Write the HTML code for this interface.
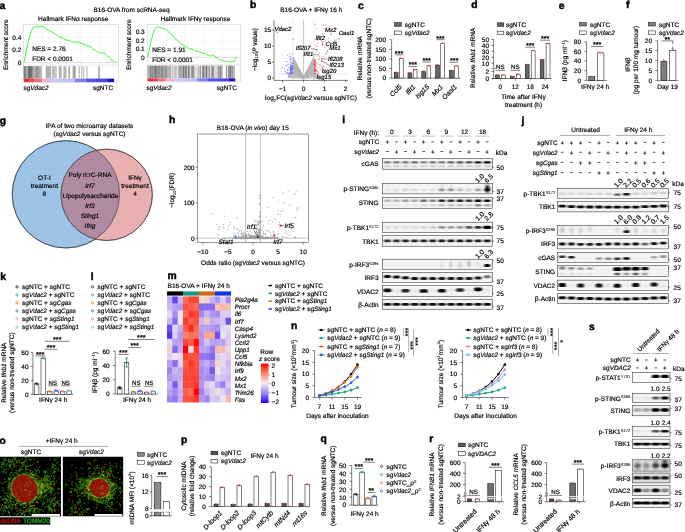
<!DOCTYPE html>
<html><head><meta charset="utf-8"><title>Figure</title>
<style>
html,body{margin:0;padding:0;background:#fff}
svg{display:block;text-rendering:geometricPrecision;font-family:"Liberation Sans",sans-serif;font-size:6.5px;stroke-width:0.18px}
text{stroke:#000;stroke-width:0.18px}
</style></head><body>
<svg width="685" height="532" viewBox="0 0 685 532">
<defs><filter id="bl" x="-30%" y="-60%" width="160%" height="220%"><feGaussianBlur stdDeviation="0.8 0.6"/></filter><filter id="bl2" x="-30%" y="-60%" width="160%" height="220%"><feGaussianBlur stdDeviation="0.9 0.9"/></filter><filter id="mb" x="-10%" y="-10%" width="120%" height="120%"><feGaussianBlur stdDeviation="0.5"/></filter><filter id="mb2" x="-10%" y="-10%" width="120%" height="120%"><feGaussianBlur stdDeviation="2.2"/></filter></defs>
<rect width="685" height="532" fill="#fff"/>
<text x="-0.50" y="8.51" font-weight="bold" style="stroke-width:0.45px" font-size="10.3">a</text>
<text x="131.50" y="12.34" text-anchor="middle">B16-OVA from scRNA-seq</text>
<rect x="23.40" y="24.40" width="95.20" height="58.20" fill="#fff" stroke="#c8c8c8" stroke-width="0.5"/>
<line x1="23.40" y1="37.60" x2="118.60" y2="37.60" stroke="#ececec" stroke-width="0.4"/>
<line x1="23.40" y1="50.10" x2="118.60" y2="50.10" stroke="#ececec" stroke-width="0.4"/>
<line x1="23.40" y1="62.60" x2="118.60" y2="62.60" stroke="#ececec" stroke-width="0.4"/>
<line x1="42.44" y1="24.40" x2="42.44" y2="65.20" stroke="#ececec" stroke-width="0.4"/>
<line x1="61.48" y1="24.40" x2="61.48" y2="65.20" stroke="#ececec" stroke-width="0.4"/>
<line x1="80.52" y1="24.40" x2="80.52" y2="65.20" stroke="#ececec" stroke-width="0.4"/>
<line x1="99.56" y1="24.40" x2="99.56" y2="65.20" stroke="#ececec" stroke-width="0.4"/>
<line x1="23.40" y1="62.60" x2="118.60" y2="62.60" stroke="#bdbdbd" stroke-width="0.5"/>
<line x1="23.40" y1="65.20" x2="118.60" y2="65.20" stroke="#c8c8c8" stroke-width="0.5"/>
<path d="M23.90 66.2V78.6M24.33 66.2V78.6M35.93 66.2V78.6M37.65 66.2V78.6M38.93 66.2V78.6M41.08 66.2V78.6" stroke="#1a1a1a" stroke-width="0.42" fill="none" opacity="0.65"/>
<path d="M24.76 66.2V78.6M25.19 66.2V78.6M25.62 66.2V78.6M27.77 66.2V78.6M28.20 66.2V78.6M28.63 66.2V78.6M32.92 66.2V78.6M36.36 66.2V78.6M46.16 66.2V78.6M46.92 66.2V78.6M47.84 66.2V78.6M48.77 66.2V78.6M49.69 66.2V78.6M50.61 66.2V78.6M52.60 66.2V78.6M53.68 66.2V78.6M54.91 66.2V78.6M56.13 66.2V78.6M59.36 66.2V78.6M60.28 66.2V78.6M61.20 66.2V78.6M63.96 66.2V78.6M64.88 66.2V78.6M65.80 66.2V78.6M68.87 66.2V78.6M69.64 66.2V78.6M73.02 66.2V78.6M73.79 66.2V78.6M74.55 66.2V78.6M75.32 66.2V78.6M79.31 66.2V78.6M81.77 66.2V78.6M83.76 66.2V78.6M86.99 66.2V78.6M98.65 66.2V78.6M99.57 66.2V78.6" stroke="#1a1a1a" stroke-width="0.42" fill="none" opacity="0.8"/>
<path d="M26.05 66.2V78.6M26.91 66.2V78.6M32.06 66.2V78.6M33.35 66.2V78.6M33.78 66.2V78.6M34.64 66.2V78.6M35.07 66.2V78.6M35.50 66.2V78.6M38.08 66.2V78.6M38.50 66.2V78.6M41.94 66.2V78.6" stroke="#1a1a1a" stroke-width="0.42" fill="none" opacity="0.35"/>
<path d="M26.48 66.2V78.6M32.49 66.2V78.6M34.21 66.2V78.6M36.79 66.2V78.6M37.22 66.2V78.6M39.36 66.2V78.6M39.79 66.2V78.6M40.65 66.2V78.6" stroke="#1a1a1a" stroke-width="0.42" fill="none" opacity="0.5"/>
<path d="M29.05 66.2V78.6M29.48 66.2V78.6M29.91 66.2V78.6M30.34 66.2V78.6M30.77 66.2V78.6M31.20 66.2V78.6M31.63 66.2V78.6" stroke="#1a1a1a" stroke-width="0.42" fill="none" opacity="0.9"/>
<rect x="23.90" y="78.60" width="5.51" height="3.50" fill="#e62e3c"/>
<rect x="29.31" y="78.60" width="5.51" height="3.50" fill="#ea4850"/>
<rect x="34.71" y="78.60" width="7.76" height="3.50" fill="#f07078"/>
<rect x="42.37" y="78.60" width="7.76" height="3.50" fill="#f6b0dc"/>
<rect x="50.03" y="78.60" width="11.81" height="3.50" fill="#cdc8fa"/>
<rect x="61.74" y="78.60" width="13.16" height="3.50" fill="#c4c0fa"/>
<rect x="74.81" y="78.60" width="11.36" height="3.50" fill="#8080f2"/>
<rect x="86.07" y="78.60" width="10.01" height="3.50" fill="#5050ea"/>
<rect x="95.98" y="78.60" width="11.36" height="3.50" fill="#4a44e6"/>
<rect x="107.24" y="78.60" width="6.86" height="3.50" fill="#2410c8"/>
<path d="M23.9 62.6 L24.4 60.6 L24.8 58.5 L25.3 56.5 L25.8 54.7 L26.2 51.6 L26.7 49.0 L27.2 46.7 L27.6 43.9 L28.1 42.2 L28.5 40.3 L29.0 38.5 L29.5 37.3 L29.9 35.9 L30.4 33.9 L30.9 32.8 L31.3 31.2 L31.8 30.8 L32.3 29.5 L32.7 28.4 L33.2 27.8 L33.7 27.0 L34.1 26.8 L34.6 27.2 L35.1 27.0 L36.0 26.6 L36.9 26.2 L37.8 26.5 L38.8 26.6 L39.8 26.3 L40.9 26.5 L41.9 26.3 L43.0 26.1 L44.0 26.8 L45.1 27.8 L46.1 28.6 L47.1 29.4 L48.3 29.9 L49.5 30.7 L50.6 31.6 L51.8 31.7 L53.0 32.7 L54.1 33.4 L55.3 34.6 L56.4 34.7 L57.6 35.5 L58.8 36.6 L59.9 37.1 L61.1 37.4 L62.3 38.0 L63.4 38.4 L64.6 39.3 L65.7 39.5 L66.9 40.1 L68.1 40.7 L69.2 40.9 L70.4 41.1 L71.1 41.3 L71.8 41.8 L72.5 42.0 L73.2 42.6 L73.9 42.3 L74.6 41.8 L75.3 41.9 L76.0 41.9 L76.9 41.9 L77.8 42.1 L78.8 42.5 L79.7 43.0 L80.9 43.3 L82.0 43.7 L83.2 43.9 L84.3 44.5 L85.5 44.9 L86.7 45.3 L87.8 46.0 L89.0 46.4 L89.9 46.6 L90.9 47.1 L91.8 48.1 L92.7 48.9 L93.6 49.7 L94.6 50.1 L95.5 50.4 L96.4 51.1 L97.4 51.8 L98.3 52.0 L99.2 53.0 L100.2 53.2 L100.9 52.7 L101.6 52.9 L102.2 52.8 L102.9 52.8 L103.4 52.8 L103.9 52.7 L104.3 53.7 L104.8 53.3 L105.5 54.0 L106.2 54.7 L106.9 55.5 L107.6 56.1 L108.5 57.1 L109.5 57.9 L110.4 58.7 L111.3 59.8 L112.0 59.7 L112.7 60.5 L113.4 61.3 L114.1 61.7 L114.5 61.9 L114.8 62.1 L115.2 62.4 L115.5 62.6" fill="none" stroke="#22ee22" stroke-width="0.9" stroke-linejoin="round"/>
<text x="21.40" y="39.94" text-anchor="end">0.4</text>
<text x="21.40" y="52.44" text-anchor="end">0.2</text>
<text x="21.40" y="64.94" text-anchor="end">0</text>
<text x="73.20" y="21.14" text-anchor="middle">Hallmark IFNα response</text>
<text x="32.20" y="50.84">NES = 2.76</text>
<text x="32.20" y="60.64">FDR &lt; 0.0001</text>
<text x="5.60" y="47.04" text-anchor="middle" transform="rotate(-90 5.60 44.70)">Enrichment score</text>
<text x="23.40" y="90.34">sg<tspan font-style="italic">Vdac2</tspan></text>
<text x="113.20" y="90.34" text-anchor="end">sgNTC</text>
<rect x="147.20" y="24.40" width="93.50" height="57.50" fill="#fff" stroke="#c8c8c8" stroke-width="0.5"/>
<line x1="147.20" y1="32.00" x2="240.70" y2="32.00" stroke="#ececec" stroke-width="0.4"/>
<line x1="147.20" y1="40.30" x2="240.70" y2="40.30" stroke="#ececec" stroke-width="0.4"/>
<line x1="147.20" y1="48.70" x2="240.70" y2="48.70" stroke="#ececec" stroke-width="0.4"/>
<line x1="147.20" y1="57.30" x2="240.70" y2="57.30" stroke="#ececec" stroke-width="0.4"/>
<line x1="165.90" y1="24.40" x2="165.90" y2="64.80" stroke="#ececec" stroke-width="0.4"/>
<line x1="184.60" y1="24.40" x2="184.60" y2="64.80" stroke="#ececec" stroke-width="0.4"/>
<line x1="203.30" y1="24.40" x2="203.30" y2="64.80" stroke="#ececec" stroke-width="0.4"/>
<line x1="222.00" y1="24.40" x2="222.00" y2="64.80" stroke="#ececec" stroke-width="0.4"/>
<line x1="147.20" y1="57.30" x2="240.70" y2="57.30" stroke="#bdbdbd" stroke-width="0.5"/>
<line x1="147.20" y1="64.80" x2="240.70" y2="64.80" stroke="#c8c8c8" stroke-width="0.5"/>
<path d="M147.70 65.7V78.4M148.54 65.7V78.4M148.96 65.7V78.4M154.40 65.7V78.4M155.24 65.7V78.4M156.49 65.7V78.4M157.33 65.7V78.4M157.75 65.7V78.4M160.26 65.7V78.4M161.10 65.7V78.4M162.35 65.7V78.4M163.19 65.7V78.4M163.61 65.7V78.4M164.45 65.7V78.4M165.70 65.7V78.4" stroke="#1a1a1a" stroke-width="0.42" fill="none" opacity="0.5"/>
<path d="M149.37 65.7V78.4M149.79 65.7V78.4M151.47 65.7V78.4M151.89 65.7V78.4M153.56 65.7V78.4M158.17 65.7V78.4M164.03 65.7V78.4M164.87 65.7V78.4M166.54 65.7V78.4M168.21 65.7V78.4" stroke="#1a1a1a" stroke-width="0.42" fill="none" opacity="0.35"/>
<path d="M150.21 65.7V78.4M150.63 65.7V78.4M152.72 65.7V78.4M154.82 65.7V78.4M158.59 65.7V78.4M159.00 65.7V78.4M159.42 65.7V78.4M166.96 65.7V78.4M169.05 65.7V78.4M169.89 65.7V78.4M170.73 65.7V78.4M181.19 65.7V78.4M182.87 65.7V78.4M183.70 65.7V78.4M186.64 65.7V78.4M188.31 65.7V78.4M188.73 65.7V78.4M189.15 65.7V78.4M192.50 65.7V78.4M195.01 65.7V78.4M199.20 65.7V78.4M200.45 65.7V78.4M202.54 65.7V78.4M202.96 65.7V78.4M203.38 65.7V78.4M205.89 65.7V78.4M206.31 65.7V78.4M207.15 65.7V78.4M209.24 65.7V78.4M209.66 65.7V78.4M211.34 65.7V78.4M212.59 65.7V78.4M213.43 65.7V78.4M213.85 65.7V78.4M220.13 65.7V78.4M220.55 65.7V78.4M221.38 65.7V78.4M222.22 65.7V78.4M226.41 65.7V78.4M226.83 65.7V78.4M228.50 65.7V78.4M228.92 65.7V78.4M229.76 65.7V78.4M230.18 65.7V78.4M230.59 65.7V78.4M231.01 65.7V78.4M231.85 65.7V78.4M232.69 65.7V78.4M233.11 65.7V78.4M234.36 65.7V78.4" stroke="#1a1a1a" stroke-width="0.42" fill="none" opacity="0.8"/>
<path d="M151.05 65.7V78.4M156.91 65.7V78.4M160.68 65.7V78.4M161.52 65.7V78.4M161.93 65.7V78.4M162.77 65.7V78.4M165.28 65.7V78.4M166.12 65.7V78.4M167.80 65.7V78.4" stroke="#1a1a1a" stroke-width="0.42" fill="none" opacity="0.65"/>
<path d="M152.31 65.7V78.4M153.98 65.7V78.4M155.65 65.7V78.4M156.07 65.7V78.4M178.26 65.7V78.4M179.52 65.7V78.4M180.36 65.7V78.4M183.29 65.7V78.4M184.12 65.7V78.4M185.38 65.7V78.4M186.22 65.7V78.4M189.98 65.7V78.4M191.66 65.7V78.4M193.33 65.7V78.4M204.64 65.7V78.4M206.73 65.7V78.4M212.17 65.7V78.4M215.94 65.7V78.4M218.45 65.7V78.4M219.29 65.7V78.4" stroke="#1a1a1a" stroke-width="0.42" fill="none" opacity="0.9"/>
<path d="M172.40 65.7V78.4M173.24 65.7V78.4M174.91 65.7V78.4M175.33 65.7V78.4M176.59 65.7V78.4M181.61 65.7V78.4M184.96 65.7V78.4M187.05 65.7V78.4M192.08 65.7V78.4M193.75 65.7V78.4M197.10 65.7V78.4M198.36 65.7V78.4M200.87 65.7V78.4M203.80 65.7V78.4M208.41 65.7V78.4M217.62 65.7V78.4" stroke="#1a1a1a" stroke-width="0.42" fill="none" opacity="0.6"/>
<rect x="147.70" y="78.40" width="5.35" height="3.00" fill="#e62e3c"/>
<rect x="152.95" y="78.40" width="5.35" height="3.00" fill="#ea4850"/>
<rect x="158.20" y="78.40" width="7.54" height="3.00" fill="#f07078"/>
<rect x="165.64" y="78.40" width="7.54" height="3.00" fill="#f6b0dc"/>
<rect x="173.07" y="78.40" width="11.47" height="3.00" fill="#cdc8fa"/>
<rect x="184.45" y="78.40" width="12.79" height="3.00" fill="#c4c0fa"/>
<rect x="197.14" y="78.40" width="11.04" height="3.00" fill="#8080f2"/>
<rect x="208.07" y="78.40" width="9.73" height="3.00" fill="#5050ea"/>
<rect x="217.70" y="78.40" width="11.04" height="3.00" fill="#4a44e6"/>
<rect x="228.64" y="78.40" width="6.66" height="3.00" fill="#2410c8"/>
<path d="M147.4 57.3 L147.7 56.0 L148.1 54.8 L148.4 53.5 L148.7 52.2 L149.1 50.6 L149.4 49.0 L149.7 47.3 L150.1 45.5 L150.5 43.5 L151.0 41.6 L151.4 39.8 L151.8 38.3 L152.3 36.7 L152.7 35.2 L153.2 33.4 L153.6 31.7 L154.1 30.8 L154.5 29.9 L155.0 28.9 L155.4 28.4 L155.9 27.5 L156.3 27.2 L156.7 27.3 L157.2 26.9 L157.9 27.1 L158.5 26.7 L159.2 27.4 L159.9 27.7 L160.5 27.5 L161.2 27.9 L161.9 28.4 L162.5 28.5 L163.2 28.4 L163.9 28.9 L164.5 29.0 L165.2 28.9 L165.9 29.6 L166.5 30.3 L167.2 30.7 L167.9 31.6 L168.8 32.1 L169.7 32.9 L170.5 33.9 L171.4 34.9 L172.3 35.1 L173.2 36.4 L174.1 37.6 L175.0 38.2 L175.9 38.9 L176.8 40.4 L177.7 41.3 L178.6 42.0 L179.7 42.4 L180.8 43.7 L181.9 44.1 L183.0 44.9 L184.1 45.7 L185.2 46.6 L186.3 46.6 L187.5 47.4 L188.6 48.0 L189.7 48.7 L190.8 48.7 L191.9 49.4 L193.0 49.6 L194.1 50.3 L195.2 50.4 L196.4 51.3 L197.5 51.6 L198.6 51.4 L199.7 51.9 L200.8 52.8 L201.9 52.7 L203.0 53.5 L204.1 53.2 L205.2 53.7 L206.4 54.4 L207.5 55.0 L208.6 55.6 L209.7 55.3 L210.6 55.9 L211.5 55.1 L212.4 54.9 L213.3 55.1 L214.2 56.2 L215.0 56.4 L215.9 57.0 L216.8 58.0 L217.7 58.6 L218.6 59.1 L219.5 59.5 L220.4 60.1 L221.3 60.0 L222.2 60.5 L223.1 61.0 L223.9 61.4 L224.8 61.1 L225.7 61.5 L226.6 61.4 L227.5 61.7 L228.4 61.3 L229.3 61.4 L230.2 62.2 L231.1 62.2 L231.8 62.0 L232.6 61.3 L233.4 61.4 L234.2 61.7 L234.4 61.3 L234.6 60.5 L234.8 60.0 L235.1 59.8 L235.2 59.2 L235.3 58.6 L235.4 57.9 L235.5 57.3 L235.7 57.3 L236.0 57.3 L236.2 57.3 L236.4 57.3" fill="none" stroke="#22ee22" stroke-width="0.9" stroke-linejoin="round"/>
<text x="144.70" y="34.34" text-anchor="end">0.3</text>
<text x="144.70" y="42.64" text-anchor="end">0.2</text>
<text x="144.70" y="51.04" text-anchor="end">0.1</text>
<text x="144.70" y="59.64" text-anchor="end">0</text>
<text x="195.50" y="21.14" text-anchor="middle">Hallmark IFNγ response</text>
<text x="152.20" y="52.04">NES = 1.91</text>
<text x="152.20" y="62.14">FDR &lt; 0.0001</text>
<text x="128.80" y="47.04" text-anchor="middle" transform="rotate(-90 128.80 44.70)">Enrichment score</text>
<text x="146.40" y="90.34">sg<tspan font-style="italic">Vdac2</tspan></text>
<text x="237.00" y="90.34" text-anchor="end">sgNTC</text>
<text x="250.00" y="8.21" font-weight="bold" style="stroke-width:0.45px" font-size="10.3">b</text>
<text x="311.30" y="12.34" text-anchor="middle">B16-OVA + IFNγ 16 h</text>
<line x1="293.10" y1="20.00" x2="293.10" y2="80.40" stroke="#d4d4d4" stroke-width="0.5"/>
<line x1="314.10" y1="20.00" x2="314.10" y2="80.40" stroke="#d4d4d4" stroke-width="0.5"/>
<line x1="303.60" y1="20.00" x2="303.60" y2="80.40" stroke="#8c8c8c" stroke-width="0.5"/>
<line x1="274.00" y1="73.94" x2="348.00" y2="73.94" stroke="#dcdcdc" stroke-width="0.5"/>
<path d="M308.7 69.0h0M303.0 78.0h0M312.9 64.2h0M294.1 74.3h0M298.3 70.9h0M293.4 71.4h0M312.3 63.3h0M309.8 75.1h0M295.8 78.0h0M304.3 75.9h0M306.4 75.6h0M297.5 74.2h0M302.1 75.2h0M306.4 75.2h0M296.2 76.1h0M305.8 78.0h0M300.2 75.0h0M301.4 75.1h0M303.2 76.9h0M313.6 76.9h0M310.8 77.4h0M299.9 77.9h0M296.9 64.5h0M309.0 67.3h0M307.7 74.1h0M304.1 76.6h0M308.8 68.7h0M313.5 74.7h0M305.9 73.0h0M312.5 66.4h0M299.8 75.8h0M296.2 66.4h0M305.9 76.7h0M313.8 65.0h0M298.1 70.2h0M299.4 77.0h0M304.8 77.9h0M310.7 74.9h0M313.0 64.3h0M307.1 76.2h0M306.4 75.6h0M314.1 59.0h0M298.9 70.2h0M299.2 73.3h0M301.0 72.2h0M305.0 75.6h0M300.2 76.9h0M309.5 66.8h0M309.6 67.6h0M307.0 71.9h0M307.9 74.5h0M309.3 69.0h0M313.0 64.1h0M293.3 64.7h0M307.2 73.6h0M299.1 73.7h0M308.6 68.8h0M310.8 64.5h0M313.6 58.2h0M304.2 77.6h0M297.6 66.0h0M307.6 71.3h0M296.7 66.1h0M307.1 74.1h0M309.4 69.4h0M293.7 72.9h0M306.8 75.8h0M306.3 77.5h0M297.9 76.7h0M299.8 75.8h0M293.8 66.8h0M305.9 74.4h0M312.1 78.0h0M298.9 73.0h0M310.6 71.1h0M306.0 77.2h0M300.2 73.1h0M305.4 74.3h0M300.9 76.7h0M304.9 74.8h0M299.6 72.1h0M311.9 78.0h0M305.0 75.6h0M306.3 72.4h0M302.2 76.9h0M313.5 68.2h0M308.4 74.3h0M300.7 74.2h0M299.8 69.9h0M299.1 72.5h0M306.2 74.9h0M309.5 67.2h0M304.3 77.3h0M304.2 77.3h0M313.9 69.7h0M303.1 76.8h0M308.7 75.9h0M300.5 75.3h0M300.2 75.0h0M302.9 77.0h0M305.5 77.7h0M302.7 75.6h0M302.9 76.3h0M305.2 75.1h0M303.2 76.7h0M301.3 73.4h0M299.3 70.0h0M310.7 66.8h0M299.1 70.1h0M303.4 77.8h0M304.6 76.4h0M296.3 67.9h0M306.4 72.7h0M304.9 75.7h0M308.3 68.2h0M303.2 76.7h0M306.7 71.5h0M295.9 71.7h0M302.3 77.3h0M301.8 77.0h0M294.0 74.4h0M294.6 75.9h0M308.7 68.2h0M302.2 76.6h0M303.4 76.9h0M294.3 63.4h0M306.4 74.3h0M298.1 73.8h0M298.4 69.2h0M295.9 72.7h0M308.6 75.2h0M306.9 77.0h0M295.0 74.4h0M298.1 67.5h0M299.9 71.2h0M308.3 77.0h0M313.1 63.4h0M295.5 61.7h0M310.3 74.9h0M300.5 75.8h0M306.0 75.6h0M296.0 64.2h0M310.0 70.9h0M301.6 75.2h0M305.1 75.0h0M295.1 76.7h0M293.9 59.8h0M309.1 78.1h0M311.8 66.2h0M302.9 77.7h0M296.4 70.9h0M311.6 74.1h0M298.9 75.5h0M298.0 71.3h0M312.5 69.4h0M301.2 74.9h0M297.8 75.6h0M299.2 71.0h0M296.5 73.7h0M297.9 76.3h0M313.5 68.5h0M302.9 77.3h0M308.2 75.6h0M307.2 70.5h0M302.1 74.5h0M294.4 62.3h0M294.0 65.5h0M299.7 76.7h0M312.0 67.9h0M303.1 77.9h0M294.2 68.3h0M298.5 72.5h0M294.2 76.4h0M305.7 75.5h0M294.9 70.5h0M304.5 75.7h0M311.1 73.2h0M304.4 76.7h0M301.0 73.9h0M312.3 70.7h0M310.5 73.4h0M299.6 76.7h0M308.1 69.7h0M295.8 75.6h0M294.9 68.5h0M298.3 76.7h0M294.1 72.2h0M300.9 77.0h0M299.7 71.2h0M311.9 65.5h0M299.6 70.5h0M313.2 62.6h0M298.7 69.1h0M295.8 76.0h0M298.6 70.1h0M294.4 62.6h0M293.7 75.9h0M300.6 72.1h0M301.5 74.7h0M302.1 76.3h0M293.4 64.0h0M303.3 77.3h0M308.0 72.9h0M301.7 74.3h0M299.8 70.2h0M302.2 76.2h0M308.4 68.1h0M295.3 63.3h0M294.2 59.0h0M305.2 75.8h0M301.6 75.7h0M298.9 75.1h0M300.6 72.7h0M300.5 75.7h0M308.0 71.5h0M296.1 64.5h0M293.9 72.8h0M308.2 69.0h0M309.8 72.4h0M311.2 66.9h0M296.7 71.1h0M303.8 77.2h0M301.3 75.8h0M299.7 73.9h0M307.9 73.5h0M307.4 71.8h0M304.4 76.1h0M305.6 74.6h0M299.1 76.7h0M300.6 73.6h0M294.9 64.0h0M312.6 71.0h0M294.6 63.1h0M313.2 59.8h0M310.7 66.3h0M297.5 70.2h0M304.4 76.6h0M293.2 67.5h0M306.8 71.5h0M301.2 77.1h0M304.7 75.7h0M311.7 72.8h0M298.7 70.8h0M306.5 72.7h0M294.4 65.7h0M308.8 68.1h0M301.9 75.9h0M312.1 70.9h0M305.8 73.0h0M293.7 74.1h0M305.8 76.7h0M305.6 74.7h0M308.4 76.8h0M310.6 63.9h0M311.0 67.0h0M304.5 75.9h0M295.2 73.0h0M295.0 73.8h0M295.3 64.1h0M310.2 66.2h0M312.5 60.3h0M313.4 74.4h0M294.5 72.3h0M302.7 76.2h0M294.9 68.9h0M301.0 76.9h0M301.0 73.6h0M313.3 58.9h0M309.1 69.0h0M295.6 68.5h0M308.6 68.1h0M299.2 72.5h0M309.7 69.6h0M300.2 71.4h0M294.2 67.9h0M307.1 77.0h0M295.1 68.0h0M310.0 69.6h0M312.7 75.0h0M310.1 77.8h0M303.1 77.5h0M301.1 74.6h0M297.7 65.8h0M303.0 77.8h0M313.1 63.2h0M294.2 68.5h0M304.2 77.1h0M312.0 65.5h0M293.9 76.9h0M296.3 64.9h0M308.0 73.5h0M303.9 77.7h0M294.7 68.5h0M306.5 74.6h0M303.0 77.3h0M295.7 73.8h0M294.7 69.1h0M303.5 77.2h0M293.5 60.0h0M301.8 76.6h0M302.3 74.8h0M297.0 70.7h0M308.9 72.7h0M306.5 71.6h0M295.0 74.7h0M301.0 75.3h0M305.3 74.0h0M305.0 76.8h0M308.5 75.8h0M307.9 77.8h0M307.7 73.4h0M305.9 73.6h0M303.6 78.0h0M300.4 77.7h0M302.6 76.0h0M300.1 72.0h0M307.4 70.2h0M302.8 75.8h0M302.5 75.8h0M301.3 73.0h0M304.7 75.5h0M300.5 74.0h0M297.5 70.9h0M294.9 70.1h0M313.4 70.7h0M309.6 68.0h0M310.5 67.9h0M306.3 76.0h0M311.5 69.2h0M306.0 76.6h0M294.2 62.6h0M293.3 76.1h0M295.1 76.5h0M295.6 65.0h0M306.0 76.3h0M303.9 77.8h0M307.5 76.7h0M302.8 76.3h0M303.3 77.1h0M302.0 77.3h0M303.4 78.1h0M307.1 73.4h0M301.2 76.3h0M313.0 72.2h0M300.5 77.1h0M306.2 73.9h0M296.0 68.8h0M302.5 76.1h0M304.1 77.7h0M303.5 77.4h0M297.8 71.7h0M301.5 73.8h0M295.4 71.9h0M311.8 71.8h0M306.6 71.7h0M309.3 72.8h0M306.4 72.6h0M294.1 59.0h0M306.5 73.0h0M301.7 76.1h0M294.5 63.4h0M311.4 76.1h0M296.9 64.6h0M307.6 76.5h0M297.9 77.3h0M299.2 76.3h0M312.7 60.0h0M295.3 63.9h0M304.4 77.7h0M300.6 73.8h0M298.8 71.5h0M301.0 74.5h0M304.9 76.5h0M312.4 70.2h0M301.3 77.5h0M303.2 77.2h0M312.4 66.1h0M299.1 70.3h0M303.0 76.5h0M295.9 73.3h0M308.4 76.2h0M305.3 77.4h0M306.1 73.0h0M307.8 76.4h0M298.4 73.0h0M308.2 76.0h0M305.5 76.1h0M306.5 74.3h0M306.6 75.1h0M301.9 77.2h0M301.8 73.8h0M306.9 72.2h0M293.1 57.5h0M311.0 66.7h0M310.7 67.0h0M308.5 71.8h0M306.0 73.4h0M303.5 78.1h0M304.7 77.8h0M303.2 77.8h0M313.6 59.9h0M310.5 67.6h0M306.6 75.8h0M293.3 62.6h0M308.7 71.6h0M299.5 71.1h0M305.6 74.2h0M307.5 77.0h0M310.8 74.5h0M293.4 60.9h0M302.7 76.7h0M295.7 68.6h0M293.6 60.8h0M297.9 69.7h0M311.0 67.4h0M311.7 61.4h0M294.5 69.7h0M300.9 77.1h0M293.2 66.7h0M308.4 73.0h0M313.1 60.0h0M297.7 71.7h0M301.7 77.8h0M309.2 69.0h0M298.0 69.2h0M310.0 66.7h0M307.0 72.7h0M296.8 67.0h0M297.1 72.2h0M307.4 71.2h0M304.3 76.2h0M295.1 66.0h0M296.1 72.0h0M296.2 70.0h0M293.2 64.5h0M305.5 73.8h0M296.3 77.7h0M305.7 74.0h0M310.0 70.7h0M300.4 73.2h0M296.7 70.4h0M310.4 73.4h0M310.2 76.2h0M297.7 68.9h0M295.1 64.1h0M299.8 70.7h0M301.3 77.0h0M294.8 65.1h0M309.5 69.2h0M303.9 77.3h0M296.3 72.2h0M294.6 64.2h0M299.2 76.5h0M312.7 70.7h0M300.4 71.2h0M300.3 75.8h0M302.8 77.7h0M300.6 74.4h0M309.2 76.7h0M299.1 74.5h0M299.7 73.0h0M303.5 77.5h0M306.9 73.0h0M302.1 77.3h0M311.6 71.3h0M305.8 74.7h0M302.5 75.7h0M295.4 64.3h0M305.2 75.3h0M306.9 77.5h0M296.5 71.6h0M303.8 77.0h0M304.3 76.6h0M305.7 76.0h0M295.4 62.6h0M309.6 66.0h0M307.9 73.5h0M305.8 73.9h0M302.7 77.1h0M301.7 73.9h0M298.5 70.4h0M306.0 75.0h0M293.8 60.8h0M298.2 71.3h0M303.7 77.2h0M303.6 77.7h0M305.9 76.7h0M308.3 74.2h0M294.1 71.7h0M305.0 75.1h0M302.7 77.9h0M297.1 64.6h0M298.3 76.6h0M314.0 61.0h0M307.4 75.1h0M298.8 76.8h0M308.2 72.3h0M299.5 70.2h0M297.3 67.6h0M312.2 66.5h0M305.1 76.6h0M298.6 72.1h0M294.8 71.7h0M313.2 66.5h0M303.4 77.6h0M299.8 72.1h0M298.0 68.1h0M296.2 77.7h0M297.9 77.9h0M297.9 74.4h0M305.4 76.4h0M297.4 65.9h0M305.5 74.5h0M303.3 76.9h0M307.6 76.8h0M302.9 76.7h0M308.7 73.2h0M304.1 76.6h0M304.9 75.8h0M299.7 74.8h0M305.7 74.5h0M302.5 76.1h0M295.2 61.7h0M303.6 77.8h0M298.8 75.5h0M312.2 75.4h0M307.7 71.8h0M297.9 73.4h0M300.6 74.2h0M296.2 66.7h0M303.1 77.0h0M304.8 75.1h0M294.0 66.3h0M300.0 72.2h0M306.0 74.2h0M312.5 63.8h0M307.9 75.0h0M306.1 77.4h0M304.3 76.7h0M309.2 71.4h0M308.4 72.5h0M313.9 69.0h0M313.2 75.0h0M300.6 72.4h0M299.3 75.9h0M306.0 73.8h0M306.2 77.3h0M312.3 60.8h0M296.1 71.3h0M297.5 68.9h0M302.4 75.6h0M298.7 70.4h0M294.1 59.1h0M303.6 78.0h0M312.6 71.0h0M310.1 73.4h0M305.0 74.7h0M300.0 75.2h0M293.1 73.7h0M299.7 71.1h0M303.8 77.6h0M299.3 71.5h0M295.6 67.8h0M296.1 65.1h0M302.3 75.4h0M311.4 71.2h0M312.2 68.7h0M298.5 67.4h0M308.6 69.0h0M299.5 73.1h0M306.0 72.9h0M313.8 64.6h0M294.8 68.5h0M302.6 77.0h0M300.0 71.6h0M302.0 77.4h0M314.0 63.1h0M307.2 72.2h0M300.8 76.6h0M295.6 69.7h0M307.3 74.5h0M299.7 73.1h0M311.0 69.1h0M294.9 61.6h0M299.2 70.7h0M311.8 61.9h0M294.2 67.8h0M304.2 76.8h0M298.0 76.6h0M296.9 70.4h0M307.6 70.9h0M313.0 60.7h0M311.7 71.3h0M300.7 75.3h0M308.7 69.5h0M299.0 70.8h0M295.2 65.1h0M300.4 74.9h0M297.8 70.6h0M298.7 72.7h0M297.8 66.5h0M311.6 75.3h0M308.6 69.4h0M303.1 76.7h0M297.2 73.8h0M293.9 58.8h0M299.6 74.1h0M299.0 69.8h0M296.7 64.9h0M308.1 75.0h0M300.6 75.4h0M305.9 75.0h0M307.4 73.4h0M304.9 76.2h0M308.9 70.5h0M301.1 73.7h0M301.9 77.0h0M307.5 74.4h0M293.6 76.9h0M300.6 74.5h0M312.2 64.5h0M313.9 72.2h0M306.6 75.4h0M298.5 75.6h0M299.4 74.5h0M308.6 73.5h0M300.0 70.4h0M303.0 76.8h0M298.6 76.6h0M305.3 75.2h0M297.6 65.6h0M302.0 75.8h0M309.1 70.4h0M313.2 65.9h0M304.6 76.2h0M295.5 74.4h0M300.4 76.6h0M297.9 68.4h0M301.9 74.7h0M307.1 72.2h0M293.1 63.6h0M305.1 75.6h0M304.5 76.7h0M299.4 75.1h0M305.9 73.2h0M303.6 77.5h0M301.7 76.4h0M301.2 77.6h0M300.6 73.1h0M303.4 77.1h0M300.5 72.5h0M302.0 74.5h0M304.4 76.0h0M310.3 74.0h0M294.0 69.5h0M306.6 71.4h0M301.3 77.0h0M294.6 61.6h0M297.1 64.9h0M309.0 73.0h0M300.8 71.9h0M312.1 62.0h0M298.7 69.8h0M301.6 74.8h0M305.9 72.9h0M296.2 73.5h0M294.1 78.0h0M298.5 71.7h0M304.9 75.7h0M305.3 75.5h0M298.3 70.7h0M300.8 77.0h0M311.3 64.1h0M311.9 66.2h0M302.4 77.5h0M299.7 71.5h0M298.8 73.3h0M300.8 71.8h0M304.3 77.5h0M308.4 73.0h0M307.5 74.9h0M297.4 73.9h0M302.1 74.6h0M312.3 71.5h0M295.3 70.9h0M298.4 67.3h0M297.0 70.7h0M298.3 73.2h0M307.4 73.0h0M298.4 75.6h0M302.3 77.6h0M298.5 69.1h0M311.1 63.1h0M309.7 73.9h0M295.0 68.1h0M298.5 69.3h0M311.7 65.2h0M293.8 70.5h0M300.9 74.0h0M302.9 76.1h0M305.1 75.2h0M305.8 73.0h0M298.8 68.3h0M305.7 76.1h0M303.4 76.9h0M304.8 74.9h0M305.2 76.4h0M304.0 77.0h0M295.2 71.9h0M296.1 65.6h0M296.6 67.9h0M310.6 67.5h0M302.6 77.0h0M301.1 75.2h0M296.9 70.5h0M302.4 77.1h0M309.7 73.8h0M301.0 74.8h0M312.5 65.4h0M300.3 73.7h0M301.3 77.4h0M311.3 63.3h0M301.2 74.5h0M296.8 69.1h0M297.2 70.8h0M302.3 75.7h0M298.1 69.8h0M299.4 72.9h0M306.3 72.6h0M304.4 76.6h0M298.2 74.1h0M307.5 75.0h0M302.6 77.1h0M313.2 76.4h0M308.6 73.0h0M309.4 66.0h0M307.9 73.4h0M308.6 70.8h0M302.4 76.4h0M296.3 75.6h0M301.7 73.8h0M294.4 63.6h0M304.9 76.2h0M312.6 67.1h0M296.1 63.1h0M312.7 73.6h0M307.4 73.6h0M298.0 68.4h0M297.1 67.3h0M303.4 77.5h0M299.9 73.5h0M304.3 76.4h0M301.5 75.8h0M305.1 75.5h0M302.9 76.7h0M303.0 76.7h0M303.7 77.6h0M310.0 69.2h0M311.9 68.0h0M313.8 69.0h0M304.6 77.0h0M313.4 62.7h0M307.5 72.2h0M307.2 74.3h0M311.1 70.4h0M302.8 77.1h0M311.5 61.8h0M298.1 67.5h0M306.1 76.1h0M303.5 77.9h0M301.4 77.1h0M305.8 76.0h0M309.7 73.2h0M302.1 76.4h0M297.9 68.3h0M308.9 73.0h0M300.8 72.0h0M299.0 74.0h0M311.4 73.8h0M293.5 68.8h0M302.6 76.1h0M300.7 74.7h0M313.1 62.6h0M297.4 67.1h0M308.8 69.1h0M310.4 73.8h0M308.8 68.6h0M301.2 73.7h0M302.4 75.0h0M312.9 60.5h0M306.6 75.8h0M302.3 77.2h0M296.3 69.2h0M313.2 73.9h0M311.1 67.6h0M300.1 70.4h0M298.2 70.9h0M299.9 70.5h0M293.8 63.6h0M299.1 71.3h0M302.7 76.2h0M303.4 76.9h0M305.0 75.4h0M303.4 77.7h0M313.1 71.6h0M297.0 66.0h0M293.6 72.5h0M308.0 73.7h0M296.5 67.3h0M304.7 76.1h0M298.7 72.7h0M294.6 60.2h0M304.9 75.5h0M298.3 70.1h0M301.3 72.9h0M308.1 71.1h0M307.7 74.7h0M304.8 75.9h0M312.1 61.1h0M309.9 72.8h0M295.5 67.4h0M303.0 77.3h0M302.2 76.9h0M300.1 76.5h0M313.5 75.8h0M301.7 75.7h0M294.3 65.9h0M299.4 71.0h0M304.6 77.3h0M313.0 69.9h0M298.3 67.9h0M307.1 70.8h0M297.2 70.4h0M303.2 76.9h0M301.7 74.2h0M297.2 68.1h0M297.6 71.8h0M293.8 68.7h0M299.0 72.1h0M302.7 76.1h0M301.6 74.9h0M307.4 73.7h0M300.4 73.0h0M303.3 77.3h0M295.8 69.0h0M306.6 72.3h0M296.1 73.5h0M296.0 64.8h0M299.8 76.2h0M304.4 76.5h0M293.9 64.8h0M304.7 76.2h0M306.6 72.3h0M303.0 77.0h0M306.5 74.4h0M310.6 66.5h0M300.1 72.0h0M297.7 66.9h0M304.3 77.5h0M304.7 76.4h0M310.8 68.9h0M302.8 77.3h0M304.6 77.9h0M294.8 68.3h0M298.2 68.5h0M312.5 72.7h0M306.1 73.4h0M297.0 71.3h0M313.4 63.4h0M303.1 76.5h0M303.7 77.2h0M301.5 76.7h0M299.2 74.6h0M307.5 71.9h0M299.5 70.0h0M305.5 73.6h0M296.3 75.1h0M308.5 72.7h0M301.0 72.9h0M299.5 74.8h0M293.7 70.8h0M302.6 76.4h0M305.4 74.1h0M304.4 77.1h0M305.0 74.7h0M295.1 69.7h0M305.0 76.7h0M294.4 68.5h0M300.0 76.0h0M301.9 76.0h0M306.7 75.3h0M306.6 72.8h0M300.3 71.5h0M301.7 77.1h0M305.4 74.0h0M313.4 67.8h0M300.3 74.6h0M294.8 61.1h0M304.8 75.0h0M299.4 75.1h0M293.8 66.7h0M304.9 77.6h0M295.9 64.6h0M307.3 76.2h0M294.6 62.7h0M311.8 71.4h0M303.5 77.8h0M302.1 77.2h0M304.3 76.5h0M306.0 76.4h0M298.1 68.4h0M299.2 76.8h0M304.5 77.3h0M311.9 71.0h0M301.5 73.7h0M312.1 67.0h0M303.6 78.0h0M310.7 64.2h0M299.9 72.3h0M302.2 77.2h0M308.8 71.4h0M313.8 63.5h0M310.9 67.4h0M311.5 71.1h0M305.1 77.0h0M303.1 77.6h0M296.5 68.3h0M306.0 74.5h0M295.8 71.0h0M312.1 71.7h0M305.0 77.7h0M309.8 66.1h0M312.0 76.6h0M300.4 74.2h0M310.4 73.4h0M308.9 67.8h0M304.6 76.4h0M310.8 72.3h0M296.7 70.6h0M313.3 73.3h0M293.7 68.8h0M296.4 63.6h0M308.1 75.0h0M293.2 73.7h0M300.5 77.4h0M299.7 75.8h0M308.0 73.8h0M297.1 69.2h0M312.5 60.7h0M303.0 77.2h0M305.2 75.0h0M301.5 74.2h0M300.3 75.6h0M311.2 71.5h0M294.1 59.6h0M308.7 76.1h0M310.1 72.7h0M301.1 73.4h0M304.5 77.8h0M312.3 71.0h0M311.3 64.2h0M307.7 70.8h0M306.1 72.6h0M309.9 69.9h0M313.7 57.5h0M294.7 61.5h0M295.9 67.0h0M300.1 73.1h0M306.6 72.2h0M303.2 77.5h0M301.9 74.7h0M307.1 73.5h0M305.3 75.2h0M300.4 77.7h0M311.4 67.5h0M309.8 71.0h0M300.5 72.4h0M303.5 78.1h0M306.6 72.5h0M305.2 75.1h0M308.8 69.9h0M309.6 70.0h0M298.5 69.1h0M295.1 65.6h0M311.5 73.3h0M298.6 71.9h0M297.2 69.6h0M305.3 76.9h0M293.4 57.7h0M306.0 77.6h0M301.1 72.8h0M306.5 73.2h0M298.1 75.3h0M299.3 71.7h0M293.8 62.2h0M302.2 76.3h0M300.0 70.9h0M295.2 67.7h0M305.1 77.0h0M299.5 71.0h0M312.4 62.1h0M302.6 77.9h0M302.7 75.6h0M313.6 66.3h0M308.9 71.8h0M293.8 58.7h0M305.3 75.2h0M300.5 75.3h0M301.5 75.7h0M307.8 69.4h0M295.6 72.1h0M307.6 70.7h0M300.1 72.7h0M312.3 68.8h0M294.5 60.8h0M307.3 70.9h0M302.8 77.6h0M307.1 70.5h0M310.7 67.2h0M296.1 68.7h0M297.3 65.9h0M296.6 67.8h0M312.8 59.3h0M307.7 75.9h0M305.1 77.5h0M299.1 68.8h0M299.6 71.2h0M304.6 76.4h0M297.2 67.9h0M302.6 75.6h0M308.4 69.4h0M304.2 77.0h0M294.9 72.9h0M309.6 67.6h0M305.8 75.3h0M298.7 73.4h0M309.3 67.0h0M295.6 63.2h0M306.5 73.6h0M312.1 73.8h0M303.5 77.7h0M310.0 69.2h0M305.3 76.9h0M305.2 75.5h0M303.7 77.9h0M304.0 76.7h0M307.5 72.2h0M295.0 71.6h0M304.3 76.2h0M306.1 75.7h0M297.0 75.4h0M293.9 58.4h0M309.0 72.1h0M298.4 67.4h0M313.3 61.6h0M302.0 77.4h0M300.4 73.5h0M313.1 58.7h0M299.1 75.8h0M307.8 75.5h0M303.6 77.8h0M311.6 61.5h0M310.7 68.2h0M298.1 76.0h0M302.1 77.3h0M299.9 76.3h0M298.5 67.4h0M306.1 74.5h0M301.5 73.8h0M308.4 68.8h0M305.9 75.8h0M298.6 74.1h0M303.9 76.9h0M297.6 75.4h0M307.4 75.5h0M310.7 69.5h0M296.5 64.0h0M307.1 74.2h0M301.1 76.5h0M309.1 67.6h0M307.0 71.0h0M313.6 70.8h0M303.6 77.5h0M293.5 76.5h0M298.1 72.3h0M302.4 75.2h0M301.0 73.8h0M312.9 73.2h0M301.3 72.8h0M307.3 75.1h0M309.7 66.3h0M303.1 76.7h0M296.4 63.1h0M306.5 77.7h0M304.1 77.1h0M301.1 77.8h0M300.5 76.8h0M307.2 71.8h0M295.5 66.3h0M303.3 76.6h0M304.1 78.0h0M297.2 74.3h0M295.4 62.1h0M303.4 77.3h0M311.3 65.4h0M293.6 78.1h0M308.3 77.3h0M304.0 77.4h0M312.8 59.7h0M293.5 62.2h0M296.0 74.4h0M301.3 74.4h0M294.8 70.0h0M311.6 62.9h0M301.2 76.1h0M302.5 76.3h0M304.5 77.2h0M309.1 74.2h0M303.8 77.4h0M304.1 76.8h0M303.7 77.6h0M299.2 75.6h0M305.8 75.9h0M304.7 76.3h0M310.5 66.9h0M296.7 75.3h0M306.5 73.0h0M311.3 63.3h0M295.6 73.6h0M294.5 64.9h0M293.5 73.2h0M302.3 75.1h0M304.1 77.2h0M304.5 77.4h0M312.7 70.7h0M307.2 70.5h0M305.5 74.8h0M295.2 70.5h0M307.8 69.3h0M302.1 74.4h0M299.2 72.3h0M306.6 72.8h0M305.4 74.1h0M307.6 70.2h0M302.7 75.6h0M305.3 77.5h0M307.9 71.4h0M311.1 71.0h0M296.8 75.2h0M296.7 65.6h0M311.1 62.5h0M296.8 65.0h0M303.9 76.9h0M298.7 70.5h0M311.3 65.2h0M309.4 75.3h0M299.6 70.6h0M294.0 63.0h0M304.9 77.0h0M301.9 74.9h0M300.5 75.8h0M302.6 77.7h0M308.4 70.9h0M294.8 65.1h0M295.5 65.2h0M313.2 71.4h0M301.3 77.7h0M304.3 77.5h0M303.0 76.5h0M294.6 62.3h0M295.2 66.6h0M297.2 71.7h0M298.8 76.5h0M301.8 74.5h0M308.6 67.5h0M306.1 77.7h0M310.7 71.4h0M295.1 61.3h0M302.7 77.3h0M296.3 63.4h0M304.1 77.4h0M306.1 73.0h0M303.7 77.2h0M306.2 75.2h0M299.4 69.2h0M303.1 76.4h0M293.6 64.0h0M293.9 60.6h0M301.0 72.5h0M314.1 64.3h0M301.8 75.4h0M312.9 67.8h0M313.4 58.0h0M311.1 65.3h0M298.0 76.7h0M310.6 65.8h0M307.5 76.4h0M305.4 74.3h0M308.6 67.6h0M302.0 74.4h0M313.8 62.2h0M294.1 60.0h0M304.6 77.5h0M298.8 72.5h0M294.8 67.8h0M308.0 69.6h0M303.5 77.3h0M295.5 77.4h0M300.4 76.2h0M307.7 72.5h0M294.7 61.8h0M298.5 75.0h0M309.2 73.6h0M310.4 72.1h0M305.0 76.4h0M302.7 76.5h0M303.6 77.3h0M301.9 75.8h0M300.3 72.9h0M302.2 77.2h0M313.7 78.0h0M300.8 74.3h0M298.5 76.7h0M313.8 66.4h0M297.3 68.3h0M303.1 76.7h0M308.1 74.7h0M299.8 72.2h0M298.1 67.2h0M300.6 73.6h0M295.0 71.4h0M300.5 76.5h0M295.4 75.6h0M299.2 76.8h0M303.9 76.7h0M305.3 76.0h0M297.7 67.3h0M299.5 75.5h0M311.3 69.4h0M312.3 74.9h0M299.8 75.1h0M311.9 62.7h0M297.4 68.8h0M305.2 76.5h0M295.3 65.1h0M305.2 75.0h0M299.9 71.8h0M311.8 76.9h0M300.4 71.7h0M300.0 76.1h0M300.2 77.7h0M311.8 69.5h0M311.6 62.1h0M303.5 77.7h0M309.9 67.0h0M300.9 76.6h0M314.0 68.6h0M302.1 75.1h0M310.1 65.5h0M300.5 72.8h0M309.3 67.9h0M308.9 69.5h0M309.4 66.6h0M294.9 72.7h0M299.5 76.7h0M303.1 76.5h0M297.6 72.4h0M306.2 74.1h0M301.3 75.9h0M311.6 69.2h0M303.6 77.7h0M295.0 71.0h0M295.7 71.2h0M309.7 71.9h0M301.8 75.5h0M301.7 76.9h0M306.8 73.3h0M296.5 74.2h0M303.8 77.9h0M313.9 75.2h0M305.1 76.1h0M303.5 77.2h0M312.2 68.8h0M294.5 64.4h0M308.3 74.2h0M302.5 77.1h0M293.2 66.7h0M300.7 73.5h0M303.2 77.3h0M305.9 73.9h0M295.7 65.5h0M309.0 70.7h0M300.3 71.2h0M295.5 61.3h0M294.7 70.9h0M303.6 77.3h0M309.8 68.4h0M308.3 76.5h0M302.0 74.8h0M303.4 77.3h0M311.5 66.9h0M308.2 69.9h0M300.9 73.5h0M295.3 71.6h0M303.9 77.8h0M300.2 73.0h0M307.9 70.4h0M308.5 72.1h0M308.7 69.0h0M308.6 69.9h0M302.6 77.1h0M296.6 67.4h0M306.1 73.2h0M305.8 73.7h0M296.8 72.5h0M299.7 71.6h0M297.5 65.6h0M312.2 68.6h0M294.6 60.7h0M294.7 65.5h0M293.9 69.2h0M296.6 71.0h0M303.7 77.2h0M309.0 68.3h0M295.2 63.1h0M301.8 74.3h0M303.2 76.7h0M294.5 71.2h0M300.7 73.6h0M311.9 67.4h0M302.8 76.9h0M306.9 73.6h0M299.7 73.7h0M313.4 62.2h0M309.3 73.1h0M296.4 64.8h0M309.0 66.6h0M300.8 72.5h0M293.2 65.8h0M303.8 76.9h0M294.0 66.9h0M306.8 74.6h0M311.1 65.0h0M304.5 77.8h0M293.4 63.2h0M312.7 66.8h0M309.0 72.4h0M308.4 72.9h0M294.1 70.0h0M303.5 77.6h0M300.7 77.9h0M306.0 72.5h0M303.8 77.6h0M310.5 66.0h0M311.4 72.9h0M300.9 72.1h0M296.6 67.1h0M296.0 77.2h0M312.8 75.7h0M302.4 76.6h0M308.0 73.3h0M293.8 76.0h0M308.3 71.4h0M303.0 76.2h0M298.7 70.1h0M296.8 69.0h0M303.5 77.5h0M305.8 75.9h0M314.0 60.8h0M310.5 66.1h0M299.1 75.2h0M298.3 67.6h0M302.4 75.8h0M308.6 67.6h0M293.6 58.5h0M312.7 75.2h0M305.3 75.3h0M303.2 77.0h0M296.4 74.4h0M305.9 73.7h0M297.1 66.3h0M305.5 76.8h0M304.5 76.3h0M300.2 72.5h0M295.9 70.0h0M294.3 74.3h0M310.2 65.3h0M308.6 68.8h0M304.7 75.3h0M294.0 60.8h0M310.0 68.9h0M294.8 77.6h0M305.7 77.2h0M301.7 75.0h0M297.6 74.2h0M304.8 77.5h0M296.0 66.4h0M302.1 77.2h0M312.6 65.4h0M306.5 72.4h0M312.9 73.0h0M302.3 74.8h0M308.6 69.7h0M302.8 76.7h0M297.3 74.7h0M305.8 72.9h0M309.1 71.5h0M302.0 77.8h0M298.4 67.7h0M299.0 69.4h0M306.4 73.0h0M297.6 66.8h0M309.0 68.8h0M313.7 61.7h0M302.5 76.9h0M311.6 61.5h0M296.2 72.0h0M293.3 68.7h0M312.5 64.1h0M305.9 76.4h0M306.9 75.5h0M307.8 76.9h0M295.3 67.7h0M311.8 69.2h0M311.8 62.1h0M308.6 74.4h0M297.8 69.8h0M305.0 76.6h0M300.5 72.5h0M308.7 70.1h0M305.4 75.1h0M299.9 75.7h0M300.5 71.9h0M307.4 73.5h0M300.0 72.9h0M314.0 62.0h0M305.0 76.1h0M306.6 75.4h0M294.0 71.1h0M298.7 70.6h0M299.5 72.5h0M305.4 76.9h0M309.3 66.2h0M294.9 61.7h0M310.5 70.7h0M296.1 76.6h0M310.7 69.7h0M309.3 78.0h0M308.7 69.4h0M305.9 74.5h0M300.5 73.2h0M309.7 66.1h0M296.6 72.4h0M302.5 76.6h0M301.3 75.5h0M313.8 60.7h0M298.5 74.3h0M308.2 74.6h0M308.3 71.3h0M298.4 74.0h0M303.6 77.7h0M294.3 59.0h0M311.7 62.6h0M297.0 73.5h0M297.7 69.5h0M296.7 69.2h0M308.3 70.5h0M305.5 74.5h0M308.0 70.6h0M304.8 75.7h0M312.0 65.1h0M310.4 71.7h0M305.6 73.5h0M299.2 76.4h0M303.1 77.1h0M300.8 73.9h0M303.2 77.7h0M303.5 77.6h0M309.9 73.6h0M313.4 68.6h0M307.4 73.1h0M305.9 74.9h0M302.7 76.3h0M299.0 74.6h0M299.7 74.7h0M301.6 74.8h0M295.1 65.6h0M305.1 77.7h0M309.8 69.5h0M300.5 74.8h0M309.1 68.7h0M303.8 77.6h0M308.9 73.5h0M304.9 74.8h0M308.3 75.0h0M295.5 77.0h0M307.8 75.7h0M300.0 72.0h0M306.2 76.4h0M311.4 64.9h0M303.4 77.7h0M304.9 76.7h0M298.3 70.2h0M307.5 70.3h0M295.2 74.1h0M299.1 73.3h0M300.7 73.6h0M308.3 72.6h0M300.5 72.0h0M309.1 71.3h0M307.2 72.1h0M308.1 68.7h0M313.0 67.9h0M297.5 71.7h0M306.9 75.1h0M306.9 74.9h0M299.2 69.3h0M295.9 68.4h0M296.8 65.7h0M299.6 73.6h0M307.3 70.7h0M296.3 62.8h0M297.4 68.2h0M296.7 75.2h0M300.7 75.6h0M299.7 71.2h0M303.5 77.7h0M295.5 65.0h0M304.4 75.9h0M306.3 76.9h0M306.8 73.8h0M304.2 77.1h0M307.3 74.5h0M309.6 76.3h0M303.5 77.6h0M296.7 75.0h0M299.9 75.2h0M306.3 73.3h0M293.6 67.0h0M296.8 66.7h0M310.8 69.2h0M311.3 76.2h0M300.7 76.9h0M299.4 69.4h0M307.5 77.3h0M307.1 72.1h0M300.2 70.6h0M299.3 69.0h0M301.9 74.1h0M307.3 70.6h0M295.4 75.9h0M313.5 62.2h0M305.7 75.4h0M300.4 71.3h0M294.3 64.9h0M308.5 72.9h0M294.2 65.8h0M304.6 76.0h0M305.9 74.5h0M304.0 77.6h0M307.3 70.4h0M294.2 67.4h0M305.8 74.6h0M310.0 76.3h0M301.6 75.9h0M300.3 76.7h0M297.5 77.1h0M310.6 66.2h0M295.7 68.9h0M302.8 75.9h0M304.3 76.9h0M294.6 60.6h0M305.3 75.7h0M311.8 71.0h0M313.8 68.3h0M297.7 72.7h0M306.9 76.6h0M313.8 66.1h0M299.6 72.8h0M304.3 76.3h0M310.8 66.8h0M295.2 70.7h0M311.4 63.4h0M307.4 76.2h0M294.7 68.1h0M313.9 74.4h0M299.6 75.7h0M302.9 76.2h0M303.3 77.8h0M308.8 68.0h0M304.6 75.6h0M298.1 70.6h0M306.5 73.5h0M301.5 77.6h0M305.3 74.9h0M304.7 75.5h0M303.2 77.2h0M300.9 72.1h0M302.8 76.4h0M302.4 77.0h0M303.8 77.1h0M301.0 75.3h0M299.8 76.0h0M300.5 73.4h0M295.8 68.8h0M297.7 70.7h0M300.2 72.5h0M296.0 64.8h0M306.9 72.2h0M294.5 73.6h0M306.9 77.5h0M312.3 65.7h0M301.9 75.7h0M308.7 69.3h0M304.4 75.8h0M294.1 62.4h0M311.4 77.1h0M312.5 70.6h0M305.6 75.8h0M300.6 77.0h0M308.8 69.0h0M311.4 73.4h0M293.9 60.7h0M305.9 75.0h0M298.8 76.0h0M300.0 73.0h0M308.7 73.2h0M298.7 77.1h0M307.1 71.5h0M311.2 70.1h0M310.2 72.4h0M300.5 77.3h0M304.9 75.1h0M312.7 74.1h0M304.3 77.1h0M309.0 77.4h0M308.9 77.0h0M307.5 72.2h0M295.7 67.5h0M309.5 67.5h0M301.1 74.6h0M305.8 73.7h0M298.9 69.2h0M295.6 64.1h0M296.3 74.8h0M303.8 77.3h0M306.0 74.9h0M300.7 74.3h0M297.5 68.7h0M307.2 76.6h0M297.3 71.1h0M311.8 75.2h0M308.7 76.7h0M298.6 72.8h0M305.5 74.5h0M303.7 77.7h0M301.2 76.5h0M311.0 73.1h0M294.9 69.0h0M302.3 74.7h0M302.5 76.1h0M302.0 74.5h0M313.2 64.6h0M301.4 74.1h0M309.1 67.8h0M294.8 63.8h0M312.7 60.0h0M308.1 71.2h0M307.1 71.2h0M297.3 77.9h0M298.0 67.3h0M300.0 72.3h0M308.7 72.6h0M304.6 76.7h0M304.2 76.4h0M304.7 76.0h0M296.5 70.3h0M310.7 68.7h0M302.8 77.9h0M309.3 69.5h0M311.7 62.7h0M303.7 77.7h0M301.9 77.6h0M307.5 70.5h0M296.8 73.1h0M299.9 73.4h0M306.0 73.8h0M305.6 74.2h0M306.5 74.6h0M308.5 70.8h0M301.3 77.0h0M300.2 73.0h0M299.0 69.9h0M307.1 71.7h0M309.0 77.6h0M308.4 70.3h0M304.0 77.0h0M319.1 77.6h0M293.1 76.9h0M315.2 74.7h0M317.4 77.7h0M289.1 77.3h0M318.3 74.4h0M314.2 77.8h0M288.5 74.4h0M315.0 75.7h0M288.9 74.0h0M316.0 77.8h0M291.8 74.1h0M292.1 76.7h0M288.9 74.5h0M289.3 77.3h0M290.3 74.2h0M288.0 74.8h0M318.4 75.0h0M319.0 75.0h0M314.4 75.5h0M288.7 77.7h0M291.6 75.0h0M290.0 76.2h0M319.2 77.7h0M291.9 76.0h0M317.5 74.6h0M314.6 78.0h0M288.8 75.7h0M292.5 77.9h0M315.9 74.0h0M289.9 76.2h0M291.4 75.3h0M317.9 75.0h0M317.6 75.8h0M315.6 77.9h0M288.5 76.5h0M292.2 77.1h0M292.0 76.7h0M316.4 77.4h0M316.5 75.9h0M314.1 76.4h0M315.9 77.9h0M290.8 74.4h0M289.1 75.0h0M288.9 75.3h0M317.2 75.0h0M291.9 74.0h0M291.1 76.5h0M316.9 77.5h0M317.8 76.2h0M315.7 77.6h0M291.9 75.4h0M314.5 77.8h0M316.1 77.4h0M316.1 75.7h0M291.2 77.0h0M288.7 75.6h0M318.2 76.8h0M291.2 76.8h0M288.3 77.6h0M290.5 75.9h0M289.8 76.0h0M288.3 77.6h0M318.6 78.1h0M290.4 76.3h0M317.1 75.8h0M318.6 74.8h0M291.8 77.5h0M288.8 76.5h0M314.6 77.6h0M290.6 75.9h0M290.4 77.7h0M289.7 75.5h0M314.7 76.7h0M316.3 76.0h0M289.6 75.1h0M291.5 74.5h0M315.6 76.1h0M290.2 75.9h0M292.9 75.1h0M289.8 76.4h0M318.4 77.9h0M288.6 77.4h0M288.5 75.3h0M315.0 74.7h0M317.5 74.3h0M317.6 73.9h0M292.9 74.1h0M290.4 74.4h0M289.8 74.8h0M318.6 78.0h0M318.6 75.7h0M318.5 74.5h0M315.6 76.4h0M317.9 76.0h0M292.9 77.5h0M293.0 74.9h0M314.2 77.3h0M288.5 77.6h0M318.5 78.1h0M317.0 77.0h0M319.0 77.3h0M292.4 73.9h0M290.8 74.3h0M318.4 74.8h0M314.9 74.6h0M290.5 76.7h0M317.3 74.0h0M290.3 74.5h0M315.7 74.1h0M291.7 77.7h0M292.6 76.4h0M317.7 75.7h0M292.3 73.9h0M291.0 74.4h0M315.1 77.3h0M317.8 75.4h0M290.1 76.8h0M318.6 76.2h0M288.3 77.1h0" stroke="#b4b4b4" stroke-width="0.9" stroke-linecap="round" fill="none"/>
<path d="M289.8 73.7h0M292.6 69.2h0M287.3 70.2h0M290.6 70.2h0M287.5 70.2h0M286.3 65.4h0M287.7 55.3h0M284.6 69.0h0M290.9 72.9h0M292.9 68.1h0M292.2 66.3h0M290.5 59.7h0M291.9 68.5h0M290.1 67.4h0M290.6 67.1h0M290.8 63.0h0M290.2 66.0h0M287.0 72.3h0M287.0 73.7h0M285.8 73.5h0M292.9 65.6h0M292.6 62.3h0M292.8 68.2h0M291.8 71.5h0M291.0 72.2h0M289.7 72.4h0M292.3 68.4h0M287.7 65.1h0M291.1 70.1h0M292.2 58.2h0M290.7 59.4h0M290.1 71.4h0M290.4 69.0h0M290.4 69.8h0M290.4 66.0h0M291.4 72.6h0M288.9 67.7h0M289.4 54.0h0M292.0 69.2h0M291.8 70.2h0M292.0 60.5h0M290.1 73.4h0M290.4 69.0h0M292.8 65.5h0M291.7 66.1h0M290.7 58.9h0M289.3 73.4h0M289.6 57.9h0M292.4 73.4h0M292.6 72.4h0M286.8 58.8h0M292.3 68.8h0M288.9 73.1h0M287.1 61.7h0M291.8 70.2h0M282.3 67.8h0M285.3 61.6h0M291.3 70.7h0M288.8 64.3h0M293.1 63.4h0M289.0 69.6h0M291.0 73.9h0M290.8 73.3h0M290.5 68.9h0M292.5 72.2h0M290.1 56.3h0M292.6 68.1h0M290.7 56.6h0M291.8 65.2h0M291.5 63.1h0M287.3 72.6h0M291.4 68.8h0M285.2 71.5h0M291.6 67.1h0M291.7 73.6h0M290.5 73.5h0M291.5 68.1h0M291.1 64.5h0M291.9 67.4h0M290.2 67.2h0M290.4 71.0h0M290.3 61.2h0M290.8 70.4h0M292.3 54.2h0M292.4 70.9h0M293.1 39.7h0M277.4 32.7h0" stroke="#4a52e8" stroke-width="0.85" stroke-linecap="round" fill="none"/>
<path d="M315.7 65.2h0M314.7 63.0h0M315.2 59.6h0M314.6 73.2h0M314.4 65.5h0M314.5 65.4h0M315.1 67.1h0M315.6 59.8h0M314.5 64.6h0M314.9 70.4h0M314.8 65.0h0M315.3 61.3h0M315.4 64.1h0M316.2 73.8h0M315.0 66.3h0M314.3 72.8h0M314.2 62.4h0M315.4 73.1h0M314.7 70.6h0M315.9 71.3h0M315.6 73.1h0M314.4 67.4h0M315.8 62.1h0M314.2 71.2h0M314.9 65.5h0M314.2 64.4h0M315.0 60.6h0M314.7 67.1h0M315.9 73.9h0M314.4 62.9h0M314.3 63.4h0M315.1 71.4h0M314.3 63.9h0M314.8 71.4h0M314.6 67.8h0M314.6 69.5h0M315.3 71.1h0M316.3 65.7h0M314.7 64.6h0M315.7 70.6h0M315.5 70.4h0M316.1 70.9h0M316.3 63.7h0M315.4 62.8h0M314.3 73.6h0M314.9 60.8h0M315.5 70.7h0M314.9 60.6h0M314.6 65.1h0M315.3 68.6h0M314.7 70.7h0M315.5 67.3h0M314.3 61.2h0M314.8 70.6h0M314.3 67.7h0M321.5 60.2h0M322.8 61.1h0M317.6 40.1h0M316.4 35.3h0M325.3 69.3h0M325.6 41.2h0M324.5 47.1h0M316.6 50.5h0M328.5 57.2h0M315.4 69.3h0M325.3 24.8h0M324.0 65.8h0M321.3 40.7h0M323.3 56.4h0M319.0 59.5h0M315.4 25.0h0M328.0 68.3h0M316.8 28.4h0M319.1 59.0h0M322.8 68.6h0M322.1 33.7h0M319.6 38.5h0M329.2 58.9h0M315.8 52.9h0M328.5 38.6h0M315.4 69.7h0M323.9 25.5h0M323.4 66.0h0M324.1 67.5h0M318.3 39.7h0M315.8 45.6h0M319.2 67.6h0M327.9 28.1h0M322.6 68.3h0M317.0 46.5h0M321.3 61.1h0M317.2 67.2h0M324.2 28.5h0M319.3 53.2h0M320.6 69.6h0M319.4 56.6h0M321.6 58.6h0M322.8 44.8h0M317.5 43.3h0" stroke="#e84040" stroke-width="0.85" stroke-linecap="round" fill="none"/>
<line x1="274.00" y1="20.00" x2="274.00" y2="80.40" stroke="#000" stroke-width="0.5"/>
<line x1="274.00" y1="80.40" x2="348.00" y2="80.40" stroke="#000" stroke-width="0.5"/>
<line x1="272.00" y1="78.10" x2="274.00" y2="78.10" stroke="#000" stroke-width="0.5"/>
<text x="271.20" y="80.44" text-anchor="end">0</text>
<line x1="272.00" y1="62.10" x2="274.00" y2="62.10" stroke="#000" stroke-width="0.5"/>
<text x="271.20" y="64.44" text-anchor="end">5</text>
<line x1="272.00" y1="46.10" x2="274.00" y2="46.10" stroke="#000" stroke-width="0.5"/>
<text x="271.20" y="48.44" text-anchor="end">10</text>
<line x1="272.00" y1="30.10" x2="274.00" y2="30.10" stroke="#000" stroke-width="0.5"/>
<text x="271.20" y="32.44" text-anchor="end">15</text>
<line x1="282.60" y1="80.40" x2="282.60" y2="82.40" stroke="#000" stroke-width="0.5"/>
<text x="282.60" y="90.74" text-anchor="middle">−1</text>
<line x1="303.60" y1="80.40" x2="303.60" y2="82.40" stroke="#000" stroke-width="0.5"/>
<text x="303.60" y="90.74" text-anchor="middle">0</text>
<line x1="324.60" y1="80.40" x2="324.60" y2="82.40" stroke="#000" stroke-width="0.5"/>
<text x="324.60" y="90.74" text-anchor="middle">1</text>
<line x1="345.60" y1="80.40" x2="345.60" y2="82.40" stroke="#000" stroke-width="0.5"/>
<text x="345.60" y="90.74" text-anchor="middle">2</text>
<text x="311.00" y="100.34" text-anchor="middle">log<tspan font-size="4.2" dy="1.5" style="stroke-width:0.06px">2</tspan><tspan dy="-1.5" font-size="0.1"> </tspan>FC(sg<tspan font-style="italic" font-size="6.3">Vdac2</tspan> versus sgNTC)</text>
<text x="254.60" y="51.84" text-anchor="middle" transform="rotate(-90 254.60 49.50)">−log<tspan font-size="4.2" dy="1.5" style="stroke-width:0.06px">10</tspan><tspan dy="-1.5" font-size="0.1"> </tspan>(<tspan font-style="italic" font-size="6.3">P</tspan> value)</text>
<text x="274.40" y="30.56" font-style="italic" font-size="6.0">Vdac2</text>
<text x="325.00" y="31.56" font-style="italic" font-size="6.0">Mx2</text>
<text x="338.70" y="35.36" font-style="italic" font-size="6.0">Oasl1</text>
<text x="315.40" y="39.86" font-style="italic" font-size="6.0">Ifit2</text>
<text x="325.40" y="45.66" font-style="italic" font-size="6.0">Ccl5</text>
<text x="295.80" y="49.86" font-style="italic" font-size="6.0">Ifi207</text>
<text x="329.20" y="49.86" font-style="italic" font-size="6.0">Mx1</text>
<text x="303.60" y="56.46" font-style="italic" font-size="6.0">Ifit1</text>
<text x="328.00" y="61.46" font-style="italic" font-size="6.0">Ifi208</text>
<text x="329.20" y="67.46" font-style="italic" font-size="6.0">Ifi213</text>
<text x="321.70" y="72.56" font-style="italic" font-size="6.0">Isg20</text>
<text x="316.60" y="78.76" font-style="italic" font-size="6.0">Isg15</text>
<line x1="331.00" y1="32.50" x2="331.00" y2="35.50" stroke="#000" stroke-width="0.4"/>
<line x1="340.00" y1="37.50" x2="337.50" y2="40.00" stroke="#000" stroke-width="0.4"/>
<line x1="335.00" y1="39.50" x2="334.50" y2="42.50" stroke="#000" stroke-width="0.4"/>
<line x1="323.00" y1="41.00" x2="322.00" y2="46.00" stroke="#000" stroke-width="0.4"/>
<line x1="311.00" y1="48.50" x2="318.00" y2="50.00" stroke="#000" stroke-width="0.4"/>
<line x1="328.00" y1="50.00" x2="325.50" y2="55.00" stroke="#000" stroke-width="0.4"/>
<line x1="313.00" y1="54.50" x2="319.00" y2="55.00" stroke="#000" stroke-width="0.4"/>
<line x1="327.50" y1="59.30" x2="321.00" y2="58.50" stroke="#000" stroke-width="0.4"/>
<line x1="329.00" y1="65.30" x2="321.00" y2="60.50" stroke="#000" stroke-width="0.4"/>
<line x1="322.50" y1="68.00" x2="318.00" y2="63.50" stroke="#000" stroke-width="0.4"/>
<line x1="319.00" y1="73.50" x2="316.00" y2="69.00" stroke="#000" stroke-width="0.4"/>
<line x1="275.50" y1="31.00" x2="277.00" y2="32.50" stroke="#000" stroke-width="0.4"/>
<text x="358.00" y="8.51" font-weight="bold" style="stroke-width:0.45px" font-size="10.3">c</text>
<rect x="394.60" y="22.70" width="6.80" height="3.60" fill="#666" stroke="#000" stroke-width="0.5"/>
<rect x="394.60" y="31.00" width="6.80" height="3.60" fill="#fff" stroke="#000" stroke-width="0.5"/>
<text x="404.80" y="26.84">sgNTC</text>
<text x="404.80" y="35.14">sg<tspan font-style="italic" font-size="6.3">Vdac2</tspan></text>
<line x1="391.60" y1="39.70" x2="391.60" y2="78.10" stroke="#000" stroke-width="0.5"/>
<line x1="389.30" y1="78.10" x2="391.60" y2="78.10" stroke="#000" stroke-width="0.5"/>
<text x="386.10" y="80.44" text-anchor="end">0</text>
<line x1="389.30" y1="68.50" x2="391.60" y2="68.50" stroke="#000" stroke-width="0.5"/>
<text x="386.10" y="70.84" text-anchor="end">50</text>
<line x1="389.30" y1="58.90" x2="391.60" y2="58.90" stroke="#000" stroke-width="0.5"/>
<text x="386.10" y="61.24" text-anchor="end">100</text>
<line x1="389.30" y1="49.30" x2="391.60" y2="49.30" stroke="#000" stroke-width="0.5"/>
<text x="386.10" y="51.64" text-anchor="end">150</text>
<line x1="389.30" y1="39.70" x2="391.60" y2="39.70" stroke="#000" stroke-width="0.5"/>
<text x="386.10" y="42.04" text-anchor="end">200</text>
<line x1="391.60" y1="78.10" x2="460.60" y2="78.10" stroke="#000" stroke-width="0.5"/>
<rect x="394.20" y="72.34" width="3.90" height="5.76" fill="#666" stroke="#000" stroke-width="0.5"/>
<rect x="399.40" y="58.32" width="3.80" height="19.78" fill="#fff" stroke="#000" stroke-width="0.5"/>
<path d="M396.2 72.0h0M397.4 72.5h0" stroke="#e8452c" stroke-width="1.3" stroke-linecap="round" fill="none"/>
<path d="M400.8 57.9h0M401.8 58.4h0" stroke="#e8452c" stroke-width="1.3" stroke-linecap="round" fill="none"/>
<line x1="394.80" y1="54.80" x2="403.30" y2="54.80" stroke="#000" stroke-width="0.5"/>
<text x="399.05" y="55.69" text-anchor="middle" font-size="7.2" style="stroke-width:0.3px">***</text>
<text x="400.40" y="88.05" text-anchor="end" font-style="italic" font-size="6.8" transform="rotate(-45 400.40 85.60)">Ccl5</text>
<rect x="408.00" y="72.92" width="3.90" height="5.18" fill="#666" stroke="#000" stroke-width="0.5"/>
<rect x="413.20" y="69.65" width="3.80" height="8.45" fill="#fff" stroke="#000" stroke-width="0.5"/>
<path d="M410.0 72.6h0M411.2 73.1h0" stroke="#e8452c" stroke-width="1.3" stroke-linecap="round" fill="none"/>
<path d="M414.6 69.3h0M415.6 69.8h0" stroke="#e8452c" stroke-width="1.3" stroke-linecap="round" fill="none"/>
<line x1="408.60" y1="66.60" x2="417.10" y2="66.60" stroke="#000" stroke-width="0.5"/>
<text x="412.85" y="67.49" text-anchor="middle" font-size="7.2" style="stroke-width:0.3px">***</text>
<text x="414.20" y="88.05" text-anchor="end" font-style="italic" font-size="6.8" transform="rotate(-45 414.20 85.60)">Ifit1</text>
<rect x="421.80" y="71.19" width="3.90" height="6.91" fill="#666" stroke="#000" stroke-width="0.5"/>
<rect x="427.00" y="65.81" width="3.80" height="12.29" fill="#fff" stroke="#000" stroke-width="0.5"/>
<path d="M423.8 70.9h0M425.0 71.4h0" stroke="#e8452c" stroke-width="1.3" stroke-linecap="round" fill="none"/>
<path d="M428.4 65.4h0M429.4 65.9h0" stroke="#e8452c" stroke-width="1.3" stroke-linecap="round" fill="none"/>
<line x1="422.40" y1="62.00" x2="430.90" y2="62.00" stroke="#000" stroke-width="0.5"/>
<text x="426.65" y="62.89" text-anchor="middle" font-size="7.2" style="stroke-width:0.3px">***</text>
<text x="428.00" y="88.05" text-anchor="end" font-style="italic" font-size="6.8" transform="rotate(-45 428.00 85.60)">Isg15</text>
<rect x="435.60" y="65.04" width="3.90" height="13.06" fill="#666" stroke="#000" stroke-width="0.5"/>
<rect x="440.80" y="43.16" width="3.80" height="34.94" fill="#fff" stroke="#000" stroke-width="0.5"/>
<path d="M437.6 64.7h0M438.8 65.2h0" stroke="#e8452c" stroke-width="1.3" stroke-linecap="round" fill="none"/>
<path d="M442.2 42.8h0M443.2 43.3h0" stroke="#e8452c" stroke-width="1.3" stroke-linecap="round" fill="none"/>
<line x1="436.20" y1="39.70" x2="444.70" y2="39.70" stroke="#000" stroke-width="0.5"/>
<text x="440.45" y="40.59" text-anchor="middle" font-size="7.2" style="stroke-width:0.3px">***</text>
<text x="441.80" y="88.05" text-anchor="end" font-style="italic" font-size="6.8" transform="rotate(-45 441.80 85.60)">Mx1</text>
<rect x="449.40" y="70.42" width="3.90" height="7.68" fill="#666" stroke="#000" stroke-width="0.5"/>
<rect x="454.60" y="66.00" width="3.80" height="12.10" fill="#fff" stroke="#000" stroke-width="0.5"/>
<path d="M451.4 70.1h0M452.6 70.6h0" stroke="#e8452c" stroke-width="1.3" stroke-linecap="round" fill="none"/>
<path d="M456.0 65.6h0M457.0 66.1h0" stroke="#e8452c" stroke-width="1.3" stroke-linecap="round" fill="none"/>
<line x1="450.00" y1="62.30" x2="458.50" y2="62.30" stroke="#000" stroke-width="0.5"/>
<text x="454.25" y="63.19" text-anchor="middle" font-size="7.2" style="stroke-width:0.3px">***</text>
<text x="455.60" y="88.05" text-anchor="end" font-style="italic" font-size="6.8" transform="rotate(-45 455.60 85.60)">Oasl1</text>
<text x="359.80" y="60.64" text-anchor="middle" transform="rotate(-90 359.80 58.30)">Relative mRNA</text>
<text x="368.40" y="60.64" text-anchor="middle" transform="rotate(-90 368.40 58.30)">(versus non-treated sgNTC)</text>
<text x="471.30" y="8.21" font-weight="bold" style="stroke-width:0.45px" font-size="10.3">d</text>
<rect x="497.20" y="22.85" width="6.60" height="3.50" fill="#666" stroke="#000" stroke-width="0.5"/>
<rect x="497.20" y="31.15" width="6.60" height="3.50" fill="#fff" stroke="#000" stroke-width="0.5"/>
<text x="506.00" y="26.94">sgNTC</text>
<text x="506.00" y="35.24">sg<tspan font-style="italic" font-size="6.3">Vdac2</tspan></text>
<line x1="493.60" y1="39.50" x2="493.60" y2="67.60" stroke="#000" stroke-width="0.5"/>
<line x1="493.60" y1="69.00" x2="493.60" y2="78.50" stroke="#000" stroke-width="0.5"/>
<line x1="491.60" y1="68.30" x2="496.10" y2="68.30" stroke="#000" stroke-width="0.5"/>
<line x1="491.30" y1="78.50" x2="493.60" y2="78.50" stroke="#000" stroke-width="0.5"/>
<text x="489.00" y="80.84" text-anchor="end">0</text>
<line x1="491.30" y1="71.40" x2="493.60" y2="71.40" stroke="#000" stroke-width="0.5"/>
<text x="489.00" y="73.74" text-anchor="end">2</text>
<line x1="491.30" y1="63.20" x2="493.60" y2="63.20" stroke="#000" stroke-width="0.5"/>
<text x="489.00" y="65.54" text-anchor="end">10</text>
<line x1="491.30" y1="57.28" x2="493.60" y2="57.28" stroke="#000" stroke-width="0.5"/>
<text x="489.00" y="59.62" text-anchor="end">20</text>
<line x1="491.30" y1="51.36" x2="493.60" y2="51.36" stroke="#000" stroke-width="0.5"/>
<text x="489.00" y="53.70" text-anchor="end">30</text>
<line x1="491.30" y1="45.44" x2="493.60" y2="45.44" stroke="#000" stroke-width="0.5"/>
<text x="489.00" y="47.78" text-anchor="end">40</text>
<line x1="491.30" y1="39.52" x2="493.60" y2="39.52" stroke="#000" stroke-width="0.5"/>
<text x="489.00" y="41.86" text-anchor="end">50</text>
<line x1="491.80" y1="78.50" x2="551.60" y2="78.50" stroke="#000" stroke-width="0.5"/>
<rect x="495.50" y="74.95" width="3.80" height="3.55" fill="#666" stroke="#000" stroke-width="0.5"/>
<rect x="501.40" y="74.95" width="3.90" height="3.55" fill="#fff" stroke="#000" stroke-width="0.5"/>
<path d="M496.8 74.8h0M498.0 75.2h0" stroke="#e8452c" stroke-width="1.2" stroke-linecap="round" fill="none"/>
<path d="M502.9 74.5h0M503.9 75.0h0" stroke="#e8452c" stroke-width="1.2" stroke-linecap="round" fill="none"/>
<line x1="495.50" y1="70.40" x2="505.30" y2="70.40" stroke="#000" stroke-width="0.5"/>
<text x="500.40" y="69.13" text-anchor="middle" font-size="6.2">NS</text>
<line x1="500.40" y1="78.50" x2="500.40" y2="80.50" stroke="#000" stroke-width="0.5"/>
<text x="500.40" y="89.34" text-anchor="middle">0</text>
<rect x="510.40" y="76.19" width="3.80" height="2.31" fill="#666" stroke="#000" stroke-width="0.5"/>
<rect x="516.30" y="74.24" width="3.90" height="4.26" fill="#fff" stroke="#000" stroke-width="0.5"/>
<path d="M511.7 76.0h0M512.9 76.4h0" stroke="#e8452c" stroke-width="1.2" stroke-linecap="round" fill="none"/>
<path d="M517.8 73.7h0M518.8 74.3h0" stroke="#e8452c" stroke-width="1.2" stroke-linecap="round" fill="none"/>
<line x1="510.40" y1="70.40" x2="520.20" y2="70.40" stroke="#000" stroke-width="0.5"/>
<text x="515.30" y="69.13" text-anchor="middle" font-size="6.2">NS</text>
<line x1="515.30" y1="78.50" x2="515.30" y2="80.50" stroke="#000" stroke-width="0.5"/>
<text x="515.30" y="89.34" text-anchor="middle">12</text>
<rect x="525.30" y="64.38" width="3.80" height="14.12" fill="#666" stroke="#000" stroke-width="0.5"/>
<rect x="531.20" y="50.77" width="3.90" height="27.73" fill="#fff" stroke="#000" stroke-width="0.5"/>
<path d="M526.6 64.2h0M527.8 64.6h0" stroke="#e8452c" stroke-width="1.2" stroke-linecap="round" fill="none"/>
<path d="M532.7 50.3h0M533.7 50.9h0" stroke="#e8452c" stroke-width="1.2" stroke-linecap="round" fill="none"/>
<line x1="525.30" y1="47.20" x2="535.10" y2="47.20" stroke="#000" stroke-width="0.5"/>
<text x="530.20" y="48.09" text-anchor="middle" font-size="7.2" style="stroke-width:0.3px">***</text>
<line x1="530.20" y1="78.50" x2="530.20" y2="80.50" stroke="#000" stroke-width="0.5"/>
<text x="530.20" y="89.34" text-anchor="middle">18</text>
<rect x="540.20" y="59.65" width="3.80" height="18.85" fill="#666" stroke="#000" stroke-width="0.5"/>
<rect x="546.10" y="43.66" width="3.90" height="34.84" fill="#fff" stroke="#000" stroke-width="0.5"/>
<path d="M541.5 59.4h0M542.7 59.8h0" stroke="#e8452c" stroke-width="1.2" stroke-linecap="round" fill="none"/>
<path d="M547.6 43.2h0M548.6 43.8h0" stroke="#e8452c" stroke-width="1.2" stroke-linecap="round" fill="none"/>
<line x1="540.20" y1="40.20" x2="550.00" y2="40.20" stroke="#000" stroke-width="0.5"/>
<text x="545.10" y="41.09" text-anchor="middle" font-size="7.2" style="stroke-width:0.3px">***</text>
<line x1="545.10" y1="78.50" x2="545.10" y2="80.50" stroke="#000" stroke-width="0.5"/>
<text x="545.10" y="89.34" text-anchor="middle">24</text>
<text x="523.50" y="98.94" text-anchor="middle">Time after IFNγ</text>
<text x="523.50" y="106.74" text-anchor="middle">treatment (h)</text>
<text x="473.00" y="60.14" text-anchor="middle" transform="rotate(-90 473.00 57.80)">Relative <tspan font-style="italic" font-size="6.3">Ifnb1</tspan> mRNA</text>
<text x="558.70" y="8.51" font-weight="bold" style="stroke-width:0.45px" font-size="10.3">e</text>
<rect x="579.60" y="22.60" width="6.80" height="3.40" fill="#7f7f7f" stroke="#000" stroke-width="0.5"/>
<rect x="579.60" y="30.90" width="6.80" height="3.40" fill="#fff" stroke="#000" stroke-width="0.5"/>
<text x="590.00" y="26.64">sgNTC</text>
<text x="590.00" y="34.94">sg<tspan font-style="italic" font-size="6.3">Vdac2</tspan></text>
<line x1="586.60" y1="41.80" x2="586.60" y2="80.40" stroke="#000" stroke-width="0.5"/>
<line x1="584.30" y1="80.40" x2="586.60" y2="80.40" stroke="#000" stroke-width="0.5"/>
<text x="581.10" y="82.74" text-anchor="end">0</text>
<line x1="584.30" y1="70.75" x2="586.60" y2="70.75" stroke="#000" stroke-width="0.5"/>
<text x="581.10" y="73.09" text-anchor="end">20</text>
<line x1="584.30" y1="61.10" x2="586.60" y2="61.10" stroke="#000" stroke-width="0.5"/>
<text x="581.10" y="63.44" text-anchor="end">40</text>
<line x1="584.30" y1="51.45" x2="586.60" y2="51.45" stroke="#000" stroke-width="0.5"/>
<text x="581.10" y="53.79" text-anchor="end">60</text>
<line x1="584.30" y1="41.80" x2="586.60" y2="41.80" stroke="#000" stroke-width="0.5"/>
<text x="581.10" y="44.14" text-anchor="end">80</text>
<line x1="586.60" y1="80.40" x2="607.00" y2="80.40" stroke="#000" stroke-width="0.5"/>
<rect x="588.80" y="76.54" width="6.00" height="3.86" fill="#7f7f7f" stroke="#000" stroke-width="0.5"/>
<rect x="597.50" y="52.90" width="6.40" height="27.50" fill="#fff" stroke="#000" stroke-width="0.5"/>
<path d="M591.0 76.2h0M592.5 76.5h0" stroke="#e8452c" stroke-width="1.2" stroke-linecap="round" fill="none"/>
<path d="M599.8 51.9h0M601.8 52.7h0" stroke="#e8452c" stroke-width="1.3" stroke-linecap="round" fill="none"/>
<path d="M600.5 54.8h0" stroke="#ccc" stroke-width="0.9" stroke-linecap="round" fill="none"/>
<line x1="591.00" y1="46.60" x2="603.40" y2="46.60" stroke="#000" stroke-width="0.5"/>
<text x="597.20" y="47.49" text-anchor="middle" font-size="7.2" style="stroke-width:0.3px">***</text>
<text x="595.20" y="89.24" text-anchor="middle">IFNγ 24 h</text>
<text x="564.80" y="62.94" text-anchor="middle" transform="rotate(-90 564.80 60.60)">IFNβ (pg ml<tspan font-size="4.2" dy="-2.4" style="stroke-width:0.06px">−1</tspan><tspan dy="2.4" font-size="0.1"> </tspan>)</text>
<text x="626.00" y="8.21" font-weight="bold" style="stroke-width:0.45px" font-size="10.3">f</text>
<rect x="648.50" y="22.60" width="6.80" height="3.40" fill="#7f7f7f" stroke="#000" stroke-width="0.5"/>
<rect x="648.50" y="30.90" width="6.80" height="3.40" fill="#fff" stroke="#000" stroke-width="0.5"/>
<text x="659.00" y="26.64">sgNTC</text>
<text x="659.00" y="34.94">sg<tspan font-style="italic" font-size="6.3">Vdac2</tspan></text>
<line x1="657.60" y1="40.80" x2="657.60" y2="80.40" stroke="#000" stroke-width="0.5"/>
<line x1="655.30" y1="80.40" x2="657.60" y2="80.40" stroke="#000" stroke-width="0.5"/>
<text x="652.10" y="82.74" text-anchor="end">0</text>
<line x1="655.30" y1="70.50" x2="657.60" y2="70.50" stroke="#000" stroke-width="0.5"/>
<text x="652.10" y="72.84" text-anchor="end">5</text>
<line x1="655.30" y1="60.60" x2="657.60" y2="60.60" stroke="#000" stroke-width="0.5"/>
<text x="652.10" y="62.94" text-anchor="end">10</text>
<line x1="655.30" y1="50.70" x2="657.60" y2="50.70" stroke="#000" stroke-width="0.5"/>
<text x="652.10" y="53.04" text-anchor="end">15</text>
<line x1="655.30" y1="40.80" x2="657.60" y2="40.80" stroke="#000" stroke-width="0.5"/>
<text x="652.10" y="43.14" text-anchor="end">20</text>
<line x1="657.60" y1="80.40" x2="678.20" y2="80.40" stroke="#000" stroke-width="0.5"/>
<rect x="660.90" y="61.39" width="6.00" height="19.01" fill="#7f7f7f" stroke="#000" stroke-width="0.5"/>
<rect x="669.50" y="50.70" width="6.40" height="29.70" fill="#fff" stroke="#000" stroke-width="0.5"/>
<line x1="663.90" y1="59.02" x2="663.90" y2="61.39" stroke="#000" stroke-width="0.4"/>
<line x1="672.70" y1="46.15" x2="672.70" y2="50.70" stroke="#000" stroke-width="0.4"/>
<path d="M663.0 60.2h0M665.0 60.8h0" stroke="#e8452c" stroke-width="1.2" stroke-linecap="round" fill="none"/>
<path d="M663.9 63.0h0M663.5 65.0h0" stroke="#555" stroke-width="0.8" stroke-linecap="round" fill="none"/>
<path d="M672.2 48.3h0M673.4 49.5h0" stroke="#e8452c" stroke-width="1.2" stroke-linecap="round" fill="none"/>
<path d="M671.2 52.7h0M673.8 53.5h0M672.5 56.0h0" stroke="#bbb" stroke-width="0.8" stroke-linecap="round" fill="none"/>
<path d="M661.6 40.9H672.9V44.3" fill="none" stroke="#000" stroke-width="0.5"/>
<text x="667.20" y="41.79" text-anchor="middle" font-size="7.2" style="stroke-width:0.3px">**</text>
<text x="667.60" y="89.24" text-anchor="middle">Day 19</text>
<text x="627.80" y="66.94" text-anchor="middle" transform="rotate(-90 627.80 64.60)">IFNβ</text>
<text x="636.00" y="62.34" text-anchor="middle" transform="rotate(-90 636.00 60.00)">(pg per  100 mg tumour)</text>
<text x="-0.30" y="124.31" font-weight="bold" style="stroke-width:0.45px" font-size="10.3">g</text>
<text x="89.40" y="127.74" text-anchor="middle">IPA of two microarray datasets</text>
<text x="89.50" y="136.34" text-anchor="middle">(sg<tspan font-style="italic" font-size="6.3">Vdac2</tspan> versus sgNTC)</text>
<circle cx="65.9" cy="194.3" r="53.7" fill="#9dc3e6" stroke="#222" stroke-width="0.5"/>
<circle cx="106.7" cy="194.8" r="45.7" fill="#e8b0b0" stroke="#222" stroke-width="0.5"/>
<clipPath id="vc"><circle cx="65.9" cy="194.3" r="53.7"/></clipPath>
<circle cx="106.7" cy="194.8" r="45.7" fill="#b08aa2" clip-path="url(#vc)"/>
<circle cx="65.9" cy="194.3" r="53.7" fill="none" stroke="#222" stroke-width="0.5"/>
<circle cx="106.7" cy="194.8" r="45.7" fill="none" stroke="#222" stroke-width="0.5"/>
<text x="44.40" y="180.24" text-anchor="middle">OT-I</text>
<text x="44.40" y="188.34" text-anchor="middle">treatment</text>
<text x="44.40" y="195.84" text-anchor="middle">8</text>
<text x="135.00" y="180.24" text-anchor="middle">IFNγ</text>
<text x="135.00" y="188.34" text-anchor="middle">treatment</text>
<text x="135.00" y="195.84" text-anchor="middle">4</text>
<text x="90.00" y="177.24" text-anchor="middle">Poly rI:rC-RNA</text>
<text x="90.00" y="187.74" text-anchor="middle" font-style="italic">Irf7</text>
<text x="90.50" y="197.74" text-anchor="middle">Lipopolysaccharide</text>
<text x="90.00" y="207.84" text-anchor="middle" font-style="italic">Irf3</text>
<text x="90.00" y="218.04" text-anchor="middle" font-style="italic">Sting1</text>
<text x="90.00" y="228.14" text-anchor="middle" font-style="italic">Ifng</text>
<text x="169.00" y="123.21" font-weight="bold" style="stroke-width:0.45px" font-size="10.3">h</text>
<text x="252.80" y="129.84" text-anchor="middle">B16-OVA (<tspan font-style="italic" font-size="6.3">in vivo</tspan>) day 15</text>
<rect x="197.50" y="134.00" width="111.10" height="108.50" fill="#fff"/>
<line x1="245.47" y1="134.00" x2="245.47" y2="242.50" stroke="#8c8c8c" stroke-width="0.5"/>
<line x1="260.53" y1="134.00" x2="260.53" y2="242.50" stroke="#8c8c8c" stroke-width="0.5"/>
<line x1="197.50" y1="238.20" x2="308.60" y2="238.20" stroke="#8c8c8c" stroke-width="0.5"/>
<path d="M245.4 237.8h0M263.4 231.9h0M262.5 238.4h0M255.6 238.1h0M242.5 236.6h0M260.6 237.7h0M250.5 236.3h0M252.3 237.7h0M253.3 237.9h0M234.8 238.0h0M241.3 234.2h0M243.1 233.9h0M258.3 237.1h0M247.1 234.2h0M250.0 238.1h0M252.4 237.5h0M250.2 234.6h0M258.2 232.8h0M255.0 238.1h0M246.2 235.9h0M261.4 238.0h0M256.3 238.0h0M249.6 237.9h0M238.0 232.9h0M253.3 238.4h0M261.7 236.2h0M256.4 238.5h0M234.9 238.3h0M245.9 236.9h0M250.7 237.9h0M248.7 237.8h0M237.3 229.2h0M262.6 236.8h0M249.4 237.7h0M250.0 231.2h0M257.1 238.6h0M247.6 231.6h0M253.9 236.3h0M260.4 237.7h0M248.1 235.2h0M253.5 237.9h0M243.8 232.0h0M245.4 236.6h0M233.8 227.0h0M251.6 238.4h0M255.2 236.9h0M247.9 237.8h0M246.3 237.6h0M262.6 235.5h0M264.2 233.7h0M266.8 237.1h0M256.3 236.0h0M251.5 237.2h0M252.3 236.9h0M255.5 233.1h0M246.7 236.8h0M257.9 236.5h0M250.6 237.5h0M256.4 237.0h0M273.8 232.4h0M262.1 230.0h0M263.9 238.1h0M255.8 238.5h0M255.1 236.7h0M237.0 228.6h0M250.3 237.6h0M249.0 238.1h0M261.8 236.0h0M252.0 238.0h0M241.0 236.3h0M253.7 237.0h0M256.7 237.6h0M250.0 234.8h0M259.8 235.9h0M255.1 238.2h0M248.1 238.3h0M250.7 238.0h0M254.1 237.4h0M258.0 238.5h0M243.1 237.1h0M249.2 237.6h0M233.7 236.7h0M234.3 235.1h0M277.9 233.8h0M260.7 235.7h0M243.1 237.8h0M255.5 238.2h0M246.7 235.5h0M249.0 234.7h0M252.3 237.9h0M250.2 236.3h0M241.6 238.2h0M263.3 236.7h0M241.5 231.7h0M254.8 235.0h0M251.6 236.0h0M254.5 238.2h0M243.9 235.4h0M249.4 236.4h0M257.7 237.8h0M249.0 237.6h0M259.9 237.3h0M243.2 237.6h0M266.7 237.1h0M245.9 233.4h0M272.9 237.7h0M234.5 228.7h0M268.1 237.7h0M258.8 236.8h0M254.6 235.3h0M255.0 237.3h0M256.1 237.8h0M273.3 231.1h0M243.8 233.8h0M243.4 237.6h0M245.2 234.8h0M253.5 237.4h0M247.7 238.4h0M235.1 232.8h0M256.7 238.4h0M253.9 238.1h0M252.9 235.7h0M248.5 237.4h0M259.0 237.7h0M248.5 234.0h0M266.9 237.2h0M268.1 230.9h0M265.9 230.6h0M256.5 238.4h0M250.5 237.1h0M245.6 236.1h0M244.2 232.5h0M248.6 237.5h0M251.5 236.6h0M245.0 235.5h0M248.2 237.9h0M247.2 237.0h0M257.8 235.5h0M257.8 234.5h0M250.6 237.6h0M256.1 234.7h0M256.1 231.4h0M257.9 228.0h0M252.8 237.7h0M255.5 238.6h0M257.0 232.6h0M253.1 236.5h0M258.4 225.0h0M256.5 228.5h0M257.4 237.0h0M256.7 238.6h0M257.3 221.9h0M258.8 238.1h0M257.9 238.4h0M260.8 230.3h0M250.9 235.5h0M259.6 238.2h0M255.8 229.2h0M256.4 236.6h0M258.9 235.7h0M258.8 223.8h0M260.4 232.2h0M260.9 238.6h0M257.7 234.1h0M259.8 222.4h0M255.0 227.4h0M257.3 234.6h0M258.8 229.5h0M257.7 227.6h0M259.5 236.2h0M255.2 221.7h0M255.8 238.6h0M259.0 229.8h0M261.1 238.4h0M258.5 232.8h0M258.7 222.6h0M257.8 229.4h0M259.0 235.1h0M262.3 221.4h0M250.6 228.5h0M256.7 225.8h0M257.5 235.5h0M254.4 220.4h0M258.2 232.5h0M262.6 238.5h0M254.6 236.1h0M260.5 220.2h0M255.0 237.9h0M252.4 232.9h0M256.5 229.8h0M258.9 238.5h0M257.3 224.3h0M256.2 225.0h0M256.8 237.0h0M258.8 238.6h0M258.9 235.4h0M258.0 220.3h0M255.1 238.6h0M258.1 232.1h0M258.6 237.8h0M256.2 232.0h0M255.1 224.6h0M258.8 238.1h0M252.6 235.8h0M259.7 237.0h0M257.0 234.0h0M259.4 230.7h0M261.5 238.4h0M260.2 237.3h0M256.9 231.2h0M259.5 238.6h0M256.9 237.8h0M260.1 236.7h0M258.5 224.4h0M257.6 234.4h0M257.9 238.3h0M256.9 238.0h0M259.0 230.7h0M259.5 230.6h0M256.7 236.5h0M260.0 238.6h0M256.1 227.8h0M257.7 238.6h0M258.2 224.7h0M257.0 232.5h0M255.5 228.8h0M260.7 228.7h0M259.1 221.2h0M260.3 233.5h0M258.6 224.5h0M259.6 222.0h0M260.4 235.3h0M259.8 203.6h0M259.1 195.1h0M259.5 232.0h0M259.5 212.2h0M259.8 216.2h0M259.2 204.8h0M260.3 220.9h0M259.4 237.0h0M259.7 238.5h0M260.5 233.7h0M260.5 237.9h0M260.0 212.1h0M260.0 233.2h0M259.1 232.8h0M259.6 198.3h0M260.5 197.0h0M260.5 238.1h0M259.1 236.5h0M259.0 238.4h0M259.9 237.8h0M259.9 234.5h0M259.4 195.7h0M259.3 204.7h0M259.8 222.0h0M259.2 216.4h0M260.4 237.8h0M259.7 222.6h0M259.7 215.8h0M260.0 236.0h0M260.0 214.2h0M259.7 226.2h0M260.0 231.3h0M259.2 233.7h0M260.2 217.9h0M259.1 231.3h0M259.9 229.0h0M259.2 223.0h0M260.1 228.9h0M260.3 154.7h0M295.9 217.4h0M261.0 236.0h0M287.0 237.6h0M296.9 210.4h0M289.3 235.4h0M260.8 225.0h0M279.8 228.1h0M280.0 214.5h0M274.6 218.0h0M266.6 216.8h0M286.7 231.0h0M278.5 210.2h0M272.8 221.9h0M294.8 193.2h0M270.2 220.2h0M283.4 210.1h0M263.1 233.5h0M277.5 214.1h0M277.5 238.3h0M268.4 220.2h0M293.8 217.7h0M263.5 225.4h0M293.1 231.2h0M278.7 233.2h0M262.5 227.0h0M266.5 238.0h0M294.8 237.2h0M289.1 205.6h0M270.0 232.7h0M268.9 223.8h0M297.2 207.7h0M279.1 224.9h0M275.9 219.4h0M270.7 235.4h0M286.7 233.1h0M297.7 208.7h0M267.5 238.5h0M283.0 236.7h0M279.4 222.3h0M291.0 227.3h0M281.1 211.5h0M265.6 234.4h0M291.0 228.6h0M295.6 237.4h0M263.7 234.3h0M278.0 231.1h0M268.8 231.2h0M294.2 194.8h0M284.1 233.4h0M282.5 236.2h0M283.1 192.9h0M288.1 191.5h0M297.2 191.1h0M273.1 197.5h0M279.1 200.0h0M284.1 202.9h0M290.6 204.7h0M268.1 207.2h0M212.8 213.6h0M224.9 216.1h0M216.9 224.3h0M223.9 228.6h0M236.9 217.9h0M230.4 222.5h0M219.6 226.4h0M225.2 238.3h0M240.5 238.5h0M224.4 238.3h0M242.5 234.8h0M222.9 238.5h0M242.9 238.5h0M237.6 233.6h0M234.1 236.0h0M229.3 237.7h0M235.7 238.4h0M231.0 237.8h0M228.0 226.2h0M233.5 233.5h0M235.7 238.6h0M239.5 230.9h0M238.5 236.0h0M241.2 230.3h0M225.5 238.3h0M227.2 238.6h0M224.4 238.5h0M218.1 235.8h0M218.0 234.4h0M241.3 234.1h0M219.3 228.5h0M223.1 227.1h0M235.6 235.4h0M229.9 224.2h0M223.7 224.2h0M223.5 238.5h0M223.8 238.6h0M240.8 238.4h0M233.7 237.8h0M227.8 229.1h0M233.0 237.9h0M238.4 238.4h0M219.0 229.4h0M241.4 233.4h0M237.1 228.8h0M243.4 236.2h0M243.0 238.0h0M253.6 237.7h0M250.3 238.6h0M243.7 238.6h0M266.7 237.8h0M258.2 238.4h0M266.5 238.2h0M256.5 238.5h0M278.0 238.3h0M255.5 238.5h0M254.5 238.2h0M253.6 237.6h0M249.7 237.9h0M264.0 238.6h0M270.5 238.6h0M246.4 237.4h0M240.5 238.5h0M253.0 237.0h0M276.8 238.5h0M262.8 237.4h0M257.4 238.4h0M241.9 238.6h0M237.3 238.6h0M266.3 238.0h0M238.3 237.0h0M277.5 238.3h0M250.9 237.2h0M263.8 237.6h0M243.2 237.7h0M254.3 238.6h0M237.5 238.5h0M245.4 238.5h0M274.3 238.3h0M244.3 238.6h0M237.8 238.3h0M253.4 238.6h0M257.5 238.4h0M236.2 238.2h0M242.2 238.5h0M267.5 238.3h0M250.7 238.1h0M266.7 237.9h0M275.9 237.7h0M250.0 237.0h0M236.1 238.5h0M240.6 238.3h0M250.5 238.3h0M262.4 238.4h0M256.0 237.8h0M275.0 237.0h0M251.2 238.3h0M277.7 237.3h0M272.9 238.6h0M247.8 238.3h0M248.6 238.2h0M275.7 238.3h0M257.0 238.4h0M260.6 238.1h0M243.2 238.6h0M267.5 237.4h0M249.9 238.5h0M239.8 237.9h0M260.1 237.0h0M264.4 238.0h0M260.8 237.1h0M274.7 238.5h0M240.6 238.6h0M236.0 237.3h0M276.5 238.2h0M267.9 237.8h0M263.4 238.3h0M276.3 238.4h0M239.7 238.6h0M269.1 237.5h0M271.8 237.5h0M245.1 238.4h0M247.4 237.3h0M235.5 238.4h0M263.3 237.9h0M235.6 238.6h0M242.6 238.5h0M257.3 238.6h0M270.7 238.2h0M263.3 238.4h0M271.6 238.6h0M272.4 238.5h0M257.4 238.0h0M264.1 238.1h0M266.1 238.6h0M258.2 238.2h0M261.9 238.6h0M265.6 238.6h0M237.4 238.6h0M277.2 238.6h0M264.6 238.6h0M261.3 238.5h0M261.0 237.6h0M264.3 238.1h0M266.0 238.6h0M237.8 238.5h0M254.7 237.6h0M236.6 238.5h0M257.8 238.4h0M238.9 238.5h0M236.5 238.6h0M271.3 238.4h0M266.0 238.5h0M267.0 237.2h0M236.2 238.0h0M274.2 237.5h0M240.6 237.6h0M267.6 238.6h0M263.5 237.9h0M243.9 237.4h0M272.0 238.6h0M255.6 238.0h0M235.8 238.1h0M275.4 238.4h0M256.5 237.0h0M272.7 237.0h0M239.3 236.8h0M249.6 238.4h0M243.3 237.4h0M260.6 238.2h0M256.6 238.1h0M260.3 238.6h0M266.1 238.5h0M236.3 237.0h0M239.6 237.5h0M268.2 238.3h0M261.4 238.5h0M244.6 237.2h0M267.4 237.5h0M255.0 238.6h0M268.4 237.0h0M249.0 237.9h0M241.7 236.9h0M265.7 238.6h0M265.3 237.8h0M254.0 238.0h0M275.2 237.8h0M255.6 236.9h0M262.7 237.5h0M259.1 237.6h0M268.4 238.2h0M255.3 238.5h0M263.3 237.7h0M253.0 238.6h0M265.5 237.9h0M263.1 238.6h0M273.2 237.7h0M269.6 238.6h0M247.0 238.1h0M235.7 236.9h0M242.9 238.6h0M269.4 238.5h0M260.0 237.8h0M244.1 238.6h0M265.4 237.2h0M269.9 238.6h0M249.7 238.2h0M236.8 237.2h0M270.8 236.9h0M274.5 237.3h0M248.1 237.8h0M272.7 238.6h0M238.6 236.9h0M239.3 237.1h0M251.6 238.5h0M251.5 237.2h0M263.1 238.6h0M270.5 238.4h0M270.7 238.2h0M272.2 238.1h0M250.5 236.8h0M277.3 238.1h0M257.7 238.0h0M264.2 238.5h0M275.1 238.3h0M278.0 238.0h0M274.6 237.1h0M247.2 238.6h0M260.2 238.0h0M249.8 238.4h0M247.1 238.6h0M255.0 238.1h0M254.1 237.3h0M254.0 237.6h0M267.6 238.1h0M255.3 238.5h0M264.7 237.3h0M276.9 237.5h0M276.8 238.0h0M254.7 236.9h0M264.1 238.6h0M271.9 238.0h0M271.9 238.3h0M262.4 238.0h0M261.6 237.2h0M252.3 237.8h0" stroke="#9a9a9a" stroke-width="1.15" stroke-linecap="round" fill="none"/>
<rect x="197.50" y="134.00" width="111.10" height="108.50" fill="none" stroke="#333" stroke-width="0.5"/>
<line x1="195.50" y1="238.60" x2="197.50" y2="238.60" stroke="#000" stroke-width="0.5"/>
<text x="194.50" y="240.94" text-anchor="end">0</text>
<line x1="195.50" y1="202.90" x2="197.50" y2="202.90" stroke="#000" stroke-width="0.5"/>
<text x="194.50" y="205.24" text-anchor="end">100</text>
<line x1="195.50" y1="167.20" x2="197.50" y2="167.20" stroke="#000" stroke-width="0.5"/>
<text x="194.50" y="169.54" text-anchor="end">200</text>
<line x1="202.80" y1="242.50" x2="202.80" y2="244.50" stroke="#000" stroke-width="0.5"/>
<text x="202.80" y="254.14" text-anchor="middle">−10</text>
<line x1="227.90" y1="242.50" x2="227.90" y2="244.50" stroke="#000" stroke-width="0.5"/>
<text x="227.90" y="254.14" text-anchor="middle">−5</text>
<line x1="253.00" y1="242.50" x2="253.00" y2="244.50" stroke="#000" stroke-width="0.5"/>
<text x="253.00" y="254.14" text-anchor="middle">0</text>
<line x1="278.10" y1="242.50" x2="278.10" y2="244.50" stroke="#000" stroke-width="0.5"/>
<text x="278.10" y="254.14" text-anchor="middle">5</text>
<line x1="303.20" y1="242.50" x2="303.20" y2="244.50" stroke="#000" stroke-width="0.5"/>
<text x="303.20" y="254.14" text-anchor="middle">10</text>
<text x="171.80" y="192.64" text-anchor="middle" transform="rotate(-90 171.80 190.30)">−log<tspan font-size="4.2" dy="1.5" style="stroke-width:0.06px">10</tspan><tspan dy="-1.5" font-size="0.1"> </tspan>(FDR)</text>
<text x="253.00" y="265.24" text-anchor="middle">Odds ratio (sg<tspan font-style="italic" font-size="6.3">Vdac2</tspan> versus sgNTC)</text>
<path d="M280.7 225.6h0M274.2 235.5h0" stroke="#e41a1c" stroke-width="2.3" stroke-linecap="round" fill="none"/>
<path d="M257.8 236.9h0" stroke="#000" stroke-width="1.8" stroke-linecap="round" fill="none"/>
<path d="M235.6 237.4h0" stroke="#1e78e6" stroke-width="2.1" stroke-linecap="round" fill="none"/>
<line x1="281.50" y1="225.60" x2="284.50" y2="225.60" stroke="#000" stroke-width="0.4"/>
<text x="284.50" y="227.94" font-style="italic">Irf5</text>
<text x="273.30" y="243.64" font-style="italic">Irf7</text>
<text x="246.80" y="228.54" font-style="italic">Irf1</text>
<line x1="253.00" y1="229.00" x2="257.50" y2="236.30" stroke="#000" stroke-width="0.4"/>
<text x="218.40" y="243.64" font-style="italic">Stat1</text>
<text x="342.20" y="123.21" font-weight="bold" style="stroke-width:0.45px" font-size="10.3">i</text>
<text x="379.10" y="134.74" text-anchor="end">IFNγ (h):</text>
<text x="391.93" y="134.04" text-anchor="middle">0</text>
<line x1="385.13" y1="136.10" x2="398.73" y2="136.10" stroke="#999" stroke-width="0.6"/>
<text x="410.07" y="134.04" text-anchor="middle">3</text>
<line x1="403.27" y1="136.10" x2="416.87" y2="136.10" stroke="#999" stroke-width="0.6"/>
<text x="428.21" y="134.04" text-anchor="middle">6</text>
<line x1="421.41" y1="136.10" x2="435.01" y2="136.10" stroke="#999" stroke-width="0.6"/>
<text x="446.36" y="134.04" text-anchor="middle">9</text>
<line x1="439.56" y1="136.10" x2="453.16" y2="136.10" stroke="#999" stroke-width="0.6"/>
<text x="464.50" y="134.04" text-anchor="middle">12</text>
<line x1="457.69" y1="136.10" x2="471.30" y2="136.10" stroke="#999" stroke-width="0.6"/>
<text x="482.63" y="134.04" text-anchor="middle">18</text>
<line x1="475.83" y1="136.10" x2="489.44" y2="136.10" stroke="#999" stroke-width="0.6"/>
<text x="379.10" y="144.24" text-anchor="end">sgNTC</text>
<text x="387.40" y="144.33" text-anchor="middle" font-size="6.2">+</text>
<line x1="395.07" y1="141.90" x2="397.87" y2="141.90" stroke="#000" stroke-width="0.65"/>
<text x="405.54" y="144.33" text-anchor="middle" font-size="6.2">+</text>
<line x1="413.21" y1="141.90" x2="416.01" y2="141.90" stroke="#000" stroke-width="0.65"/>
<text x="423.68" y="144.33" text-anchor="middle" font-size="6.2">+</text>
<line x1="431.35" y1="141.90" x2="434.15" y2="141.90" stroke="#000" stroke-width="0.65"/>
<text x="441.82" y="144.33" text-anchor="middle" font-size="6.2">+</text>
<line x1="449.49" y1="141.90" x2="452.29" y2="141.90" stroke="#000" stroke-width="0.65"/>
<text x="459.96" y="144.33" text-anchor="middle" font-size="6.2">+</text>
<line x1="467.63" y1="141.90" x2="470.43" y2="141.90" stroke="#000" stroke-width="0.65"/>
<text x="478.10" y="144.33" text-anchor="middle" font-size="6.2">+</text>
<line x1="485.77" y1="141.90" x2="488.57" y2="141.90" stroke="#000" stroke-width="0.65"/>
<text x="379.10" y="153.84" text-anchor="end">sg<tspan font-style="italic" font-size="6.3">Vdac2</tspan></text>
<line x1="386.00" y1="151.50" x2="388.80" y2="151.50" stroke="#000" stroke-width="0.65"/>
<text x="396.47" y="153.93" text-anchor="middle" font-size="6.2">+</text>
<line x1="404.14" y1="151.50" x2="406.94" y2="151.50" stroke="#000" stroke-width="0.65"/>
<text x="414.61" y="153.93" text-anchor="middle" font-size="6.2">+</text>
<line x1="422.28" y1="151.50" x2="425.08" y2="151.50" stroke="#000" stroke-width="0.65"/>
<text x="432.75" y="153.93" text-anchor="middle" font-size="6.2">+</text>
<line x1="440.42" y1="151.50" x2="443.22" y2="151.50" stroke="#000" stroke-width="0.65"/>
<text x="450.89" y="153.93" text-anchor="middle" font-size="6.2">+</text>
<line x1="458.56" y1="151.50" x2="461.36" y2="151.50" stroke="#000" stroke-width="0.65"/>
<text x="469.03" y="153.93" text-anchor="middle" font-size="6.2">+</text>
<line x1="476.70" y1="151.50" x2="479.50" y2="151.50" stroke="#000" stroke-width="0.65"/>
<text x="487.17" y="153.93" text-anchor="middle" font-size="6.2">+</text>
<text x="495.70" y="155.44">kDa</text>
<svg x="382.30" y="158.30" width="110.00" height="10.90" viewBox="382.30 158.30 110.00 10.90">
<rect x="382.30" y="158.30" width="110.00" height="10.90" fill="#f3f3f3"/>
<g filter="url(#bl)">
<rect x="384.0" y="161.2" width="6.8" height="2.4" rx="1.2" fill="#000" opacity="0.50"/>
<rect x="393.1" y="161.2" width="6.8" height="2.4" rx="1.2" fill="#000" opacity="0.50"/>
<rect x="402.1" y="161.2" width="6.8" height="2.4" rx="1.2" fill="#000" opacity="0.50"/>
<rect x="411.2" y="161.2" width="6.8" height="2.4" rx="1.2" fill="#000" opacity="0.55"/>
<rect x="420.3" y="161.2" width="6.8" height="2.4" rx="1.2" fill="#000" opacity="0.45"/>
<rect x="429.4" y="161.2" width="6.8" height="2.4" rx="1.2" fill="#000" opacity="0.50"/>
<rect x="438.4" y="161.2" width="6.8" height="2.4" rx="1.2" fill="#000" opacity="0.50"/>
<rect x="447.5" y="161.2" width="6.8" height="2.4" rx="1.2" fill="#000" opacity="0.60"/>
<rect x="456.6" y="161.2" width="6.8" height="2.4" rx="1.2" fill="#000" opacity="0.65"/>
<rect x="465.6" y="161.2" width="6.8" height="2.4" rx="1.2" fill="#000" opacity="0.70"/>
<rect x="474.7" y="161.2" width="6.8" height="2.4" rx="1.2" fill="#000" opacity="0.90"/>
<rect x="483.8" y="161.2" width="6.8" height="2.4" rx="1.2" fill="#000" opacity="1.00"/>
<rect x="383.9" y="165.0" width="7.0" height="2.6" rx="1.3" fill="#000" opacity="0.12"/>
<rect x="393.0" y="165.0" width="7.0" height="2.6" rx="1.3" fill="#000" opacity="0.12"/>
<rect x="402.0" y="165.0" width="7.0" height="2.6" rx="1.3" fill="#000" opacity="0.12"/>
<rect x="411.1" y="165.0" width="7.0" height="2.6" rx="1.3" fill="#000" opacity="0.12"/>
<rect x="420.2" y="165.0" width="7.0" height="2.6" rx="1.3" fill="#000" opacity="0.12"/>
<rect x="429.2" y="165.0" width="7.0" height="2.6" rx="1.3" fill="#000" opacity="0.12"/>
<rect x="438.3" y="165.0" width="7.0" height="2.6" rx="1.3" fill="#000" opacity="0.12"/>
<rect x="447.4" y="165.0" width="7.0" height="2.6" rx="1.3" fill="#000" opacity="0.12"/>
<rect x="456.5" y="165.0" width="7.0" height="2.6" rx="1.3" fill="#000" opacity="0.12"/>
<rect x="465.5" y="165.0" width="7.0" height="2.6" rx="1.3" fill="#000" opacity="0.12"/>
<rect x="474.6" y="165.0" width="7.0" height="2.6" rx="1.3" fill="#000" opacity="0.12"/>
<rect x="483.7" y="165.0" width="7.0" height="2.6" rx="1.3" fill="#000" opacity="0.12"/>
</g>
</svg>
<rect x="382.30" y="158.30" width="110.00" height="10.90" fill="none" stroke="#1a1a1a" stroke-width="0.5"/>
<text x="378.60" y="166.39" text-anchor="end">cGAS</text>
<line x1="492.30" y1="167.50" x2="493.80" y2="167.50" stroke="#000" stroke-width="0.5"/>
<text x="496.60" y="169.84">50</text>
<text x="479.60" y="180.65" text-anchor="middle" font-size="6.8" transform="rotate(-45 479.60 178.20)">1.0</text>
<text x="488.67" y="180.65" text-anchor="middle" font-size="6.8" transform="rotate(-45 488.67 178.20)">6.5</text>
<svg x="382.30" y="183.30" width="110.00" height="10.60" viewBox="382.30 183.30 110.00 10.60">
<rect x="382.30" y="183.30" width="110.00" height="10.60" fill="#f3f3f3"/>
<g filter="url(#bl2)">
<ellipse cx="487.4" cy="189.0" rx="2.2" ry="3.6" fill="#000" opacity="0.95"/>
<ellipse cx="487.4" cy="187.0" rx="1.8" ry="2.5" fill="#000" opacity="0.5"/>
<ellipse cx="441.8" cy="186.0" rx="1.5" ry="1.5" fill="#000" opacity="0.1"/>
<ellipse cx="450.9" cy="186.0" rx="1.5" ry="1.5" fill="#000" opacity="0.1"/>
</g>
<g filter="url(#bl)">
<rect x="384.4" y="188.4" width="6.0" height="2.8" rx="1.4" fill="#000" opacity="0.05"/>
<rect x="393.5" y="188.4" width="6.0" height="2.8" rx="1.4" fill="#000" opacity="0.08"/>
<rect x="402.5" y="188.4" width="6.0" height="2.8" rx="1.4" fill="#000" opacity="0.12"/>
<rect x="411.6" y="188.4" width="6.0" height="2.8" rx="1.4" fill="#000" opacity="0.10"/>
<rect x="420.7" y="188.4" width="6.0" height="2.8" rx="1.4" fill="#000" opacity="0.08"/>
<rect x="429.8" y="188.4" width="6.0" height="2.8" rx="1.4" fill="#000" opacity="0.08"/>
<rect x="438.8" y="188.4" width="6.0" height="2.8" rx="1.4" fill="#000" opacity="0.40"/>
<rect x="447.9" y="188.4" width="6.0" height="2.8" rx="1.4" fill="#000" opacity="0.40"/>
<rect x="457.0" y="188.4" width="6.0" height="2.8" rx="1.4" fill="#000" opacity="0.25"/>
<rect x="466.0" y="188.4" width="6.0" height="2.8" rx="1.4" fill="#000" opacity="0.15"/>
<rect x="475.1" y="188.4" width="6.0" height="2.8" rx="1.4" fill="#000" opacity="0.35"/>
<rect x="484.2" y="188.4" width="6.0" height="2.8" rx="1.4" fill="#000" opacity="0.70"/>
</g>
</svg>
<rect x="382.30" y="183.30" width="110.00" height="10.60" fill="none" stroke="#1a1a1a" stroke-width="0.5"/>
<text x="378.60" y="191.24" text-anchor="end">p-STING<tspan font-size="4.1" dy="-2.4" style="stroke-width:0.06px">S365</tspan><tspan dy="2.4" font-size="0.1"> </tspan></text>
<line x1="492.30" y1="191.50" x2="493.80" y2="191.50" stroke="#000" stroke-width="0.5"/>
<text x="496.60" y="193.84">37</text>
<svg x="382.30" y="197.30" width="110.00" height="11.00" viewBox="382.30 197.30 110.00 11.00">
<rect x="382.30" y="197.30" width="110.00" height="11.00" fill="#f3f3f3"/>
<g filter="url(#bl)">
<rect x="384.0" y="199.5" width="6.8" height="2.6" rx="1.3" fill="#000" opacity="0.25"/>
<rect x="393.1" y="199.5" width="6.8" height="2.6" rx="1.3" fill="#000" opacity="0.25"/>
<rect x="402.1" y="199.5" width="6.8" height="2.6" rx="1.3" fill="#000" opacity="0.35"/>
<rect x="411.2" y="199.5" width="6.8" height="2.6" rx="1.3" fill="#000" opacity="0.30"/>
<rect x="420.3" y="199.5" width="6.8" height="2.6" rx="1.3" fill="#000" opacity="0.55"/>
<rect x="429.4" y="199.5" width="6.8" height="2.6" rx="1.3" fill="#000" opacity="0.45"/>
<rect x="438.4" y="199.5" width="6.8" height="2.6" rx="1.3" fill="#000" opacity="0.85"/>
<rect x="447.5" y="199.5" width="6.8" height="2.6" rx="1.3" fill="#000" opacity="0.80"/>
<rect x="456.6" y="199.5" width="6.8" height="2.6" rx="1.3" fill="#000" opacity="0.90"/>
<rect x="465.6" y="199.5" width="6.8" height="2.6" rx="1.3" fill="#000" opacity="0.80"/>
<rect x="474.7" y="199.5" width="6.8" height="2.6" rx="1.3" fill="#000" opacity="1.00"/>
<rect x="483.8" y="199.5" width="6.8" height="2.6" rx="1.3" fill="#000" opacity="0.95"/>
<rect x="384.0" y="204.0" width="6.8" height="2.6" rx="1.3" fill="#000" opacity="0.05"/>
<rect x="393.1" y="204.0" width="6.8" height="2.6" rx="1.3" fill="#000" opacity="0.05"/>
<rect x="402.1" y="204.0" width="6.8" height="2.6" rx="1.3" fill="#000" opacity="0.05"/>
<rect x="411.2" y="204.0" width="6.8" height="2.6" rx="1.3" fill="#000" opacity="0.05"/>
<rect x="420.3" y="204.0" width="6.8" height="2.6" rx="1.3" fill="#000" opacity="0.10"/>
<rect x="429.4" y="204.0" width="6.8" height="2.6" rx="1.3" fill="#000" opacity="0.12"/>
<rect x="438.4" y="204.0" width="6.8" height="2.6" rx="1.3" fill="#000" opacity="0.20"/>
<rect x="447.5" y="204.0" width="6.8" height="2.6" rx="1.3" fill="#000" opacity="0.20"/>
<rect x="456.6" y="204.0" width="6.8" height="2.6" rx="1.3" fill="#000" opacity="0.20"/>
<rect x="465.6" y="204.0" width="6.8" height="2.6" rx="1.3" fill="#000" opacity="0.15"/>
<rect x="474.7" y="204.0" width="6.8" height="2.6" rx="1.3" fill="#000" opacity="0.40"/>
<rect x="483.8" y="204.0" width="6.8" height="2.6" rx="1.3" fill="#000" opacity="0.30"/>
</g>
</svg>
<rect x="382.30" y="197.30" width="110.00" height="11.00" fill="none" stroke="#1a1a1a" stroke-width="0.5"/>
<text x="378.60" y="205.44" text-anchor="end">STING</text>
<line x1="492.30" y1="198.50" x2="493.80" y2="198.50" stroke="#000" stroke-width="0.5"/>
<text x="496.60" y="200.84">37</text>
<text x="479.60" y="218.65" text-anchor="middle" font-size="6.8" transform="rotate(-45 479.60 216.20)">1.0</text>
<text x="488.67" y="218.65" text-anchor="middle" font-size="6.8" transform="rotate(-45 488.67 216.20)">2.8</text>
<svg x="382.30" y="222.20" width="110.00" height="10.40" viewBox="382.30 222.20 110.00 10.40">
<rect x="382.30" y="222.20" width="110.00" height="10.40" fill="#f3f3f3"/>
<g filter="url(#bl)">
<rect x="384.0" y="226.1" width="6.8" height="2.6" rx="1.3" fill="#000" opacity="0.08"/>
<rect x="393.1" y="226.1" width="6.8" height="2.6" rx="1.3" fill="#000" opacity="0.08"/>
<rect x="402.1" y="226.1" width="6.8" height="2.6" rx="1.3" fill="#000" opacity="0.08"/>
<rect x="411.2" y="226.1" width="6.8" height="2.6" rx="1.3" fill="#000" opacity="0.08"/>
<rect x="420.3" y="226.1" width="6.8" height="2.6" rx="1.3" fill="#000" opacity="0.12"/>
<rect x="429.4" y="226.1" width="6.8" height="2.6" rx="1.3" fill="#000" opacity="0.15"/>
<rect x="438.4" y="226.1" width="6.8" height="2.6" rx="1.3" fill="#000" opacity="0.40"/>
<rect x="447.5" y="226.1" width="6.8" height="2.6" rx="1.3" fill="#000" opacity="0.35"/>
<rect x="456.6" y="226.1" width="6.8" height="2.6" rx="1.3" fill="#000" opacity="0.35"/>
<rect x="465.6" y="226.1" width="6.8" height="2.6" rx="1.3" fill="#000" opacity="0.65"/>
<rect x="474.7" y="226.1" width="6.8" height="2.6" rx="1.3" fill="#000" opacity="0.80"/>
<rect x="483.1" y="225.8" width="8.2" height="3.1" rx="1.6" fill="#000" opacity="1.00"/>
</g>
</svg>
<rect x="382.30" y="222.20" width="110.00" height="10.40" fill="none" stroke="#1a1a1a" stroke-width="0.5"/>
<text x="378.60" y="230.04" text-anchor="end">p-TBK1<tspan font-size="4.1" dy="-2.4" style="stroke-width:0.06px">S172</tspan><tspan dy="2.4" font-size="0.1"> </tspan></text>
<line x1="492.30" y1="227.30" x2="493.80" y2="227.30" stroke="#000" stroke-width="0.5"/>
<text x="496.60" y="229.64">75</text>
<svg x="382.30" y="235.70" width="110.00" height="10.50" viewBox="382.30 235.70 110.00 10.50">
<rect x="382.30" y="235.70" width="110.00" height="10.50" fill="#f3f3f3"/>
<g filter="url(#bl)">
<rect x="383.9" y="239.6" width="7.0" height="2.6" rx="1.3" fill="#000" opacity="0.80"/>
<rect x="393.0" y="239.6" width="7.0" height="2.6" rx="1.3" fill="#000" opacity="0.80"/>
<rect x="402.0" y="239.6" width="7.0" height="2.6" rx="1.3" fill="#000" opacity="0.85"/>
<rect x="411.1" y="239.6" width="7.0" height="2.6" rx="1.3" fill="#000" opacity="0.85"/>
<rect x="420.2" y="239.6" width="7.0" height="2.6" rx="1.3" fill="#000" opacity="0.85"/>
<rect x="429.2" y="239.6" width="7.0" height="2.6" rx="1.3" fill="#000" opacity="0.85"/>
<rect x="438.3" y="239.6" width="7.0" height="2.6" rx="1.3" fill="#000" opacity="0.90"/>
<rect x="447.4" y="239.6" width="7.0" height="2.6" rx="1.3" fill="#000" opacity="0.90"/>
<rect x="456.5" y="239.6" width="7.0" height="2.6" rx="1.3" fill="#000" opacity="0.90"/>
<rect x="465.5" y="239.6" width="7.0" height="2.6" rx="1.3" fill="#000" opacity="0.90"/>
<rect x="474.6" y="239.6" width="7.0" height="2.6" rx="1.3" fill="#000" opacity="0.90"/>
<rect x="483.7" y="239.6" width="7.0" height="2.6" rx="1.3" fill="#000" opacity="0.90"/>
</g>
</svg>
<rect x="382.30" y="235.70" width="110.00" height="10.50" fill="none" stroke="#1a1a1a" stroke-width="0.5"/>
<text x="378.60" y="243.59" text-anchor="end">TBK1</text>
<line x1="492.30" y1="241.00" x2="493.80" y2="241.00" stroke="#000" stroke-width="0.5"/>
<text x="496.60" y="243.34">75</text>
<text x="479.60" y="256.45" text-anchor="middle" font-size="6.8" transform="rotate(-45 479.60 254.00)">1.0</text>
<text x="488.67" y="256.45" text-anchor="middle" font-size="6.8" transform="rotate(-45 488.67 254.00)">6.3</text>
<svg x="382.30" y="259.20" width="110.00" height="10.20" viewBox="382.30 259.20 110.00 10.20">
<rect x="382.30" y="259.20" width="110.00" height="10.20" fill="#f3f3f3"/>
<g filter="url(#bl2)">
<ellipse cx="441.8" cy="265.0" rx="1.6" ry="2.5" fill="#000" opacity="0.12"/>
<ellipse cx="450.9" cy="264.5" rx="1.6" ry="3" fill="#000" opacity="0.18"/>
<ellipse cx="460.0" cy="265.0" rx="1.6" ry="3" fill="#000" opacity="0.18"/>
<ellipse cx="469.0" cy="264.0" rx="1.6" ry="3" fill="#000" opacity="0.28"/>
<ellipse cx="478.1" cy="264.5" rx="1.6" ry="2.5" fill="#000" opacity="0.1"/>
</g>
<g filter="url(#bl)">
<rect x="484.2" y="263.9" width="6.0" height="3.0" rx="1.5" fill="#000" opacity="1.00"/>
</g>
</svg>
<rect x="382.30" y="259.20" width="110.00" height="10.20" fill="none" stroke="#1a1a1a" stroke-width="0.5"/>
<text x="378.60" y="266.94" text-anchor="end">p-IRF3<tspan font-size="4.1" dy="-2.4" style="stroke-width:0.06px">S396</tspan><tspan dy="2.4" font-size="0.1"> </tspan></text>
<line x1="492.30" y1="260.40" x2="493.80" y2="260.40" stroke="#000" stroke-width="0.5"/>
<text x="496.60" y="262.74">50</text>
<svg x="382.30" y="272.40" width="110.00" height="10.10" viewBox="382.30 272.40 110.00 10.10">
<rect x="382.30" y="272.40" width="110.00" height="10.10" fill="#f3f3f3"/>
<g filter="url(#bl)">
<rect x="383.9" y="274.9" width="7.0" height="3.0" rx="1.5" fill="#000" opacity="0.95"/>
<rect x="393.0" y="275.5" width="7.0" height="3.0" rx="1.5" fill="#000" opacity="0.95"/>
<rect x="402.0" y="276.3" width="7.0" height="3.0" rx="1.5" fill="#000" opacity="0.95"/>
<rect x="411.1" y="277.1" width="7.0" height="3.0" rx="1.5" fill="#000" opacity="0.95"/>
<rect x="420.2" y="277.1" width="7.0" height="3.0" rx="1.5" fill="#000" opacity="0.90"/>
<rect x="429.2" y="277.1" width="7.0" height="3.0" rx="1.5" fill="#000" opacity="0.90"/>
<rect x="438.3" y="277.1" width="7.0" height="3.0" rx="1.5" fill="#000" opacity="0.90"/>
<rect x="447.4" y="277.1" width="7.0" height="3.0" rx="1.5" fill="#000" opacity="0.90"/>
<rect x="456.5" y="277.1" width="7.0" height="3.0" rx="1.5" fill="#000" opacity="0.90"/>
<rect x="465.5" y="277.1" width="7.0" height="3.0" rx="1.5" fill="#000" opacity="0.90"/>
<rect x="474.6" y="276.5" width="7.0" height="3.0" rx="1.5" fill="#000" opacity="0.90"/>
<rect x="483.7" y="275.3" width="7.0" height="3.0" rx="1.5" fill="#000" opacity="0.55"/>
</g>
</svg>
<rect x="382.30" y="272.40" width="110.00" height="10.10" fill="none" stroke="#1a1a1a" stroke-width="0.5"/>
<text x="378.60" y="280.09" text-anchor="end">IRF3</text>
<line x1="492.30" y1="281.20" x2="493.80" y2="281.20" stroke="#000" stroke-width="0.5"/>
<text x="496.60" y="283.54">37</text>
<svg x="382.30" y="285.50" width="110.00" height="11.00" viewBox="382.30 285.50 110.00 11.00">
<rect x="382.30" y="285.50" width="110.00" height="11.00" fill="#f3f3f3"/>
<g filter="url(#bl)">
<rect x="383.4" y="288.6" width="8.0" height="3.6" rx="1.6" fill="#000" opacity="0.95"/>
<rect x="392.5" y="288.6" width="8.0" height="3.6" rx="1.6" fill="#000" opacity="0.03"/>
<rect x="401.5" y="289.0" width="8.0" height="3.6" rx="1.6" fill="#000" opacity="0.85"/>
<rect x="410.6" y="288.6" width="8.0" height="3.6" rx="1.6" fill="#000" opacity="0.03"/>
<rect x="419.7" y="289.2" width="8.0" height="3.6" rx="1.6" fill="#000" opacity="0.95"/>
<rect x="428.8" y="288.6" width="8.0" height="3.6" rx="1.6" fill="#000" opacity="0.03"/>
<rect x="437.8" y="289.0" width="8.0" height="3.6" rx="1.6" fill="#000" opacity="0.95"/>
<rect x="446.9" y="288.6" width="8.0" height="3.6" rx="1.6" fill="#000" opacity="0.03"/>
<rect x="456.0" y="288.2" width="8.0" height="3.6" rx="1.6" fill="#000" opacity="0.85"/>
<rect x="465.0" y="288.6" width="8.0" height="3.6" rx="1.6" fill="#000" opacity="0.03"/>
<rect x="474.1" y="287.6" width="8.0" height="3.6" rx="1.6" fill="#000" opacity="1.00"/>
<rect x="483.2" y="288.6" width="8.0" height="3.6" rx="1.6" fill="#000" opacity="0.05"/>
</g>
</svg>
<rect x="382.30" y="285.50" width="110.00" height="11.00" fill="none" stroke="#1a1a1a" stroke-width="0.5"/>
<text x="378.60" y="293.64" text-anchor="end">VDAC2</text>
<line x1="492.30" y1="293.40" x2="493.80" y2="293.40" stroke="#000" stroke-width="0.5"/>
<text x="496.60" y="295.74">25</text>
<svg x="382.30" y="299.20" width="110.00" height="10.00" viewBox="382.30 299.20 110.00 10.00">
<rect x="382.30" y="299.20" width="110.00" height="10.00" fill="#f3f3f3"/>
<g filter="url(#bl)">
<rect x="383.6" y="302.9" width="7.6" height="2.8" rx="1.4" fill="#000" opacity="0.95"/>
<rect x="392.7" y="302.9" width="7.6" height="2.8" rx="1.4" fill="#000" opacity="0.95"/>
<rect x="401.7" y="302.9" width="7.6" height="2.8" rx="1.4" fill="#000" opacity="0.95"/>
<rect x="410.8" y="302.9" width="7.6" height="2.8" rx="1.4" fill="#000" opacity="0.95"/>
<rect x="419.9" y="302.9" width="7.6" height="2.8" rx="1.4" fill="#000" opacity="0.95"/>
<rect x="428.9" y="302.9" width="7.6" height="2.8" rx="1.4" fill="#000" opacity="0.95"/>
<rect x="438.0" y="302.9" width="7.6" height="2.8" rx="1.4" fill="#000" opacity="0.95"/>
<rect x="447.1" y="302.9" width="7.6" height="2.8" rx="1.4" fill="#000" opacity="0.95"/>
<rect x="456.2" y="302.9" width="7.6" height="2.8" rx="1.4" fill="#000" opacity="0.95"/>
<rect x="465.2" y="302.9" width="7.6" height="2.8" rx="1.4" fill="#000" opacity="0.95"/>
<rect x="474.3" y="302.9" width="7.6" height="2.8" rx="1.4" fill="#000" opacity="0.95"/>
<rect x="483.4" y="302.9" width="7.6" height="2.8" rx="1.4" fill="#000" opacity="0.95"/>
</g>
</svg>
<rect x="382.30" y="299.20" width="110.00" height="10.00" fill="none" stroke="#1a1a1a" stroke-width="0.5"/>
<text x="378.60" y="306.84" text-anchor="end">β-Actin</text>
<line x1="492.30" y1="307.20" x2="493.80" y2="307.20" stroke="#000" stroke-width="0.5"/>
<text x="496.60" y="309.54">37</text>
<text x="521.60" y="123.71" font-weight="bold" style="stroke-width:0.45px" font-size="10.3">j</text>
<text x="585.60" y="131.54" text-anchor="middle">Untreated</text>
<text x="638.30" y="131.54" text-anchor="middle">IFNγ 24 h</text>
<line x1="560.20" y1="135.40" x2="610.10" y2="135.40" stroke="#555" stroke-width="0.5"/>
<line x1="615.70" y1="135.40" x2="665.10" y2="135.40" stroke="#555" stroke-width="0.5"/>
<text x="557.60" y="144.74" text-anchor="end">sgNTC</text>
<text x="562.20" y="144.83" text-anchor="middle" font-size="6.2">+</text>
<text x="571.39" y="144.83" text-anchor="middle" font-size="6.2">+</text>
<text x="580.58" y="144.83" text-anchor="middle" font-size="6.2">+</text>
<line x1="588.37" y1="142.40" x2="591.17" y2="142.40" stroke="#000" stroke-width="0.65"/>
<text x="598.96" y="144.83" text-anchor="middle" font-size="6.2">+</text>
<line x1="606.75" y1="142.40" x2="609.55" y2="142.40" stroke="#000" stroke-width="0.65"/>
<text x="617.34" y="144.83" text-anchor="middle" font-size="6.2">+</text>
<text x="626.53" y="144.83" text-anchor="middle" font-size="6.2">+</text>
<text x="635.72" y="144.83" text-anchor="middle" font-size="6.2">+</text>
<line x1="643.51" y1="142.40" x2="646.31" y2="142.40" stroke="#000" stroke-width="0.65"/>
<text x="654.10" y="144.83" text-anchor="middle" font-size="6.2">+</text>
<line x1="661.89" y1="142.40" x2="664.69" y2="142.40" stroke="#000" stroke-width="0.65"/>
<text x="557.60" y="154.64" text-anchor="end">sg<tspan font-style="italic" font-size="6.3">Vdac2</tspan></text>
<line x1="560.80" y1="152.30" x2="563.60" y2="152.30" stroke="#000" stroke-width="0.65"/>
<text x="571.39" y="154.73" text-anchor="middle" font-size="6.2">+</text>
<line x1="579.18" y1="152.30" x2="581.98" y2="152.30" stroke="#000" stroke-width="0.65"/>
<text x="589.77" y="154.73" text-anchor="middle" font-size="6.2">+</text>
<line x1="597.56" y1="152.30" x2="600.36" y2="152.30" stroke="#000" stroke-width="0.65"/>
<text x="608.15" y="154.73" text-anchor="middle" font-size="6.2">+</text>
<line x1="615.94" y1="152.30" x2="618.74" y2="152.30" stroke="#000" stroke-width="0.65"/>
<text x="626.53" y="154.73" text-anchor="middle" font-size="6.2">+</text>
<line x1="634.32" y1="152.30" x2="637.12" y2="152.30" stroke="#000" stroke-width="0.65"/>
<text x="644.91" y="154.73" text-anchor="middle" font-size="6.2">+</text>
<line x1="652.70" y1="152.30" x2="655.50" y2="152.30" stroke="#000" stroke-width="0.65"/>
<text x="663.29" y="154.73" text-anchor="middle" font-size="6.2">+</text>
<text x="557.60" y="164.74" text-anchor="end">sg<tspan font-style="italic" font-size="6.3">Cgas</tspan></text>
<line x1="560.80" y1="162.40" x2="563.60" y2="162.40" stroke="#000" stroke-width="0.65"/>
<line x1="569.99" y1="162.40" x2="572.79" y2="162.40" stroke="#000" stroke-width="0.65"/>
<text x="580.58" y="164.83" text-anchor="middle" font-size="6.2">+</text>
<text x="589.77" y="164.83" text-anchor="middle" font-size="6.2">+</text>
<line x1="597.56" y1="162.40" x2="600.36" y2="162.40" stroke="#000" stroke-width="0.65"/>
<line x1="606.75" y1="162.40" x2="609.55" y2="162.40" stroke="#000" stroke-width="0.65"/>
<line x1="615.94" y1="162.40" x2="618.74" y2="162.40" stroke="#000" stroke-width="0.65"/>
<line x1="625.13" y1="162.40" x2="627.93" y2="162.40" stroke="#000" stroke-width="0.65"/>
<text x="635.72" y="164.83" text-anchor="middle" font-size="6.2">+</text>
<text x="644.91" y="164.83" text-anchor="middle" font-size="6.2">+</text>
<line x1="652.70" y1="162.40" x2="655.50" y2="162.40" stroke="#000" stroke-width="0.65"/>
<line x1="661.89" y1="162.40" x2="664.69" y2="162.40" stroke="#000" stroke-width="0.65"/>
<text x="557.60" y="174.94" text-anchor="end">sg<tspan font-style="italic" font-size="6.3">Sting1</tspan></text>
<line x1="560.80" y1="172.60" x2="563.60" y2="172.60" stroke="#000" stroke-width="0.65"/>
<line x1="569.99" y1="172.60" x2="572.79" y2="172.60" stroke="#000" stroke-width="0.65"/>
<line x1="579.18" y1="172.60" x2="581.98" y2="172.60" stroke="#000" stroke-width="0.65"/>
<line x1="588.37" y1="172.60" x2="591.17" y2="172.60" stroke="#000" stroke-width="0.65"/>
<text x="598.96" y="175.03" text-anchor="middle" font-size="6.2">+</text>
<text x="608.15" y="175.03" text-anchor="middle" font-size="6.2">+</text>
<line x1="615.94" y1="172.60" x2="618.74" y2="172.60" stroke="#000" stroke-width="0.65"/>
<line x1="625.13" y1="172.60" x2="627.93" y2="172.60" stroke="#000" stroke-width="0.65"/>
<line x1="634.32" y1="172.60" x2="637.12" y2="172.60" stroke="#000" stroke-width="0.65"/>
<line x1="643.51" y1="172.60" x2="646.31" y2="172.60" stroke="#000" stroke-width="0.65"/>
<text x="654.10" y="175.03" text-anchor="middle" font-size="6.2">+</text>
<text x="663.29" y="175.03" text-anchor="middle" font-size="6.2">+</text>
<text x="618.34" y="185.45" text-anchor="middle" font-size="6.8" transform="rotate(-45 618.34 183.00)">1.0</text>
<text x="627.53" y="185.45" text-anchor="middle" font-size="6.8" transform="rotate(-45 627.53 183.00)">2.2</text>
<text x="636.72" y="185.45" text-anchor="middle" font-size="6.8" transform="rotate(-45 636.72 183.00)">0.5</text>
<text x="645.91" y="185.45" text-anchor="middle" font-size="6.8" transform="rotate(-45 645.91 183.00)">0.6</text>
<text x="655.10" y="185.45" text-anchor="middle" font-size="6.8" transform="rotate(-45 655.10 183.00)">0.5</text>
<text x="664.29" y="185.45" text-anchor="middle" font-size="6.8" transform="rotate(-45 664.29 183.00)">0.5</text>
<text x="672.20" y="186.24">kDa</text>
<svg x="557.50" y="188.40" width="110.80" height="9.90" viewBox="557.50 188.40 110.80 9.90">
<rect x="557.50" y="188.40" width="110.80" height="9.90" fill="#f3f3f3"/>
<g filter="url(#bl)">
<rect x="558.8" y="192.4" width="6.8" height="2.4" rx="1.2" fill="#000" opacity="0.14"/>
<rect x="568.0" y="192.4" width="6.8" height="2.4" rx="1.2" fill="#000" opacity="0.14"/>
<rect x="577.2" y="192.4" width="6.8" height="2.4" rx="1.2" fill="#000" opacity="0.14"/>
<rect x="586.4" y="192.7" width="6.8" height="2.4" rx="1.2" fill="#000" opacity="0.14"/>
<rect x="595.6" y="192.7" width="6.8" height="2.4" rx="1.2" fill="#000" opacity="0.14"/>
<rect x="604.8" y="192.7" width="6.8" height="2.4" rx="1.2" fill="#000" opacity="0.14"/>
<rect x="613.9" y="193.4" width="6.8" height="2.4" rx="1.2" fill="#000" opacity="0.60"/>
<rect x="623.1" y="193.0" width="6.8" height="2.4" rx="1.2" fill="#000" opacity="0.90"/>
<rect x="632.3" y="192.4" width="6.8" height="2.4" rx="1.2" fill="#000" opacity="0.16"/>
<rect x="641.5" y="192.4" width="6.8" height="2.4" rx="1.2" fill="#000" opacity="0.14"/>
<rect x="650.7" y="192.1" width="6.8" height="2.4" rx="1.2" fill="#000" opacity="0.16"/>
<rect x="659.9" y="191.8" width="6.8" height="2.4" rx="1.2" fill="#000" opacity="0.16"/>
</g>
</svg>
<rect x="557.50" y="188.40" width="110.80" height="9.90" fill="none" stroke="#1a1a1a" stroke-width="0.5"/>
<text x="555.20" y="195.99" text-anchor="end">p-TBK1<tspan font-size="4.1" dy="-2.4" style="stroke-width:0.06px">S172</tspan><tspan dy="2.4" font-size="0.1"> </tspan></text>
<line x1="668.30" y1="192.80" x2="669.80" y2="192.80" stroke="#000" stroke-width="0.5"/>
<text x="673.60" y="195.14">75</text>
<svg x="557.50" y="201.60" width="110.80" height="10.30" viewBox="557.50 201.60 110.80 10.30">
<rect x="557.50" y="201.60" width="110.80" height="10.30" fill="#f3f3f3"/>
<g filter="url(#bl)">
<rect x="558.4" y="204.8" width="7.6" height="2.8" rx="1.4" fill="#000" opacity="0.95"/>
<rect x="567.6" y="205.2" width="7.6" height="2.8" rx="1.4" fill="#000" opacity="0.95"/>
<rect x="576.8" y="205.5" width="7.6" height="2.8" rx="1.4" fill="#000" opacity="0.95"/>
<rect x="586.0" y="205.6" width="7.6" height="2.8" rx="1.4" fill="#000" opacity="0.95"/>
<rect x="595.2" y="205.6" width="7.6" height="2.8" rx="1.4" fill="#000" opacity="0.95"/>
<rect x="604.4" y="205.8" width="7.6" height="2.8" rx="1.4" fill="#000" opacity="0.95"/>
<rect x="613.5" y="205.8" width="7.6" height="2.8" rx="1.4" fill="#000" opacity="0.95"/>
<rect x="622.7" y="205.8" width="7.6" height="2.8" rx="1.4" fill="#000" opacity="0.95"/>
<rect x="631.9" y="205.7" width="7.6" height="2.8" rx="1.4" fill="#000" opacity="0.95"/>
<rect x="641.1" y="205.2" width="7.6" height="2.8" rx="1.4" fill="#000" opacity="0.95"/>
<rect x="650.3" y="204.9" width="7.6" height="2.8" rx="1.4" fill="#000" opacity="0.95"/>
<rect x="659.5" y="204.6" width="7.6" height="2.8" rx="1.4" fill="#000" opacity="0.95"/>
</g>
</svg>
<rect x="557.50" y="201.60" width="110.80" height="10.30" fill="none" stroke="#1a1a1a" stroke-width="0.5"/>
<text x="555.20" y="209.39" text-anchor="end">TBK1</text>
<line x1="668.30" y1="206.80" x2="669.80" y2="206.80" stroke="#000" stroke-width="0.5"/>
<text x="673.60" y="209.14">75</text>
<text x="618.34" y="221.95" text-anchor="middle" font-size="6.8" transform="rotate(-45 618.34 219.50)">1.0</text>
<text x="627.53" y="221.95" text-anchor="middle" font-size="6.8" transform="rotate(-45 627.53 219.50)">6.0</text>
<text x="636.72" y="221.95" text-anchor="middle" font-size="6.8" transform="rotate(-45 636.72 219.50)">0.9</text>
<text x="645.91" y="221.95" text-anchor="middle" font-size="6.8" transform="rotate(-45 645.91 219.50)">1.2</text>
<text x="655.10" y="221.95" text-anchor="middle" font-size="6.8" transform="rotate(-45 655.10 219.50)">0.7</text>
<text x="664.29" y="221.95" text-anchor="middle" font-size="6.8" transform="rotate(-45 664.29 219.50)">1.5</text>
<svg x="557.50" y="225.30" width="110.80" height="10.20" viewBox="557.50 225.30 110.80 10.20">
<rect x="557.50" y="225.30" width="110.80" height="10.20" fill="#f3f3f3"/>
<g filter="url(#bl2)">
<ellipse cx="562.2" cy="230.0" rx="2" ry="3.5" fill="#000" opacity="0.2"/>
<ellipse cx="571.4" cy="230.5" rx="2" ry="3" fill="#000" opacity="0.13"/>
<ellipse cx="580.6" cy="230.0" rx="2" ry="3" fill="#000" opacity="0.15"/>
<ellipse cx="589.8" cy="229.5" rx="2" ry="3" fill="#000" opacity="0.12"/>
<ellipse cx="617.3" cy="229.5" rx="2" ry="3" fill="#000" opacity="0.1"/>
<ellipse cx="626.5" cy="229.0" rx="2" ry="2" fill="#000" opacity="0.15"/>
<ellipse cx="635.7" cy="230.0" rx="2" ry="3" fill="#000" opacity="0.15"/>
<ellipse cx="644.9" cy="231.0" rx="2" ry="2.5" fill="#000" opacity="0.08"/>
<ellipse cx="654.1" cy="231.0" rx="2" ry="3" fill="#000" opacity="0.14"/>
<ellipse cx="663.3" cy="230.5" rx="1.8" ry="2.5" fill="#000" opacity="0.15"/>
</g>
<g filter="url(#bl)">
<rect x="623.5" y="230.3" width="6.0" height="2.8" rx="1.4" fill="#000" opacity="0.90"/>
</g>
</svg>
<rect x="557.50" y="225.30" width="110.80" height="10.20" fill="none" stroke="#1a1a1a" stroke-width="0.5"/>
<text x="555.20" y="233.04" text-anchor="end">p-IRF3<tspan font-size="4.1" dy="-2.4" style="stroke-width:0.06px">S396</tspan><tspan dy="2.4" font-size="0.1"> </tspan></text>
<line x1="668.30" y1="227.00" x2="669.80" y2="227.00" stroke="#000" stroke-width="0.5"/>
<text x="673.60" y="229.34">50</text>
<svg x="557.50" y="238.50" width="110.80" height="10.40" viewBox="557.50 238.50 110.80 10.40">
<rect x="557.50" y="238.50" width="110.80" height="10.40" fill="#f3f3f3"/>
<g filter="url(#bl)">
<rect x="558.9" y="242.6" width="6.6" height="2.8" rx="1.4" fill="#000" opacity="0.95"/>
<rect x="568.1" y="242.6" width="6.6" height="2.8" rx="1.4" fill="#000" opacity="0.90"/>
<rect x="577.3" y="242.9" width="6.6" height="2.8" rx="1.4" fill="#000" opacity="0.90"/>
<rect x="586.5" y="242.9" width="6.6" height="2.8" rx="1.4" fill="#000" opacity="0.90"/>
<rect x="595.7" y="242.9" width="6.6" height="2.8" rx="1.4" fill="#000" opacity="0.90"/>
<rect x="604.9" y="242.6" width="6.6" height="2.8" rx="1.4" fill="#000" opacity="0.95"/>
<rect x="614.0" y="242.6" width="6.6" height="2.8" rx="1.4" fill="#000" opacity="0.90"/>
<rect x="623.2" y="242.8" width="6.6" height="2.8" rx="1.4" fill="#000" opacity="0.90"/>
<rect x="632.4" y="242.6" width="6.6" height="2.8" rx="1.4" fill="#000" opacity="0.95"/>
<rect x="641.6" y="242.8" width="6.6" height="2.8" rx="1.4" fill="#000" opacity="0.60"/>
<rect x="650.8" y="242.2" width="6.6" height="2.8" rx="1.4" fill="#000" opacity="0.95"/>
<rect x="660.0" y="241.7" width="6.6" height="2.8" rx="1.4" fill="#000" opacity="0.95"/>
</g>
</svg>
<rect x="557.50" y="238.50" width="110.80" height="10.40" fill="none" stroke="#1a1a1a" stroke-width="0.5"/>
<text x="555.20" y="246.34" text-anchor="end">IRF3</text>
<line x1="668.30" y1="246.60" x2="669.80" y2="246.60" stroke="#000" stroke-width="0.5"/>
<text x="673.60" y="248.94">37</text>
<svg x="557.50" y="252.50" width="110.80" height="9.80" viewBox="557.50 252.50 110.80 9.80">
<rect x="557.50" y="252.50" width="110.80" height="9.80" fill="#f3f3f3"/>
<g filter="url(#bl)">
<rect x="559.0" y="255.5" width="6.4" height="2.6" rx="1.3" fill="#000" opacity="0.80"/>
<rect x="568.2" y="255.9" width="6.4" height="2.6" rx="1.3" fill="#000" opacity="0.85"/>
<rect x="577.4" y="256.7" width="6.4" height="2.6" rx="1.3" fill="#000" opacity="0.03"/>
<rect x="595.8" y="257.3" width="6.4" height="2.6" rx="1.3" fill="#000" opacity="0.35"/>
<rect x="605.0" y="257.5" width="6.4" height="2.6" rx="1.3" fill="#000" opacity="0.45"/>
<rect x="614.1" y="257.5" width="6.4" height="2.6" rx="1.3" fill="#000" opacity="0.80"/>
<rect x="623.3" y="257.2" width="6.4" height="2.6" rx="1.3" fill="#000" opacity="1.00"/>
<rect x="650.9" y="255.9" width="6.4" height="2.6" rx="1.3" fill="#000" opacity="0.30"/>
<rect x="660.1" y="255.3" width="6.4" height="2.6" rx="1.3" fill="#000" opacity="0.40"/>
</g>
</svg>
<rect x="557.50" y="252.50" width="110.80" height="9.80" fill="none" stroke="#1a1a1a" stroke-width="0.5"/>
<text x="555.20" y="260.04" text-anchor="end">cGAS</text>
<line x1="668.30" y1="259.80" x2="669.80" y2="259.80" stroke="#000" stroke-width="0.5"/>
<text x="673.60" y="262.14">50</text>
<svg x="557.50" y="265.30" width="110.80" height="11.20" viewBox="557.50 265.30 110.80 11.20">
<rect x="557.50" y="265.30" width="110.80" height="11.20" fill="#f3f3f3"/>
<g filter="url(#bl)">
<rect x="559.1" y="266.6" width="6.2" height="2.8" rx="1.4" fill="#000" opacity="0.45"/>
<rect x="568.3" y="266.9" width="6.2" height="2.8" rx="1.4" fill="#000" opacity="0.40"/>
<rect x="577.5" y="267.2" width="6.2" height="2.8" rx="1.4" fill="#000" opacity="0.35"/>
<rect x="586.7" y="267.2" width="6.2" height="2.8" rx="1.4" fill="#000" opacity="0.30"/>
<rect x="613.2" y="267.3" width="8.4" height="3.8" rx="1.6" fill="#000" opacity="1.00"/>
<rect x="622.5" y="267.0" width="8.1" height="3.6" rx="1.6" fill="#000" opacity="1.00"/>
<rect x="631.7" y="267.0" width="8.1" height="3.6" rx="1.6" fill="#000" opacity="1.00"/>
<rect x="641.2" y="266.9" width="7.4" height="3.4" rx="1.6" fill="#000" opacity="0.95"/>
<rect x="559.2" y="272.7" width="6.0" height="2.6" rx="1.3" fill="#000" opacity="0.08"/>
<rect x="568.4" y="272.7" width="6.0" height="2.6" rx="1.3" fill="#000" opacity="0.08"/>
<rect x="577.6" y="272.7" width="6.0" height="2.6" rx="1.3" fill="#000" opacity="0.05"/>
<rect x="586.8" y="272.7" width="6.0" height="2.6" rx="1.3" fill="#000" opacity="0.05"/>
<rect x="614.3" y="272.7" width="6.0" height="2.6" rx="1.3" fill="#000" opacity="0.60"/>
<rect x="623.5" y="272.7" width="6.0" height="2.6" rx="1.3" fill="#000" opacity="0.35"/>
<rect x="632.7" y="272.7" width="6.0" height="2.6" rx="1.3" fill="#000" opacity="0.60"/>
<rect x="641.9" y="272.7" width="6.0" height="2.6" rx="1.3" fill="#000" opacity="0.35"/>
</g>
</svg>
<rect x="557.50" y="265.30" width="110.80" height="11.20" fill="none" stroke="#1a1a1a" stroke-width="0.5"/>
<text x="555.20" y="273.54" text-anchor="end">STING</text>
<line x1="668.30" y1="267.70" x2="669.80" y2="267.70" stroke="#000" stroke-width="0.5"/>
<text x="673.60" y="270.04">37</text>
<svg x="557.50" y="280.10" width="110.80" height="10.60" viewBox="557.50 280.10 110.80 10.60">
<rect x="557.50" y="280.10" width="110.80" height="10.60" fill="#f3f3f3"/>
<g filter="url(#bl)">
<rect x="558.7" y="283.0" width="7.0" height="4.0" rx="1.6" fill="#000" opacity="1.00"/>
<rect x="567.9" y="283.6" width="7.0" height="4.0" rx="1.6" fill="#000" opacity="0.03"/>
<rect x="577.1" y="283.6" width="7.0" height="4.0" rx="1.6" fill="#000" opacity="0.90"/>
<rect x="586.3" y="283.6" width="7.0" height="4.0" rx="1.6" fill="#000" opacity="0.04"/>
<rect x="595.5" y="283.6" width="7.0" height="4.0" rx="1.6" fill="#000" opacity="0.90"/>
<rect x="604.7" y="283.6" width="7.0" height="4.0" rx="1.6" fill="#000" opacity="0.05"/>
<rect x="613.8" y="283.8" width="7.0" height="4.0" rx="1.6" fill="#000" opacity="0.95"/>
<rect x="623.0" y="283.6" width="7.0" height="4.0" rx="1.6" fill="#000" opacity="0.03"/>
<rect x="632.2" y="283.1" width="7.0" height="4.0" rx="1.6" fill="#000" opacity="0.95"/>
<rect x="641.4" y="283.6" width="7.0" height="4.0" rx="1.6" fill="#000" opacity="0.03"/>
<rect x="650.6" y="282.6" width="7.0" height="4.0" rx="1.6" fill="#000" opacity="0.90"/>
<rect x="659.8" y="283.6" width="7.0" height="4.0" rx="1.6" fill="#000" opacity="0.03"/>
</g>
</svg>
<rect x="557.50" y="280.10" width="110.80" height="10.60" fill="none" stroke="#1a1a1a" stroke-width="0.5"/>
<text x="555.20" y="288.04" text-anchor="end">VDAC2</text>
<line x1="668.30" y1="287.40" x2="669.80" y2="287.40" stroke="#000" stroke-width="0.5"/>
<text x="673.60" y="289.74">25</text>
<svg x="557.50" y="293.30" width="110.80" height="10.20" viewBox="557.50 293.30 110.80 10.20">
<rect x="557.50" y="293.30" width="110.80" height="10.20" fill="#f3f3f3"/>
<g filter="url(#bl)">
<rect x="558.5" y="296.3" width="7.4" height="3.0" rx="1.5" fill="#000" opacity="0.97"/>
<rect x="567.7" y="296.6" width="7.4" height="3.0" rx="1.5" fill="#000" opacity="0.97"/>
<rect x="576.9" y="296.9" width="7.4" height="3.0" rx="1.5" fill="#000" opacity="0.97"/>
<rect x="586.1" y="297.1" width="7.4" height="3.0" rx="1.5" fill="#000" opacity="0.97"/>
<rect x="595.3" y="297.2" width="7.4" height="3.0" rx="1.5" fill="#000" opacity="0.97"/>
<rect x="604.5" y="297.4" width="7.4" height="3.0" rx="1.5" fill="#000" opacity="0.97"/>
<rect x="613.6" y="297.4" width="7.4" height="3.0" rx="1.5" fill="#000" opacity="0.97"/>
<rect x="622.8" y="297.4" width="7.4" height="3.0" rx="1.5" fill="#000" opacity="0.97"/>
<rect x="632.0" y="297.2" width="7.4" height="3.0" rx="1.5" fill="#000" opacity="0.97"/>
<rect x="641.2" y="296.9" width="7.4" height="3.0" rx="1.5" fill="#000" opacity="0.97"/>
<rect x="650.4" y="296.6" width="7.4" height="3.0" rx="1.5" fill="#000" opacity="0.97"/>
<rect x="659.6" y="296.3" width="7.4" height="3.0" rx="1.5" fill="#000" opacity="0.97"/>
</g>
</svg>
<rect x="557.50" y="293.30" width="110.80" height="10.20" fill="none" stroke="#1a1a1a" stroke-width="0.5"/>
<text x="555.20" y="301.04" text-anchor="end">β-Actin</text>
<line x1="668.30" y1="300.80" x2="669.80" y2="300.80" stroke="#000" stroke-width="0.5"/>
<text x="673.60" y="303.14">37</text>
<text x="0.30" y="280.01" font-weight="bold" style="stroke-width:0.45px" font-size="10.3">k</text>
<circle cx="17.00" cy="286.80" r="1.15" fill="#fff" stroke="#111111" stroke-width="0.7"/>
<text x="22.10" y="289.14">sgNTC + sgNTC</text>
<circle cx="17.00" cy="294.80" r="1.15" fill="#fff" stroke="#1fa680" stroke-width="0.7"/>
<text x="22.10" y="297.14">sg<tspan font-style="italic" font-size="6.3">Vdac2</tspan> + sgNTC</text>
<circle cx="17.00" cy="302.80" r="1.15" fill="#fff" stroke="#e0761c" stroke-width="0.7"/>
<text x="22.10" y="305.14">sgNTC + sg<tspan font-style="italic" font-size="6.3">Cgas</tspan></text>
<circle cx="17.00" cy="310.80" r="1.15" fill="#fff" stroke="#2a5fe0" stroke-width="0.7"/>
<text x="22.10" y="313.14">sg<tspan font-style="italic" font-size="6.3">Vdac2</tspan> + sg<tspan font-style="italic" font-size="6.3">Cgas</tspan></text>
<circle cx="17.00" cy="318.90" r="1.15" fill="#fff" stroke="#e08cc0" stroke-width="0.7"/>
<text x="22.10" y="321.24">sgNTC + sg<tspan font-style="italic" font-size="6.3">Sting1</tspan></text>
<circle cx="17.00" cy="327.10" r="1.15" fill="#fff" stroke="#6cc0f2" stroke-width="0.7"/>
<text x="22.10" y="329.44">sg<tspan font-style="italic" font-size="6.3">Vdac2</tspan> + sg<tspan font-style="italic" font-size="6.3">Sting1</tspan></text>
<line x1="32.90" y1="352.60" x2="32.90" y2="394.30" stroke="#000" stroke-width="0.5"/>
<line x1="30.60" y1="394.30" x2="32.90" y2="394.30" stroke="#000" stroke-width="0.5"/>
<text x="28.50" y="396.64" text-anchor="end">0</text>
<line x1="30.60" y1="380.40" x2="32.90" y2="380.40" stroke="#000" stroke-width="0.5"/>
<text x="28.50" y="382.74" text-anchor="end">20</text>
<line x1="30.60" y1="366.50" x2="32.90" y2="366.50" stroke="#000" stroke-width="0.5"/>
<text x="28.50" y="368.84" text-anchor="end">40</text>
<line x1="30.60" y1="352.60" x2="32.90" y2="352.60" stroke="#000" stroke-width="0.5"/>
<text x="28.50" y="354.94" text-anchor="end">60</text>
<line x1="32.90" y1="394.30" x2="73.40" y2="394.30" stroke="#000" stroke-width="0.5"/>
<rect x="34.50" y="383.88" width="4.40" height="10.43" fill="#fff" stroke="#000" stroke-width="0.5"/>
<circle cx="36.1" cy="383.5" r="0.85" fill="none" stroke="#111111" stroke-width="0.75"/>
<circle cx="37.3" cy="384.2" r="0.85" fill="none" stroke="#111111" stroke-width="0.75"/>
<rect x="41.00" y="358.16" width="4.40" height="36.14" fill="#fff" stroke="#000" stroke-width="0.5"/>
<circle cx="42.6" cy="357.5" r="0.85" fill="none" stroke="#1fa680" stroke-width="0.75"/>
<circle cx="43.9" cy="358.5" r="0.85" fill="none" stroke="#1fa680" stroke-width="0.75"/>
<rect x="47.60" y="391.52" width="4.40" height="2.78" fill="#fff" stroke="#000" stroke-width="0.5"/>
<circle cx="49.1" cy="391.4" r="0.85" fill="none" stroke="#e0761c" stroke-width="0.75"/>
<circle cx="50.5" cy="391.7" r="0.85" fill="none" stroke="#e0761c" stroke-width="0.75"/>
<rect x="54.00" y="390.82" width="4.40" height="3.48" fill="#fff" stroke="#000" stroke-width="0.5"/>
<circle cx="55.5" cy="390.5" r="0.85" fill="none" stroke="#2a5fe0" stroke-width="0.75"/>
<circle cx="56.9" cy="391.0" r="0.85" fill="none" stroke="#2a5fe0" stroke-width="0.75"/>
<rect x="60.50" y="391.52" width="4.40" height="2.78" fill="#fff" stroke="#000" stroke-width="0.5"/>
<circle cx="62.0" cy="391.3" r="0.85" fill="none" stroke="#e08cc0" stroke-width="0.75"/>
<circle cx="63.4" cy="391.6" r="0.85" fill="none" stroke="#e08cc0" stroke-width="0.75"/>
<rect x="66.90" y="390.82" width="4.40" height="3.48" fill="#fff" stroke="#000" stroke-width="0.5"/>
<circle cx="68.4" cy="390.6" r="0.85" fill="none" stroke="#6cc0f2" stroke-width="0.75"/>
<circle cx="69.8" cy="391.0" r="0.85" fill="none" stroke="#6cc0f2" stroke-width="0.75"/>
<line x1="35.20" y1="355.90" x2="45.20" y2="355.90" stroke="#000" stroke-width="0.5"/>
<text x="40.20" y="356.79" text-anchor="middle" font-size="7.2" style="stroke-width:0.3px">***</text>
<line x1="44.70" y1="349.30" x2="57.30" y2="349.30" stroke="#000" stroke-width="0.5"/>
<text x="51.00" y="350.19" text-anchor="middle" font-size="7.2" style="stroke-width:0.3px">***</text>
<line x1="44.70" y1="341.30" x2="69.80" y2="341.30" stroke="#000" stroke-width="0.5"/>
<text x="57.25" y="342.19" text-anchor="middle" font-size="7.2" style="stroke-width:0.3px">***</text>
<line x1="48.20" y1="385.80" x2="57.40" y2="385.80" stroke="#000" stroke-width="0.5"/>
<text x="52.80" y="384.53" text-anchor="middle" font-size="6.2">NS</text>
<line x1="61.00" y1="385.80" x2="70.40" y2="385.80" stroke="#000" stroke-width="0.5"/>
<text x="65.70" y="384.53" text-anchor="middle" font-size="6.2">NS</text>
<text x="53.20" y="402.34" text-anchor="middle">IFNγ 24 h</text>
<text x="3.20" y="375.04" text-anchor="middle" transform="rotate(-90 3.20 372.70)">Relative <tspan font-style="italic" font-size="6.3">Ifnb1</tspan> mRNA</text>
<text x="11.50" y="375.04" text-anchor="middle" transform="rotate(-90 11.50 372.70)">(versus non-treated sgNTC)</text>
<text x="90.80" y="280.01" font-weight="bold" style="stroke-width:0.45px" font-size="10.3">l</text>
<circle cx="92.50" cy="286.80" r="1.15" fill="#fff" stroke="#111111" stroke-width="0.7"/>
<text x="97.50" y="289.14">sgNTC + sgNTC</text>
<circle cx="92.50" cy="294.80" r="1.15" fill="#fff" stroke="#1fa680" stroke-width="0.7"/>
<text x="97.50" y="297.14">sg<tspan font-style="italic" font-size="6.3">Vdac2</tspan> + sgNTC</text>
<circle cx="92.50" cy="302.80" r="1.15" fill="#fff" stroke="#e0761c" stroke-width="0.7"/>
<text x="97.50" y="305.14">sgNTC + sg<tspan font-style="italic" font-size="6.3">Cgas</tspan></text>
<circle cx="92.50" cy="310.80" r="1.15" fill="#fff" stroke="#2a5fe0" stroke-width="0.7"/>
<text x="97.50" y="313.14">sg<tspan font-style="italic" font-size="6.3">Vdac2</tspan> + sg<tspan font-style="italic" font-size="6.3">Cgas</tspan></text>
<circle cx="92.50" cy="318.90" r="1.15" fill="#fff" stroke="#e08cc0" stroke-width="0.7"/>
<text x="97.50" y="321.24">sgNTC + sg<tspan font-style="italic" font-size="6.3">Sting1</tspan></text>
<circle cx="92.50" cy="327.10" r="1.15" fill="#fff" stroke="#6cc0f2" stroke-width="0.7"/>
<text x="97.50" y="329.44">sg<tspan font-style="italic" font-size="6.3">Vdac2</tspan> + sg<tspan font-style="italic" font-size="6.3">Sting1</tspan></text>
<line x1="115.20" y1="351.20" x2="115.20" y2="394.00" stroke="#000" stroke-width="0.5"/>
<line x1="112.90" y1="394.00" x2="115.20" y2="394.00" stroke="#000" stroke-width="0.5"/>
<text x="109.70" y="396.34" text-anchor="end">0</text>
<line x1="112.90" y1="379.73" x2="115.20" y2="379.73" stroke="#000" stroke-width="0.5"/>
<text x="109.70" y="382.07" text-anchor="end">20</text>
<line x1="112.90" y1="365.47" x2="115.20" y2="365.47" stroke="#000" stroke-width="0.5"/>
<text x="109.70" y="367.81" text-anchor="end">40</text>
<line x1="112.90" y1="351.20" x2="115.20" y2="351.20" stroke="#000" stroke-width="0.5"/>
<text x="109.70" y="353.54" text-anchor="end">60</text>
<line x1="115.20" y1="394.00" x2="158.00" y2="394.00" stroke="#000" stroke-width="0.5"/>
<rect x="117.60" y="387.94" width="4.40" height="6.06" fill="#fff" stroke="#000" stroke-width="0.5"/>
<circle cx="119.0" cy="387.2" r="0.85" fill="none" stroke="#111111" stroke-width="0.75"/>
<circle cx="120.4" cy="387.7" r="0.85" fill="none" stroke="#111111" stroke-width="0.75"/>
<circle cx="119.8" cy="388.6" r="0.85" fill="none" stroke="#111111" stroke-width="0.75"/>
<rect x="124.40" y="362.61" width="4.40" height="31.39" fill="#fff" stroke="#000" stroke-width="0.5"/>
<circle cx="126.6" cy="358.3" r="0.85" fill="none" stroke="#1fa680" stroke-width="0.75"/>
<circle cx="126.6" cy="362.6" r="0.85" fill="none" stroke="#1fa680" stroke-width="0.75"/>
<circle cx="126.6" cy="366.9" r="0.85" fill="none" stroke="#1fa680" stroke-width="0.75"/>
<rect x="131.20" y="391.86" width="4.40" height="2.14" fill="#fff" stroke="#000" stroke-width="0.5"/>
<circle cx="132.7" cy="391.6" r="0.85" fill="none" stroke="#e0761c" stroke-width="0.75"/>
<circle cx="134.1" cy="392.0" r="0.85" fill="none" stroke="#e0761c" stroke-width="0.75"/>
<rect x="137.80" y="391.15" width="4.40" height="2.85" fill="#fff" stroke="#000" stroke-width="0.5"/>
<circle cx="139.3" cy="390.7" r="0.85" fill="none" stroke="#2a5fe0" stroke-width="0.75"/>
<circle cx="140.7" cy="391.3" r="0.85" fill="none" stroke="#2a5fe0" stroke-width="0.75"/>
<rect x="144.50" y="392.22" width="4.40" height="1.78" fill="#fff" stroke="#000" stroke-width="0.5"/>
<circle cx="146.0" cy="392.1" r="0.85" fill="none" stroke="#e08cc0" stroke-width="0.75"/>
<circle cx="147.4" cy="392.4" r="0.85" fill="none" stroke="#e08cc0" stroke-width="0.75"/>
<rect x="151.10" y="391.15" width="4.40" height="2.85" fill="#fff" stroke="#000" stroke-width="0.5"/>
<circle cx="152.6" cy="390.9" r="0.85" fill="none" stroke="#6cc0f2" stroke-width="0.75"/>
<circle cx="154.0" cy="391.3" r="0.85" fill="none" stroke="#6cc0f2" stroke-width="0.75"/>
<line x1="126.60" y1="358.33" x2="126.60" y2="366.89" stroke="#000" stroke-width="0.4"/>
<line x1="118.00" y1="354.40" x2="128.60" y2="354.40" stroke="#000" stroke-width="0.5"/>
<text x="123.30" y="355.29" text-anchor="middle" font-size="7.2" style="stroke-width:0.3px">***</text>
<line x1="128.60" y1="347.60" x2="140.70" y2="347.60" stroke="#000" stroke-width="0.5"/>
<text x="134.65" y="348.49" text-anchor="middle" font-size="7.2" style="stroke-width:0.3px">***</text>
<line x1="128.10" y1="339.50" x2="154.50" y2="339.50" stroke="#000" stroke-width="0.5"/>
<text x="141.30" y="340.39" text-anchor="middle" font-size="7.2" style="stroke-width:0.3px">***</text>
<line x1="131.80" y1="386.30" x2="140.80" y2="386.30" stroke="#000" stroke-width="0.5"/>
<text x="136.30" y="385.03" text-anchor="middle" font-size="6.2">NS</text>
<line x1="144.60" y1="386.30" x2="153.80" y2="386.30" stroke="#000" stroke-width="0.5"/>
<text x="149.20" y="385.03" text-anchor="middle" font-size="6.2">NS</text>
<text x="137.00" y="401.94" text-anchor="middle">IFNγ 24 h</text>
<text x="94.80" y="374.74" text-anchor="middle" transform="rotate(-90 94.80 372.40)">IFNβ (pg ml<tspan font-size="4.2" dy="-2.4" style="stroke-width:0.06px">−1</tspan><tspan dy="2.4" font-size="0.1"> </tspan>)</text>
<text x="167.50" y="279.21" font-weight="bold" style="stroke-width:0.45px" font-size="10.3">m</text>
<text x="167.60" y="288.34">B16-OVA + IFNγ 24 h</text>
<rect x="167.00" y="291.40" width="16.04" height="4.20" fill="#000"/>
<rect x="182.99" y="291.40" width="16.04" height="4.20" fill="#15997a"/>
<rect x="198.98" y="291.40" width="16.04" height="4.20" fill="#cc6a14"/>
<rect x="214.97" y="291.40" width="16.04" height="4.20" fill="#1438d8"/>
<rect x="167.00" y="296.40" width="5.63" height="7.37" fill="#c1adf1"/>
<rect x="172.33" y="296.40" width="5.63" height="7.37" fill="#5f41f8"/>
<rect x="177.66" y="296.40" width="5.63" height="7.37" fill="#cab8f2"/>
<rect x="182.99" y="296.40" width="5.63" height="7.37" fill="#ff6a50"/>
<rect x="188.32" y="296.40" width="5.63" height="7.37" fill="#ff4232"/>
<rect x="193.65" y="296.40" width="5.63" height="7.37" fill="#ff4232"/>
<rect x="198.98" y="296.40" width="5.63" height="7.37" fill="#f5d9d6"/>
<rect x="204.31" y="296.40" width="5.63" height="7.37" fill="#f7cec8"/>
<rect x="209.64" y="296.40" width="5.63" height="7.37" fill="#cab8f2"/>
<rect x="214.97" y="296.40" width="5.63" height="7.37" fill="#b198f1"/>
<rect x="220.30" y="296.40" width="5.63" height="7.37" fill="#dacef2"/>
<rect x="225.63" y="296.40" width="5.33" height="7.37" fill="#a88df0"/>
<rect x="167.00" y="303.47" width="5.63" height="7.37" fill="#cab8f2"/>
<rect x="172.33" y="303.47" width="5.63" height="7.37" fill="#b9a2f1"/>
<rect x="177.66" y="303.47" width="5.63" height="7.37" fill="#b198f1"/>
<rect x="182.99" y="303.47" width="5.63" height="7.37" fill="#ff4f3c"/>
<rect x="188.32" y="303.47" width="5.63" height="7.37" fill="#ff5c46"/>
<rect x="193.65" y="303.47" width="5.63" height="7.37" fill="#ff6a50"/>
<rect x="198.98" y="303.47" width="5.63" height="7.37" fill="#8668f3"/>
<rect x="204.31" y="303.47" width="5.63" height="7.37" fill="#8668f3"/>
<rect x="209.64" y="303.47" width="5.63" height="7.37" fill="#8668f3"/>
<rect x="214.97" y="303.47" width="5.63" height="7.37" fill="#f8c4ba"/>
<rect x="220.30" y="303.47" width="5.63" height="7.37" fill="#f9b9ac"/>
<rect x="225.63" y="303.47" width="5.33" height="7.37" fill="#f9b9ac"/>
<rect x="167.00" y="310.54" width="5.63" height="7.37" fill="#e2d8f2"/>
<rect x="172.33" y="310.54" width="5.63" height="7.37" fill="#a88df0"/>
<rect x="177.66" y="310.54" width="5.63" height="7.37" fill="#ebe3f3"/>
<rect x="182.99" y="310.54" width="5.63" height="7.37" fill="#ff6a50"/>
<rect x="188.32" y="310.54" width="5.63" height="7.37" fill="#ff3528"/>
<rect x="193.65" y="310.54" width="5.63" height="7.37" fill="#ff4232"/>
<rect x="198.98" y="310.54" width="5.63" height="7.37" fill="#a88df0"/>
<rect x="204.31" y="310.54" width="5.63" height="7.37" fill="#cab8f2"/>
<rect x="209.64" y="310.54" width="5.63" height="7.37" fill="#b198f1"/>
<rect x="214.97" y="310.54" width="5.63" height="7.37" fill="#a88df0"/>
<rect x="220.30" y="310.54" width="5.63" height="7.37" fill="#dacef2"/>
<rect x="225.63" y="310.54" width="5.33" height="7.37" fill="#dacef2"/>
<rect x="167.00" y="317.61" width="5.63" height="7.37" fill="#cab8f2"/>
<rect x="172.33" y="317.61" width="5.63" height="7.37" fill="#8668f3"/>
<rect x="177.66" y="317.61" width="5.63" height="7.37" fill="#ebe3f3"/>
<rect x="182.99" y="317.61" width="5.63" height="7.37" fill="#ff3528"/>
<rect x="188.32" y="317.61" width="5.63" height="7.37" fill="#ff5c46"/>
<rect x="193.65" y="317.61" width="5.63" height="7.37" fill="#ff4f3c"/>
<rect x="198.98" y="317.61" width="5.63" height="7.37" fill="#cab8f2"/>
<rect x="204.31" y="317.61" width="5.63" height="7.37" fill="#f8c4ba"/>
<rect x="209.64" y="317.61" width="5.63" height="7.37" fill="#c1adf1"/>
<rect x="214.97" y="317.61" width="5.63" height="7.37" fill="#cab8f2"/>
<rect x="220.30" y="317.61" width="5.63" height="7.37" fill="#d2c3f2"/>
<rect x="225.63" y="317.61" width="5.33" height="7.37" fill="#6c4ef6"/>
<rect x="167.00" y="324.68" width="5.63" height="7.37" fill="#6c4ef6"/>
<rect x="172.33" y="324.68" width="5.63" height="7.37" fill="#e2d8f2"/>
<rect x="177.66" y="324.68" width="5.63" height="7.37" fill="#c1adf1"/>
<rect x="182.99" y="324.68" width="5.63" height="7.37" fill="#ff5c46"/>
<rect x="188.32" y="324.68" width="5.63" height="7.37" fill="#ff281e"/>
<rect x="193.65" y="324.68" width="5.63" height="7.37" fill="#ff6a50"/>
<rect x="198.98" y="324.68" width="5.63" height="7.37" fill="#b9a2f1"/>
<rect x="204.31" y="324.68" width="5.63" height="7.37" fill="#b9a2f1"/>
<rect x="209.64" y="324.68" width="5.63" height="7.37" fill="#b198f1"/>
<rect x="214.97" y="324.68" width="5.63" height="7.37" fill="#a88df0"/>
<rect x="220.30" y="324.68" width="5.63" height="7.37" fill="#e2d8f2"/>
<rect x="225.63" y="324.68" width="5.33" height="7.37" fill="#e2d8f2"/>
<rect x="167.00" y="331.75" width="5.63" height="7.37" fill="#5234f9"/>
<rect x="172.33" y="331.75" width="5.63" height="7.37" fill="#dacef2"/>
<rect x="177.66" y="331.75" width="5.63" height="7.37" fill="#b198f1"/>
<rect x="182.99" y="331.75" width="5.63" height="7.37" fill="#ff8464"/>
<rect x="188.32" y="331.75" width="5.63" height="7.37" fill="#ff6a50"/>
<rect x="193.65" y="331.75" width="5.63" height="7.37" fill="#ff775a"/>
<rect x="198.98" y="331.75" width="5.63" height="7.37" fill="#b198f1"/>
<rect x="204.31" y="331.75" width="5.63" height="7.37" fill="#fba48f"/>
<rect x="209.64" y="331.75" width="5.63" height="7.37" fill="#fba48f"/>
<rect x="214.97" y="331.75" width="5.63" height="7.37" fill="#6c4ef6"/>
<rect x="220.30" y="331.75" width="5.63" height="7.37" fill="#ebe3f3"/>
<rect x="225.63" y="331.75" width="5.33" height="7.37" fill="#dacef2"/>
<rect x="167.00" y="338.82" width="5.63" height="7.37" fill="#e2d8f2"/>
<rect x="172.33" y="338.82" width="5.63" height="7.37" fill="#b9a2f1"/>
<rect x="177.66" y="338.82" width="5.63" height="7.37" fill="#b9a2f1"/>
<rect x="182.99" y="338.82" width="5.63" height="7.37" fill="#ff4232"/>
<rect x="188.32" y="338.82" width="5.63" height="7.37" fill="#ff5c46"/>
<rect x="193.65" y="338.82" width="5.63" height="7.37" fill="#ff0d0a"/>
<rect x="198.98" y="338.82" width="5.63" height="7.37" fill="#b198f1"/>
<rect x="204.31" y="338.82" width="5.63" height="7.37" fill="#d2c3f2"/>
<rect x="209.64" y="338.82" width="5.63" height="7.37" fill="#b9a2f1"/>
<rect x="214.97" y="338.82" width="5.63" height="7.37" fill="#b9a2f1"/>
<rect x="220.30" y="338.82" width="5.63" height="7.37" fill="#b9a2f1"/>
<rect x="225.63" y="338.82" width="5.33" height="7.37" fill="#dacef2"/>
<rect x="167.00" y="345.89" width="5.63" height="7.37" fill="#f7cec8"/>
<rect x="172.33" y="345.89" width="5.63" height="7.37" fill="#8668f3"/>
<rect x="177.66" y="345.89" width="5.63" height="7.37" fill="#c1adf1"/>
<rect x="182.99" y="345.89" width="5.63" height="7.37" fill="#ff0000"/>
<rect x="188.32" y="345.89" width="5.63" height="7.37" fill="#f5d9d6"/>
<rect x="193.65" y="345.89" width="5.63" height="7.37" fill="#ff3528"/>
<rect x="198.98" y="345.89" width="5.63" height="7.37" fill="#b9a2f1"/>
<rect x="204.31" y="345.89" width="5.63" height="7.37" fill="#b9a2f1"/>
<rect x="209.64" y="345.89" width="5.63" height="7.37" fill="#9375f2"/>
<rect x="214.97" y="345.89" width="5.63" height="7.37" fill="#f9b9ac"/>
<rect x="220.30" y="345.89" width="5.63" height="7.37" fill="#f9b9ac"/>
<rect x="225.63" y="345.89" width="5.33" height="7.37" fill="#e2d8f2"/>
<rect x="167.00" y="352.96" width="5.63" height="7.37" fill="#dacef2"/>
<rect x="172.33" y="352.96" width="5.63" height="7.37" fill="#ebe3f3"/>
<rect x="177.66" y="352.96" width="5.63" height="7.37" fill="#e2d8f2"/>
<rect x="182.99" y="352.96" width="5.63" height="7.37" fill="#ff4232"/>
<rect x="188.32" y="352.96" width="5.63" height="7.37" fill="#ff4f3c"/>
<rect x="193.65" y="352.96" width="5.63" height="7.37" fill="#ff4f3c"/>
<rect x="198.98" y="352.96" width="5.63" height="7.37" fill="#9375f2"/>
<rect x="204.31" y="352.96" width="5.63" height="7.37" fill="#9375f2"/>
<rect x="209.64" y="352.96" width="5.63" height="7.37" fill="#8668f3"/>
<rect x="214.97" y="352.96" width="5.63" height="7.37" fill="#dacef2"/>
<rect x="220.30" y="352.96" width="5.63" height="7.37" fill="#e2d8f2"/>
<rect x="225.63" y="352.96" width="5.33" height="7.37" fill="#dacef2"/>
<rect x="167.00" y="360.03" width="5.63" height="7.37" fill="#b9a2f1"/>
<rect x="172.33" y="360.03" width="5.63" height="7.37" fill="#8668f3"/>
<rect x="177.66" y="360.03" width="5.63" height="7.37" fill="#dacef2"/>
<rect x="182.99" y="360.03" width="5.63" height="7.37" fill="#ff5c46"/>
<rect x="188.32" y="360.03" width="5.63" height="7.37" fill="#ff3528"/>
<rect x="193.65" y="360.03" width="5.63" height="7.37" fill="#ff4f3c"/>
<rect x="198.98" y="360.03" width="5.63" height="7.37" fill="#b198f1"/>
<rect x="204.31" y="360.03" width="5.63" height="7.37" fill="#c1adf1"/>
<rect x="209.64" y="360.03" width="5.63" height="7.37" fill="#a88df0"/>
<rect x="214.97" y="360.03" width="5.63" height="7.37" fill="#f7cec8"/>
<rect x="220.30" y="360.03" width="5.63" height="7.37" fill="#e2d8f2"/>
<rect x="225.63" y="360.03" width="5.33" height="7.37" fill="#cab8f2"/>
<rect x="167.00" y="367.10" width="5.63" height="7.37" fill="#a082f0"/>
<rect x="172.33" y="367.10" width="5.63" height="7.37" fill="#cab8f2"/>
<rect x="177.66" y="367.10" width="5.63" height="7.37" fill="#c1adf1"/>
<rect x="182.99" y="367.10" width="5.63" height="7.37" fill="#ff4f3c"/>
<rect x="188.32" y="367.10" width="5.63" height="7.37" fill="#ff4232"/>
<rect x="193.65" y="367.10" width="5.63" height="7.37" fill="#ff4f3c"/>
<rect x="198.98" y="367.10" width="5.63" height="7.37" fill="#a88df0"/>
<rect x="204.31" y="367.10" width="5.63" height="7.37" fill="#b198f1"/>
<rect x="209.64" y="367.10" width="5.63" height="7.37" fill="#795bf4"/>
<rect x="214.97" y="367.10" width="5.63" height="7.37" fill="#ebe3f3"/>
<rect x="220.30" y="367.10" width="5.63" height="7.37" fill="#dacef2"/>
<rect x="225.63" y="367.10" width="5.33" height="7.37" fill="#d2c3f2"/>
<rect x="167.00" y="374.17" width="5.63" height="7.37" fill="#b198f1"/>
<rect x="172.33" y="374.17" width="5.63" height="7.37" fill="#b9a2f1"/>
<rect x="177.66" y="374.17" width="5.63" height="7.37" fill="#c1adf1"/>
<rect x="182.99" y="374.17" width="5.63" height="7.37" fill="#ff4232"/>
<rect x="188.32" y="374.17" width="5.63" height="7.37" fill="#ff4232"/>
<rect x="193.65" y="374.17" width="5.63" height="7.37" fill="#ff4232"/>
<rect x="198.98" y="374.17" width="5.63" height="7.37" fill="#a88df0"/>
<rect x="204.31" y="374.17" width="5.63" height="7.37" fill="#a88df0"/>
<rect x="209.64" y="374.17" width="5.63" height="7.37" fill="#a082f0"/>
<rect x="214.97" y="374.17" width="5.63" height="7.37" fill="#dacef2"/>
<rect x="220.30" y="374.17" width="5.63" height="7.37" fill="#d2c3f2"/>
<rect x="225.63" y="374.17" width="5.33" height="7.37" fill="#cab8f2"/>
<rect x="167.00" y="381.24" width="5.63" height="7.37" fill="#cab8f2"/>
<rect x="172.33" y="381.24" width="5.63" height="7.37" fill="#795bf4"/>
<rect x="177.66" y="381.24" width="5.63" height="7.37" fill="#cab8f2"/>
<rect x="182.99" y="381.24" width="5.63" height="7.37" fill="#ff4232"/>
<rect x="188.32" y="381.24" width="5.63" height="7.37" fill="#ff4232"/>
<rect x="193.65" y="381.24" width="5.63" height="7.37" fill="#ff3528"/>
<rect x="198.98" y="381.24" width="5.63" height="7.37" fill="#b198f1"/>
<rect x="204.31" y="381.24" width="5.63" height="7.37" fill="#dacef2"/>
<rect x="209.64" y="381.24" width="5.63" height="7.37" fill="#e2d8f2"/>
<rect x="214.97" y="381.24" width="5.63" height="7.37" fill="#b9a2f1"/>
<rect x="220.30" y="381.24" width="5.63" height="7.37" fill="#a082f0"/>
<rect x="225.63" y="381.24" width="5.33" height="7.37" fill="#dacef2"/>
<rect x="167.00" y="388.31" width="5.63" height="7.37" fill="#b9a2f1"/>
<rect x="172.33" y="388.31" width="5.63" height="7.37" fill="#a082f0"/>
<rect x="177.66" y="388.31" width="5.63" height="7.37" fill="#c1adf1"/>
<rect x="182.99" y="388.31" width="5.63" height="7.37" fill="#ff5c46"/>
<rect x="188.32" y="388.31" width="5.63" height="7.37" fill="#ff6a50"/>
<rect x="193.65" y="388.31" width="5.63" height="7.37" fill="#ff0000"/>
<rect x="198.98" y="388.31" width="5.63" height="7.37" fill="#a082f0"/>
<rect x="204.31" y="388.31" width="5.63" height="7.37" fill="#cab8f2"/>
<rect x="209.64" y="388.31" width="5.63" height="7.37" fill="#dacef2"/>
<rect x="214.97" y="388.31" width="5.63" height="7.37" fill="#f5d9d6"/>
<rect x="220.30" y="388.31" width="5.63" height="7.37" fill="#dacef2"/>
<rect x="225.63" y="388.31" width="5.33" height="7.37" fill="#c1adf1"/>
<rect x="167.00" y="395.38" width="5.63" height="7.07" fill="#a082f0"/>
<rect x="172.33" y="395.38" width="5.63" height="7.07" fill="#9375f2"/>
<rect x="177.66" y="395.38" width="5.63" height="7.07" fill="#c1adf1"/>
<rect x="182.99" y="395.38" width="5.63" height="7.07" fill="#ff4f3c"/>
<rect x="188.32" y="395.38" width="5.63" height="7.07" fill="#ff4f3c"/>
<rect x="193.65" y="395.38" width="5.63" height="7.07" fill="#ff3528"/>
<rect x="198.98" y="395.38" width="5.63" height="7.07" fill="#b198f1"/>
<rect x="204.31" y="395.38" width="5.63" height="7.07" fill="#a082f0"/>
<rect x="209.64" y="395.38" width="5.63" height="7.07" fill="#dacef2"/>
<rect x="214.97" y="395.38" width="5.63" height="7.07" fill="#d2c3f2"/>
<rect x="220.30" y="395.38" width="5.63" height="7.07" fill="#ebe3f3"/>
<rect x="225.63" y="395.38" width="5.33" height="7.07" fill="#f9b9ac"/>
<text x="234.70" y="302.17" font-style="italic" font-size="6.3">Pla2g4a</text>
<text x="234.70" y="309.30" font-style="italic" font-size="6.3">Procr</text>
<text x="234.70" y="316.43" font-style="italic" font-size="6.3">Il6</text>
<text x="234.70" y="323.56" font-style="italic" font-size="6.3">Irf7</text>
<text x="234.70" y="330.69" font-style="italic" font-size="6.3">Casp4</text>
<text x="234.70" y="337.82" font-style="italic" font-size="6.3">Lysmd2</text>
<text x="234.70" y="344.95" font-style="italic" font-size="6.3">Ccrl2</text>
<text x="234.70" y="352.08" font-style="italic" font-size="6.3">Upp1</text>
<text x="234.70" y="359.21" font-style="italic" font-size="6.3">Ccl5</text>
<text x="234.70" y="366.34" font-style="italic" font-size="6.3">Nfkbia</text>
<text x="234.70" y="373.47" font-style="italic" font-size="6.3">Irf9</text>
<text x="234.70" y="380.60" font-style="italic" font-size="6.3">Mx2</text>
<text x="234.70" y="387.73" font-style="italic" font-size="6.3">Mx1</text>
<text x="234.70" y="394.86" font-style="italic" font-size="6.3">Trim26</text>
<text x="234.70" y="401.99" font-style="italic" font-size="6.3">Fas</text>
<rect x="268.50" y="284.80" width="3.40" height="1.50" fill="#000"/>
<text x="275.00" y="287.84">sgNTC + sgNTC</text>
<rect x="268.50" y="292.60" width="3.40" height="1.50" fill="#15997a"/>
<text x="275.00" y="295.64">sg<tspan font-style="italic" font-size="6.3">Vdac2</tspan> + sgNTC</text>
<rect x="268.50" y="300.40" width="3.40" height="1.50" fill="#cc6a14"/>
<text x="275.00" y="303.44">sgNTC + sg<tspan font-style="italic" font-size="6.3">Sting1</tspan></text>
<rect x="268.50" y="308.20" width="3.40" height="1.50" fill="#1438d8"/>
<text x="275.00" y="311.24">sg<tspan font-style="italic" font-size="6.3">Vdac2</tspan> + sg<tspan font-style="italic" font-size="6.3">Sting1</tspan></text>
<text x="260.20" y="354.14">Row</text>
<text x="259.00" y="360.54"><tspan font-style="italic" font-size="6.3">z</tspan> score</text>
<linearGradient id="zg" x1="0" y1="0" x2="0" y2="1"><stop offset="0" stop-color="#ff0000"/><stop offset="0.25" stop-color="#ff8464"/><stop offset="0.5" stop-color="#f3eef3"/><stop offset="0.75" stop-color="#a082f0"/><stop offset="1" stop-color="#1e00ff"/></linearGradient>
<rect x="260.90" y="363.60" width="7.60" height="39.40" fill="url(#zg)"/>
<line x1="268.50" y1="365.90" x2="270.00" y2="365.90" stroke="#000" stroke-width="0.4"/>
<text x="271.60" y="368.24">2</text>
<line x1="268.50" y1="374.90" x2="270.00" y2="374.90" stroke="#000" stroke-width="0.4"/>
<text x="271.60" y="377.24">1</text>
<line x1="268.50" y1="383.70" x2="270.00" y2="383.70" stroke="#000" stroke-width="0.4"/>
<text x="271.60" y="386.04">0</text>
<line x1="268.50" y1="392.70" x2="270.00" y2="392.70" stroke="#000" stroke-width="0.4"/>
<text x="271.60" y="395.04">−1</text>
<line x1="268.50" y1="401.60" x2="270.00" y2="401.60" stroke="#000" stroke-width="0.4"/>
<text x="271.60" y="403.94">−2</text>
<text x="291.00" y="328.71" font-weight="bold" style="stroke-width:0.45px" font-size="10.3">n</text>
<line x1="314.60" y1="350.70" x2="314.60" y2="397.50" stroke="#000" stroke-width="0.5"/>
<line x1="312.30" y1="397.50" x2="314.60" y2="397.50" stroke="#000" stroke-width="0.5"/>
<text x="309.10" y="399.84" text-anchor="end">0</text>
<line x1="312.30" y1="385.80" x2="314.60" y2="385.80" stroke="#000" stroke-width="0.5"/>
<text x="309.10" y="388.14" text-anchor="end">5</text>
<line x1="312.30" y1="374.10" x2="314.60" y2="374.10" stroke="#000" stroke-width="0.5"/>
<text x="309.10" y="376.44" text-anchor="end">10</text>
<line x1="312.30" y1="362.40" x2="314.60" y2="362.40" stroke="#000" stroke-width="0.5"/>
<text x="309.10" y="364.74" text-anchor="end">15</text>
<line x1="312.30" y1="350.70" x2="314.60" y2="350.70" stroke="#000" stroke-width="0.5"/>
<text x="309.10" y="353.04" text-anchor="end">20</text>
<line x1="314.60" y1="397.50" x2="361.50" y2="397.50" stroke="#000" stroke-width="0.5"/>
<line x1="319.40" y1="397.50" x2="319.40" y2="399.50" stroke="#000" stroke-width="0.5"/>
<text x="319.40" y="408.54" text-anchor="middle">7</text>
<line x1="332.10" y1="397.50" x2="332.10" y2="399.50" stroke="#000" stroke-width="0.5"/>
<text x="332.10" y="408.54" text-anchor="middle">11</text>
<line x1="344.80" y1="397.50" x2="344.80" y2="399.50" stroke="#000" stroke-width="0.5"/>
<text x="344.80" y="408.54" text-anchor="middle">15</text>
<line x1="357.50" y1="397.50" x2="357.50" y2="399.50" stroke="#000" stroke-width="0.5"/>
<text x="357.50" y="408.54" text-anchor="middle">19</text>
<path d="M319.4 395.6 L325.8 393.8 L332.1 390.9 L338.4 387.0 L344.8 381.6 L351.1 374.1 L357.5 364.7" fill="none" stroke="#111" stroke-width="1.0"/>
<line x1="338.45" y1="386.67" x2="338.45" y2="387.27" stroke="#111" stroke-width="0.5"/>
<line x1="344.80" y1="381.09" x2="344.80" y2="382.09" stroke="#111" stroke-width="0.5"/>
<line x1="351.15" y1="373.30" x2="351.15" y2="374.90" stroke="#111" stroke-width="0.5"/>
<line x1="357.50" y1="363.54" x2="357.50" y2="365.94" stroke="#111" stroke-width="0.5"/>
<path d="M319.4 395.6h0M325.8 393.8h0M332.1 390.9h0M338.4 387.0h0M344.8 381.6h0M351.1 374.1h0M357.5 364.7h0" stroke="#111" stroke-width="2.7" stroke-linecap="round" fill="none"/>
<path d="M319.4 395.9 L325.8 395.2 L332.1 394.2 L338.4 393.1 L344.8 391.9 L351.1 390.2 L357.5 387.7" fill="none" stroke="#1fa680" stroke-width="1.0"/>
<line x1="344.80" y1="391.68" x2="344.80" y2="392.08" stroke="#1fa680" stroke-width="0.5"/>
<line x1="351.15" y1="389.95" x2="351.15" y2="390.55" stroke="#1fa680" stroke-width="0.5"/>
<line x1="357.50" y1="387.17" x2="357.50" y2="388.17" stroke="#1fa680" stroke-width="0.5"/>
<path d="M319.4 395.9h0M325.8 395.2h0M332.1 394.2h0M338.4 393.1h0M344.8 391.9h0M351.1 390.2h0M357.5 387.7h0" stroke="#1fa680" stroke-width="2.7" stroke-linecap="round" fill="none"/>
<path d="M319.4 395.4 L325.8 393.5 L332.1 390.7 L338.4 387.2 L344.8 382.3 L351.1 376.4 L357.5 367.1" fill="none" stroke="#e0761c" stroke-width="1.0"/>
<line x1="338.45" y1="386.90" x2="338.45" y2="387.50" stroke="#e0761c" stroke-width="0.5"/>
<line x1="344.80" y1="381.79" x2="344.80" y2="382.79" stroke="#e0761c" stroke-width="0.5"/>
<line x1="351.15" y1="375.64" x2="351.15" y2="377.24" stroke="#e0761c" stroke-width="0.5"/>
<line x1="357.50" y1="365.98" x2="357.50" y2="368.18" stroke="#e0761c" stroke-width="0.5"/>
<path d="M319.4 395.4h0M325.8 393.5h0M332.1 390.7h0M338.4 387.2h0M344.8 382.3h0M351.1 376.4h0M357.5 367.1h0" stroke="#e0761c" stroke-width="2.7" stroke-linecap="round" fill="none"/>
<path d="M319.4 395.6 L325.8 394.2 L332.1 392.1 L338.4 389.5 L344.8 386.7 L351.1 382.8 L357.5 377.1" fill="none" stroke="#2a5fe0" stroke-width="1.0"/>
<line x1="338.45" y1="389.24" x2="338.45" y2="389.84" stroke="#2a5fe0" stroke-width="0.5"/>
<line x1="344.80" y1="386.24" x2="344.80" y2="387.24" stroke="#2a5fe0" stroke-width="0.5"/>
<line x1="351.15" y1="381.96" x2="351.15" y2="383.56" stroke="#2a5fe0" stroke-width="0.5"/>
<line x1="357.50" y1="375.94" x2="357.50" y2="378.34" stroke="#2a5fe0" stroke-width="0.5"/>
<path d="M319.4 395.6h0M325.8 394.2h0M332.1 392.1h0M338.4 389.5h0M344.8 386.7h0M351.1 382.8h0M357.5 377.1h0" stroke="#2a5fe0" stroke-width="2.7" stroke-linecap="round" fill="none"/>
<line x1="318.10" y1="330.00" x2="324.50" y2="330.00" stroke="#111" stroke-width="0.8"/>
<circle cx="321.30" cy="330.00" r="1.35" fill="#111"/>
<text x="327.30" y="332.34">sgNTC + sgNTC (<tspan font-style="italic" font-size="6.3">n</tspan> = 8)</text>
<line x1="318.10" y1="338.00" x2="324.50" y2="338.00" stroke="#1fa680" stroke-width="0.8"/>
<circle cx="321.30" cy="338.00" r="1.35" fill="#1fa680"/>
<text x="327.30" y="340.34">sg<tspan font-style="italic" font-size="6.3">Vdac2</tspan> + sgNTC (<tspan font-style="italic" font-size="6.3">n</tspan> = 9)</text>
<line x1="318.10" y1="346.50" x2="324.50" y2="346.50" stroke="#e0761c" stroke-width="0.8"/>
<circle cx="321.30" cy="346.50" r="1.35" fill="#e0761c"/>
<text x="327.30" y="348.84">sgNTC + sg<tspan font-style="italic" font-size="6.3">Sting1</tspan> (<tspan font-style="italic" font-size="6.3">n</tspan> = 7)</text>
<line x1="318.10" y1="354.90" x2="324.50" y2="354.90" stroke="#2a5fe0" stroke-width="0.8"/>
<circle cx="321.30" cy="354.90" r="1.35" fill="#2a5fe0"/>
<text x="327.30" y="357.24">sg<tspan font-style="italic" font-size="6.3">Vdac2</tspan> + sg<tspan font-style="italic" font-size="6.3">Sting1</tspan> (<tspan font-style="italic" font-size="6.3">n</tspan> = 9)</text>
<text x="293.70" y="376.34" text-anchor="middle" transform="rotate(-90 293.70 374.00)">Tumour size (×10<tspan font-size="4.2" dy="-2.4" style="stroke-width:0.06px">2</tspan><tspan dy="2.4" font-size="0.1"> </tspan> mm<tspan font-size="4.2" dy="-2.4" style="stroke-width:0.06px">3</tspan><tspan dy="2.4" font-size="0.1"> </tspan>)</text>
<text x="337.50" y="417.94" text-anchor="middle">Days after inoculation</text>
<line x1="403.70" y1="327.90" x2="403.70" y2="336.30" stroke="#777" stroke-width="0.6"/>
<text x="405.90" y="334.59" text-anchor="middle" font-size="7.2" transform="rotate(90 405.90 332.00)">***</text>
<line x1="408.70" y1="327.90" x2="408.70" y2="352.00" stroke="#777" stroke-width="0.6"/>
<text x="410.90" y="348.09" text-anchor="middle" font-size="7.2" transform="rotate(90 410.90 345.50)">***</text>
<line x1="413.50" y1="329.70" x2="413.50" y2="356.00" stroke="#777" stroke-width="0.6"/>
<text x="415.70" y="344.09" text-anchor="middle" font-size="7.2" transform="rotate(90 415.70 341.50)">***</text>
<line x1="462.60" y1="350.70" x2="462.60" y2="397.50" stroke="#000" stroke-width="0.5"/>
<line x1="460.30" y1="397.50" x2="462.60" y2="397.50" stroke="#000" stroke-width="0.5"/>
<text x="457.10" y="399.84" text-anchor="end">0</text>
<line x1="460.30" y1="385.80" x2="462.60" y2="385.80" stroke="#000" stroke-width="0.5"/>
<text x="457.10" y="388.14" text-anchor="end">5</text>
<line x1="460.30" y1="374.10" x2="462.60" y2="374.10" stroke="#000" stroke-width="0.5"/>
<text x="457.10" y="376.44" text-anchor="end">10</text>
<line x1="460.30" y1="362.40" x2="462.60" y2="362.40" stroke="#000" stroke-width="0.5"/>
<text x="457.10" y="364.74" text-anchor="end">15</text>
<line x1="460.30" y1="350.70" x2="462.60" y2="350.70" stroke="#000" stroke-width="0.5"/>
<text x="457.10" y="353.04" text-anchor="end">20</text>
<line x1="462.60" y1="397.50" x2="508.80" y2="397.50" stroke="#000" stroke-width="0.5"/>
<line x1="466.50" y1="397.50" x2="466.50" y2="399.50" stroke="#000" stroke-width="0.5"/>
<text x="466.50" y="408.54" text-anchor="middle">7</text>
<line x1="479.30" y1="397.50" x2="479.30" y2="399.50" stroke="#000" stroke-width="0.5"/>
<text x="479.30" y="408.54" text-anchor="middle">11</text>
<line x1="492.10" y1="397.50" x2="492.10" y2="399.50" stroke="#000" stroke-width="0.5"/>
<text x="492.10" y="408.54" text-anchor="middle">15</text>
<line x1="504.80" y1="397.50" x2="504.80" y2="399.50" stroke="#000" stroke-width="0.5"/>
<text x="504.80" y="408.54" text-anchor="middle">19</text>
<path d="M466.5 395.6 L472.9 393.8 L479.3 390.9 L485.6 387.0 L492.0 381.6 L498.4 374.1 L504.8 364.7" fill="none" stroke="#111" stroke-width="1.0"/>
<line x1="485.65" y1="386.67" x2="485.65" y2="387.27" stroke="#111" stroke-width="0.5"/>
<line x1="492.03" y1="381.09" x2="492.03" y2="382.09" stroke="#111" stroke-width="0.5"/>
<line x1="498.42" y1="373.30" x2="498.42" y2="374.90" stroke="#111" stroke-width="0.5"/>
<line x1="504.80" y1="363.54" x2="504.80" y2="365.94" stroke="#111" stroke-width="0.5"/>
<path d="M466.5 395.6h0M472.9 393.8h0M479.3 390.9h0M485.6 387.0h0M492.0 381.6h0M498.4 374.1h0M504.8 364.7h0" stroke="#111" stroke-width="2.7" stroke-linecap="round" fill="none"/>
<path d="M466.5 395.9 L472.9 395.2 L479.3 394.2 L485.6 393.1 L492.0 391.9 L498.4 390.2 L504.8 387.7" fill="none" stroke="#1fa680" stroke-width="1.0"/>
<line x1="492.03" y1="391.68" x2="492.03" y2="392.08" stroke="#1fa680" stroke-width="0.5"/>
<line x1="498.42" y1="389.95" x2="498.42" y2="390.55" stroke="#1fa680" stroke-width="0.5"/>
<line x1="504.80" y1="387.17" x2="504.80" y2="388.17" stroke="#1fa680" stroke-width="0.5"/>
<path d="M466.5 395.9h0M472.9 395.2h0M479.3 394.2h0M485.6 393.1h0M492.0 391.9h0M498.4 390.2h0M504.8 387.7h0" stroke="#1fa680" stroke-width="2.7" stroke-linecap="round" fill="none"/>
<path d="M466.5 395.6 L472.9 393.8 L479.3 391.2 L485.6 388.1 L492.0 383.9 L498.4 378.1 L504.8 369.9" fill="none" stroke="#e08cc0" stroke-width="1.0"/>
<line x1="485.65" y1="387.84" x2="485.65" y2="388.44" stroke="#e08cc0" stroke-width="0.5"/>
<line x1="492.03" y1="383.43" x2="492.03" y2="384.43" stroke="#e08cc0" stroke-width="0.5"/>
<line x1="498.42" y1="377.18" x2="498.42" y2="378.98" stroke="#e08cc0" stroke-width="0.5"/>
<line x1="504.80" y1="368.29" x2="504.80" y2="371.49" stroke="#e08cc0" stroke-width="0.5"/>
<path d="M466.5 395.6h0M472.9 393.8h0M479.3 391.2h0M485.6 388.1h0M492.0 383.9h0M498.4 378.1h0M504.8 369.9h0" stroke="#e08cc0" stroke-width="2.7" stroke-linecap="round" fill="none"/>
<path d="M466.5 395.6 L472.9 394.0 L479.3 391.9 L485.6 389.1 L492.0 385.3 L498.4 380.7 L504.8 374.6" fill="none" stroke="#6cc0f2" stroke-width="1.0"/>
<line x1="485.65" y1="388.78" x2="485.65" y2="389.38" stroke="#6cc0f2" stroke-width="0.5"/>
<line x1="492.03" y1="384.83" x2="492.03" y2="385.83" stroke="#6cc0f2" stroke-width="0.5"/>
<line x1="498.42" y1="379.75" x2="498.42" y2="381.55" stroke="#6cc0f2" stroke-width="0.5"/>
<line x1="504.80" y1="373.07" x2="504.80" y2="376.07" stroke="#6cc0f2" stroke-width="0.5"/>
<path d="M466.5 395.6h0M472.9 394.0h0M479.3 391.9h0M485.6 389.1h0M492.0 385.3h0M498.4 380.7h0M504.8 374.6h0" stroke="#6cc0f2" stroke-width="2.7" stroke-linecap="round" fill="none"/>
<line x1="465.00" y1="330.00" x2="471.40" y2="330.00" stroke="#111" stroke-width="0.8"/>
<circle cx="468.20" cy="330.00" r="1.35" fill="#111"/>
<text x="473.30" y="332.34">sgNTC + sgNTC (<tspan font-style="italic" font-size="6.3">n</tspan> = 8)</text>
<line x1="465.00" y1="338.00" x2="471.40" y2="338.00" stroke="#1fa680" stroke-width="0.8"/>
<circle cx="468.20" cy="338.00" r="1.35" fill="#1fa680"/>
<text x="473.30" y="340.34">sg<tspan font-style="italic" font-size="6.3">Vdac2</tspan> + sgNTC (<tspan font-style="italic" font-size="6.3">n</tspan> = 9)</text>
<line x1="465.00" y1="346.50" x2="471.40" y2="346.50" stroke="#e08cc0" stroke-width="0.8"/>
<circle cx="468.20" cy="346.50" r="1.35" fill="#e08cc0"/>
<text x="473.30" y="348.84">sgNTC + sg<tspan font-style="italic" font-size="6.3">Irf3</tspan> (<tspan font-style="italic" font-size="6.3">n</tspan> = 8)</text>
<line x1="465.00" y1="354.90" x2="471.40" y2="354.90" stroke="#6cc0f2" stroke-width="0.8"/>
<circle cx="468.20" cy="354.90" r="1.35" fill="#6cc0f2"/>
<text x="473.30" y="357.24">sg<tspan font-style="italic" font-size="6.3">Vdac2</tspan> + sg<tspan font-style="italic" font-size="6.3">Irf3</tspan> (<tspan font-style="italic" font-size="6.3">n</tspan> = 9)</text>
<text x="440.50" y="376.34" text-anchor="middle" transform="rotate(-90 440.50 374.00)">Tumour size (×10<tspan font-size="4.2" dy="-2.4" style="stroke-width:0.06px">2</tspan><tspan dy="2.4" font-size="0.1"> </tspan> mm<tspan font-size="4.2" dy="-2.4" style="stroke-width:0.06px">3</tspan><tspan dy="2.4" font-size="0.1"> </tspan>)</text>
<text x="485.60" y="417.94" text-anchor="middle">Days after inoculation</text>
<line x1="548.00" y1="327.90" x2="548.00" y2="336.30" stroke="#777" stroke-width="0.6"/>
<text x="550.20" y="334.59" text-anchor="middle" font-size="7.2" transform="rotate(90 550.20 332.00)">***</text>
<line x1="552.70" y1="327.90" x2="552.70" y2="354.00" stroke="#777" stroke-width="0.6"/>
<text x="554.90" y="348.59" text-anchor="middle" font-size="7.2" transform="rotate(90 554.90 346.00)">***</text>
<line x1="558.50" y1="328.00" x2="558.50" y2="356.00" stroke="#777" stroke-width="0.6"/>
<text x="560.70" y="344.09" text-anchor="middle" font-size="7.2" transform="rotate(90 560.70 341.50)">*</text>
<text x="-0.50" y="443.91" font-weight="bold" style="stroke-width:0.45px" font-size="10.3">o</text>
<text x="61.70" y="442.74" text-anchor="middle">+IFNγ 24 h</text>
<line x1="19.00" y1="446.40" x2="108.00" y2="446.40" stroke="#555" stroke-width="0.5"/>
<text x="21.00" y="453.74">sgNTC</text>
<text x="79.00" y="453.74">sg<tspan font-style="italic" font-size="6.3">Vdac2</tspan></text>
<svg x="0.00" y="456.50" width="61.00" height="60.00" viewBox="0.00 456.50 61.00 60.00">
<rect x="0.00" y="456.50" width="61.00" height="60.00" fill="#000"/>
<g filter="url(#mb2)">
<ellipse cx="25" cy="488" rx="17" ry="15" fill="#2a7a0c" opacity="0.6"/>
<ellipse cx="44" cy="486" rx="9" ry="8" fill="#2a7a0c" opacity="0.4"/>
</g>
<g filter="url(#mb)">
<path d="M43.6 471.9L45.4 470.9M1.4 513.2L3.3 514.5M39.6 484.8L40.7 486.3M10.2 473.2L9.8 474.9M55.7 504.8L53.9 506.0M28.3 459.8L27.8 459.3M41.8 496.8L41.8 497.5M45.1 485.7L43.9 485.0M6.0 510.6L5.2 512.2M12.7 460.4L13.5 461.1M58.5 489.0L60.9 488.8M24.6 515.8L24.9 514.3M30.7 509.6L31.9 508.1M59.5 503.8L61.5 505.0M52.6 463.1L52.1 463.9M44.8 479.3L45.1 480.0M47.2 479.3L45.6 477.8M3.2 488.5L2.7 487.2M4.0 483.2L3.3 483.5M57.6 502.7L58.2 500.4M6.1 457.6L5.4 457.2M51.6 511.5L51.3 510.0M55.1 460.0L54.0 460.8M16.5 466.1L14.5 465.9M44.3 490.7L46.2 490.1M45.5 490.9L44.9 491.0M56.5 502.3L55.6 504.4M9.6 465.1L9.1 467.3M45.7 485.3L44.5 485.8M24.5 515.8L25.2 514.0M48.9 508.6L50.1 509.7M59.5 464.7L60.3 463.8M45.9 485.5L44.8 483.7M42.2 487.1L43.5 488.1M51.4 468.7L53.3 467.1M50.8 483.4L50.0 481.2M46.6 496.9L46.5 494.8M53.5 506.7L53.6 505.2M33.7 501.9L32.0 502.9M53.9 472.3L52.1 473.5M39.0 513.5L39.2 514.4M33.0 502.2L32.9 502.9M5.1 472.7L6.5 472.1M22.5 513.6L21.4 515.1M16.2 462.7L16.8 462.8M17.7 514.3L17.0 514.8M14.8 464.8L13.8 462.9M36.1 471.3L37.8 469.6M5.5 498.6L6.7 499.2M54.6 465.5L55.6 465.3M36.8 491.9L35.6 493.2M55.6 471.4L54.3 473.7M12.1 507.1L11.6 509.1M50.3 489.4L50.7 488.3M30.1 512.2L30.6 510.1M49.4 485.0L48.2 484.8M4.7 461.8L4.7 461.1M37.6 462.4L38.3 462.2M16.8 508.1L15.3 508.7M35.3 515.1L36.8 513.1M7.6 500.9L8.0 502.0M49.7 509.7L49.9 508.0M42.9 487.4L43.5 489.1M60.0 484.0L61.2 482.0M19.5 462.5L19.3 460.9M53.4 481.3L51.9 481.6M58.9 504.4L57.8 503.4M39.0 468.1L39.4 467.6M16.3 462.6L17.5 461.4M53.1 499.5L51.9 499.4M8.5 464.7L9.5 466.1M45.1 472.9L47.1 471.7M34.6 512.2L36.2 513.2M51.4 489.2L51.3 490.2M-0.5 502.8L-0.4 503.6M50.8 503.8L49.5 501.6M28.6 457.5L28.4 455.2M36.1 509.2L34.1 510.7M3.6 462.0L2.0 463.3M41.9 509.7L39.4 510.0M1.0 470.9L2.4 472.0M49.1 506.0L46.9 506.8M29.5 510.6L29.3 508.6M9.6 498.0L8.8 497.8M50.0 504.4L49.9 505.1M15.0 513.8L13.6 514.4M8.5 511.2L9.0 512.7M47.8 485.2L47.7 483.6M54.3 505.5L54.5 504.8M54.2 485.6L53.9 484.6M47.7 479.9L46.8 480.4M41.4 488.7L41.0 489.3M41.6 479.8L39.8 480.5M23.8 463.5L25.6 465.3M46.2 501.9L47.6 502.0M44.3 508.8L43.7 509.6M8.4 478.3L8.9 479.2M16.3 514.9L16.5 516.0M44.5 472.1L46.5 471.8M35.4 508.8L37.0 508.2M4.0 509.4L3.5 511.9M6.2 492.9L6.2 493.6M54.8 482.0L52.5 481.1M58.0 488.2L58.6 489.3M47.2 478.6L45.0 478.8M16.4 498.2L15.9 497.8M14.3 480.1L16.3 478.7M-0.8 459.9L-2.4 459.6M38.1 516.6L38.8 515.6M11.9 474.9L13.5 474.7M48.3 507.4L50.1 507.1M8.2 462.8L7.4 463.6M15.3 458.4L14.5 456.0M42.3 505.1L42.4 502.7M61.0 507.1L59.4 506.1M51.8 488.7L50.2 487.0M25.3 461.0L25.6 460.0M1.5 462.4L2.2 464.6M7.8 511.5L8.7 512.8M27.0 511.2L26.3 510.5M52.3 497.8L53.8 498.0M4.8 499.3L5.5 499.0M21.2 466.5L23.4 465.9M58.4 457.1L56.9 458.5M22.7 514.8L21.5 513.5M39.0 473.1L39.8 471.0M33.9 508.9L31.9 507.3M6.6 500.6L7.2 500.5M9.3 508.6L9.4 507.7M45.6 506.5L45.2 507.4M6.5 481.4L4.9 481.4M53.3 501.2L51.6 500.3M44.6 490.4L43.0 492.2M8.0 460.7L8.8 461.7M10.5 507.0L8.5 506.0M44.7 496.1L45.6 495.5M30.7 513.6L30.6 515.2M26.3 511.3L24.6 511.9M54.7 464.8L52.5 465.3M6.2 498.4L5.6 498.7M40.0 498.6L39.0 499.1M52.9 470.0L54.0 471.5M11.1 502.3L10.6 501.9M10.3 459.5L10.0 461.3M58.4 468.3L59.1 469.8M25.0 512.1L23.9 512.0M15.7 456.4L16.0 457.6M38.8 497.1L37.0 498.6M50.1 507.8L48.5 506.5M51.9 512.8L51.9 511.6M6.3 507.9L8.7 507.3M45.3 491.2L44.8 491.8M52.0 456.8L52.4 456.5M50.9 471.6L50.7 472.8M3.1 464.8L1.9 464.3M4.0 470.5L2.9 472.1M9.7 479.0L11.0 478.5M37.7 486.2L38.7 486.9M5.4 503.6L4.8 502.8M9.2 501.3L10.8 501.1M10.3 504.7L11.6 505.8M43.6 485.9L44.1 486.7M53.7 490.4L53.0 490.9M54.7 499.1L55.4 498.0M33.7 468.8L35.6 469.4M5.2 460.5L4.1 459.3M35.5 473.4L36.7 473.4M9.2 487.2L9.2 486.2M21.5 463.8L23.7 465.1M44.6 490.1L45.3 491.1M53.9 495.6L54.8 493.5M35.8 482.7L36.4 483.8M29.4 510.3L30.4 509.3M56.6 469.5L58.1 470.6M12.0 470.2L13.2 469.2M0.2 505.2L0.6 504.7M0.6 510.4L0.3 508.4M26.0 467.6L25.4 466.4M51.9 500.6L51.0 501.0M15.9 470.3L16.4 471.3M1.9 457.8L2.0 455.4M24.6 514.7L24.0 514.3M22.6 458.3L21.3 460.0M45.7 482.7L46.6 482.9M49.4 500.0L50.5 497.8M51.2 489.3L51.2 491.4M57.8 461.2L57.8 462.8M34.0 511.4L35.0 509.3M22.9 506.6L22.3 506.9M28.8 475.1L29.8 475.8M51.5 494.3L50.3 495.2M53.5 467.9L53.1 466.4M36.5 486.6L37.3 487.1M10.8 466.5L10.3 464.5M17.4 456.3L18.6 456.1M60.7 464.8L61.3 465.5M38.2 476.4L39.4 477.3M60.3 500.0L59.8 500.5M43.9 501.8L43.8 504.2M37.8 515.2L37.8 514.3M4.2 463.6L3.2 462.1M5.9 469.4L3.6 469.6M3.7 507.1L5.6 507.2M48.1 480.6L48.8 480.5M43.3 511.8L43.2 510.1M49.2 487.3L48.3 488.7M54.4 459.8L55.0 458.4M54.7 503.8L52.4 502.9M36.6 467.1L37.2 467.4M50.2 460.3L50.1 459.5M0.6 497.5L1.4 497.0M5.3 472.1L4.1 470.9M28.8 510.5L26.7 511.4M52.2 475.0L50.1 476.1M14.6 466.6L13.2 467.2M47.5 476.8L46.6 476.7M22.0 513.5L23.3 512.4M43.1 486.9L43.9 487.9M5.9 501.9L5.2 502.9M46.9 476.0L48.4 476.6M3.9 458.9L3.7 460.1M9.5 513.4L9.7 515.3M33.9 511.6L34.2 510.9M10.8 465.4L10.5 466.6M54.7 469.5L54.8 468.8M56.9 502.1L58.0 501.3M27.0 457.9L25.7 457.6M28.7 511.6L29.7 512.1M46.5 490.5L48.4 488.9M47.0 486.8L48.5 486.2M0.4 465.7L1.5 466.9M45.3 499.2L46.0 498.9M56.2 467.6L57.0 467.7M28.3 466.7L28.5 465.8M15.4 459.9L14.3 458.3M4.5 495.7L4.1 496.5M25.6 467.8L26.4 465.6M11.1 497.8L10.8 496.0M1.1 455.6L1.8 453.4M29.7 458.6L30.0 460.6M15.0 460.0L15.8 460.1M11.2 495.1L11.0 494.5M31.6 506.3L29.4 506.6M47.3 478.7L48.8 477.0M44.0 477.9L46.3 476.8M55.1 496.8L55.2 498.3" stroke="#46b81a" stroke-width="0.7" stroke-linecap="round" fill="none" opacity="0.85"/>
<path d="M40.8 487.6L41.0 489.8M6.3 466.9L6.3 465.2M26.0 469.3L26.8 468.5M14.0 503.0L13.6 501.2M14.2 472.5L16.7 472.9M-0.0 473.0L-2.6 472.9M55.5 467.5L54.6 469.6M50.8 509.6L49.8 508.3M35.6 474.6L37.0 475.4M54.3 464.4L52.5 464.8M18.9 465.9L19.5 466.2M12.2 501.8L11.1 501.2M4.3 478.4L4.5 479.6M34.3 463.0L34.2 463.9M56.0 460.8L55.7 461.6M16.7 500.0L15.4 499.3M9.2 502.1L10.3 500.3M44.7 492.2L45.6 492.6M2.1 491.2L4.0 489.8M16.1 473.4L17.5 473.8M-0.2 482.4L0.1 481.5M23.0 505.0L21.6 504.9M53.9 495.0L55.3 493.7M48.4 504.9L49.4 505.0M36.7 470.6L38.8 469.9M34.2 509.4L33.1 508.9M39.3 496.2L38.5 498.7M56.4 463.9L56.4 463.2M40.5 481.4L40.2 483.7M43.8 472.4L43.7 471.0M46.6 491.1L45.6 489.3M54.1 508.9L54.6 509.9M55.5 503.5L53.8 505.3M20.8 467.3L21.5 468.9M57.7 477.4L59.1 478.7M14.0 507.5L12.4 506.9M44.6 490.0L44.4 489.3M45.6 479.4L44.8 480.2M22.9 512.9L21.5 512.5M28.8 507.5L27.9 507.8M54.6 503.8L53.3 503.4M5.1 498.4L3.8 498.1M20.7 462.3L21.5 463.6M10.8 462.0L8.3 462.4M7.2 503.4L6.3 502.7M10.9 462.7L10.7 460.6M51.1 482.9L51.2 484.3M45.6 490.2L43.9 489.0M11.1 508.8L11.8 509.2M32.2 510.6L33.0 513.0M43.3 487.1L41.4 485.9M52.9 489.9L51.0 490.8M4.5 491.9L2.5 490.2M11.5 501.9L9.7 500.6M43.5 500.7L42.3 500.6M26.7 466.3L29.3 466.0M54.2 477.7L54.3 478.9M27.0 472.4L29.0 474.0M39.3 492.0L38.3 493.6M20.0 509.0L21.0 509.1M10.7 500.3L10.8 498.3M39.8 490.3L40.2 491.2M12.2 460.1L10.9 460.5M58.3 492.7L60.1 493.1M1.2 468.3L3.5 467.8M30.8 477.2L31.1 478.3M2.2 484.2L0.7 482.5M20.0 503.7L18.9 503.6M44.5 480.2L44.1 480.7M6.3 464.3L7.2 464.4M17.5 471.1L18.7 470.5M18.8 459.8L18.8 458.3M41.0 489.0L40.0 490.0M16.0 516.6L15.1 516.5M41.0 491.9L40.0 492.8M5.2 466.0L4.2 466.4M41.5 480.5L41.5 481.3M47.8 481.8L47.9 481.0M47.7 469.8L49.3 469.6M23.3 456.3L25.3 457.7M32.2 514.4L31.0 516.6M37.6 496.2L36.5 498.0M40.9 482.4L41.5 482.8M25.8 471.4L27.8 473.0M42.0 477.7L42.6 478.4M12.6 486.6L11.3 484.4M45.0 497.8L44.1 496.3M17.7 460.7L20.0 461.4M6.7 506.3L4.7 505.9M44.3 483.9L42.4 483.7M44.1 496.7L42.0 497.9M29.2 514.5L28.6 515.4M50.7 502.8L52.1 503.2M9.2 475.6L10.8 476.9M57.6 501.4L57.7 502.3M54.1 509.2L54.4 511.7M40.4 483.4L41.4 484.6M53.5 498.5L53.2 499.6M35.7 482.4L37.5 483.0M34.2 474.9L35.3 475.7M39.5 488.4L40.7 490.1M29.7 511.6L30.5 510.2M55.3 504.7L56.4 505.6M45.6 473.5L44.4 471.2M57.0 493.2L57.7 493.6M49.9 484.1L49.8 482.1M29.3 509.4L28.3 509.1M49.4 507.5L50.7 508.9M36.7 507.5L37.3 508.4M31.8 506.7L31.1 506.4M45.8 485.9L46.1 486.8M41.5 483.7L40.9 485.5M36.0 473.2L36.6 474.1M24.1 462.9L24.8 462.1M49.8 492.0L51.6 492.7M47.7 513.7L48.7 512.8M45.9 473.1L45.1 474.2M53.0 466.4L51.3 466.6M47.1 498.7L48.3 500.7M51.9 509.6L52.3 510.9M3.5 499.0L1.9 499.7M21.9 462.2L22.3 464.0M40.4 492.7L39.7 494.0M28.0 463.5L26.6 461.4M57.6 471.2L58.6 470.7M46.2 479.1L47.1 480.5M30.3 508.3L29.4 510.4M13.0 516.7L14.2 517.4M24.5 512.0L23.7 511.8M40.2 495.6L39.0 497.5M3.6 462.8L4.1 464.9M53.9 478.3L54.4 477.8M30.8 459.9L32.0 457.9M8.4 458.7L8.7 461.1M5.7 507.1L7.4 505.7M3.5 473.1L4.2 472.6M13.8 462.9L11.9 461.3M46.2 475.4L45.2 475.3M19.8 470.0L21.1 469.5M6.2 459.9L5.9 458.7M49.6 488.9L49.0 486.7M20.7 508.3L18.9 509.5M34.5 507.5L33.9 508.2M5.6 460.0L4.1 458.4M12.1 472.4L10.4 472.5M37.2 511.7L38.2 510.9M50.6 506.9L50.7 507.9M37.9 461.1L37.9 462.8M24.1 463.3L24.8 460.8M33.4 476.6L33.7 477.2M17.1 511.0L18.5 511.0M23.4 462.0L22.8 462.3M19.5 512.4L20.2 512.5M49.9 479.8L49.1 479.0M35.8 478.2L35.7 479.7M43.9 484.2L43.3 485.9M11.2 510.8L12.2 511.6M7.6 495.7L6.9 493.2M11.3 472.5L12.0 472.1M32.8 476.9L34.0 478.1M41.1 497.9L41.2 500.1M39.2 508.7L38.6 510.7M38.6 512.9L40.1 510.9M48.1 485.1L49.1 485.6M50.7 477.7L50.0 479.7M4.9 503.8L5.0 503.0M53.9 506.4L53.9 505.0M25.5 474.2L26.1 473.4M34.5 510.4L34.8 511.6M42.9 479.8L43.9 479.6M17.5 513.8L18.8 513.8M31.8 516.5L32.6 514.1M48.2 473.2L47.7 475.5M1.1 496.8L0.2 496.6M34.5 508.6L34.1 507.4M49.2 511.5L48.6 509.4M3.1 509.8L2.2 507.6M8.9 499.4L8.2 499.0M41.1 483.9L42.3 484.6M38.3 493.6L38.4 495.9M15.7 507.0L15.6 505.2M20.9 504.8L19.9 503.9M57.7 503.7L57.4 502.9M47.9 499.5L49.4 501.5M23.9 506.9L23.0 507.0M32.7 509.0L33.9 511.2M21.2 463.5L21.9 463.0M36.3 480.9L37.3 482.0M6.4 506.4L4.0 505.9M5.6 499.4L4.9 498.4M25.0 504.7L24.4 504.3M8.5 479.0L8.9 478.3M45.4 480.9L44.1 478.7M51.1 492.7L50.7 490.2M49.9 491.8L48.5 493.2M51.5 510.3L53.2 508.4M29.7 459.7L31.1 460.4M6.1 464.6L6.4 465.6M47.7 475.8L49.3 476.3M43.1 481.0L44.2 481.0M22.8 473.7L24.8 474.8M36.4 513.7L35.0 515.5M11.5 494.9L11.0 494.3M30.3 465.6L31.7 465.8M50.3 504.3L51.2 504.5M22.2 510.2L19.8 511.1M11.6 468.5L10.1 467.8M9.7 490.5L10.0 489.8M11.3 462.1L10.8 464.6M31.0 501.4L28.8 500.8M6.4 499.5L8.2 500.0M48.4 508.7L49.5 509.2M3.4 498.7L2.5 499.2M3.5 499.7L2.3 499.9M12.6 457.3L13.6 457.6M1.9 467.3L1.8 466.1M4.8 509.6L5.8 507.6M30.9 472.7L32.8 472.5M55.7 510.1L54.7 511.6M23.2 513.7L21.1 513.5M8.0 480.1L8.5 477.7M9.4 506.8L9.0 505.3M7.7 502.2L8.4 502.8M8.6 499.6L7.8 499.9M8.9 504.2L9.2 506.1M56.2 482.6L56.6 481.1M14.0 478.6L14.3 477.4M21.7 504.6L20.4 505.3M6.1 468.3L7.2 468.5M51.7 488.0L52.6 488.8M4.3 464.1L2.8 465.6M55.3 476.0L54.2 477.4M59.8 498.1L60.8 497.7M20.5 469.4L22.7 469.5M10.1 486.2L9.3 485.0M12.1 489.6L12.9 488.1M51.3 483.4L50.5 484.8M46.2 485.0L46.1 486.8M46.8 505.3L46.4 504.7M29.8 503.1L28.5 503.8M34.6 513.3L33.3 511.8M43.3 506.3L42.3 507.1M49.9 508.0L50.0 509.3M3.5 505.3L1.2 505.8M25.4 466.9L26.8 466.2M55.0 502.8L55.9 502.0M48.6 489.0L48.4 489.6M35.1 470.5L37.4 471.0M21.6 505.7L19.3 504.8M54.0 475.0L53.9 475.7M26.6 458.7L26.1 460.1M12.1 509.6L11.9 508.3M53.5 507.1L51.5 505.9M15.5 505.0L13.5 503.6M19.2 471.7L21.0 470.5M5.0 502.7L5.8 503.2" stroke="#2e8c12" stroke-width="0.75" stroke-linecap="round" fill="none" opacity="0.85"/>
<path d="M12.1 484.3L13.0 482.8M30.7 501.8L29.9 503.6M32.5 475.0L34.8 474.8M37.0 489.9L37.4 490.8M29.9 504.6L29.1 505.1M42.3 484.0L42.1 485.1M27.0 509.1L25.9 509.8M16.1 506.2L15.1 504.3M9.8 484.2L8.9 482.4M38.6 484.6L38.2 485.8M36.7 500.7L36.4 502.3M41.2 486.4L40.0 488.1M23.2 504.0L22.1 503.8M35.9 496.7L35.3 499.2M34.1 497.3L34.2 499.8M38.3 490.1L38.3 492.0M8.8 497.0L6.8 495.8M13.7 496.1L12.9 495.6M41.8 483.4L41.8 485.8M41.8 483.8L42.2 485.8M13.4 483.9L13.0 481.9M42.2 492.8L40.4 494.0M30.2 473.7L32.1 473.8M9.2 480.2L9.4 478.4M38.2 502.5L37.4 502.5M40.8 491.0L42.0 492.3M40.9 491.7L41.4 493.1M18.9 501.9L16.5 501.9M13.5 504.9L11.8 504.6M17.9 504.0L16.5 503.8M11.9 498.8L10.3 497.8M37.1 489.9L37.5 490.8M9.9 494.0L10.1 493.3M41.3 495.0L40.8 496.2M25.8 469.7L28.0 469.3M36.4 483.6L36.9 484.1M35.6 496.6L34.3 497.4M40.4 492.2L39.7 493.7M32.6 471.2L33.2 471.6M34.4 505.3L32.3 506.1M41.1 492.5L41.2 493.5M32.0 474.5L32.8 474.5M31.9 505.6L30.4 505.7M42.9 486.6L42.5 488.5M24.6 503.4L22.2 503.7M38.6 482.0L38.7 483.0M37.2 489.3L35.3 490.7M8.7 486.8L8.3 486.4M30.7 476.7L31.4 477.9M25.4 507.2L24.1 507.3M41.1 489.6L41.4 491.1M35.5 497.7L33.8 498.8M25.7 503.9L24.5 502.8M12.9 486.8L15.0 485.4M42.3 492.2L41.3 492.9M41.8 487.4L42.4 488.6M29.4 470.0L30.6 470.4M18.9 470.7L19.7 469.0" stroke="#a0b41a" stroke-width="0.8" stroke-linecap="round" fill="none" opacity="0.9"/>
<ellipse cx="24.7" cy="488.7" rx="13.0" ry="14.4" transform="rotate(-25 24.7 488.7)" fill="none" stroke="#8cae1c" stroke-width="1.7" opacity="0.6" stroke-dasharray="4 1.2 6 2 2.5 1 7 1.6"/>
<ellipse cx="24.7" cy="488.7" rx="12.4" ry="13.8" transform="rotate(-25 24.7 488.7)" fill="#8c1508"/>
<path d="M29.8 480.5l0.5 2.1M29.1 490.7l1.1 2.0M20.5 496.2l-2.0 1.0M26.8 483.6l2.1 2.3M26.9 490.2l-2.4 0.1M17.8 493.6l-2.1 0.8M25.9 485.2l-2.2 0.8M23.8 489.5l2.2 0.5M30.4 494.3l-2.1 0.0" stroke="#a8a020" stroke-width="0.7" stroke-linecap="round" fill="none" opacity="0.7"/>
<path d="M24.9 479.2h0M17.5 481.3h0M14.6 489.8h0M29.7 497.3h0M19.8 487.7h0M26.1 500.7h0M19.6 482.1h0M14.4 488.6h0M21.2 484.4h0M34.2 484.4h0M26.5 478.4h0M21.7 482.4h0M34.0 487.2h0M29.9 498.3h0M22.2 490.1h0M28.6 484.7h0M21.7 490.5h0M16.6 487.4h0M29.5 477.8h0M31.6 482.0h0M15.9 495.7h0M25.5 495.6h0M18.5 485.7h0M21.2 486.9h0M24.7 490.5h0M19.8 491.3h0M27.0 482.9h0M28.1 498.5h0M28.2 499.4h0M20.5 487.8h0" stroke="#c02800" stroke-width="1.2" stroke-linecap="round" fill="none" opacity="0.8"/>
<path d="M21.3 476.9h0M21.8 497.4h0M14.3 485.2h0M27.5 488.5h0M17.3 496.2h0M17.8 493.0h0M23.6 488.1h0M35.0 491.5h0M18.8 493.7h0M15.7 484.8h0M27.2 486.4h0M24.2 488.1h0M15.0 485.5h0M18.0 489.7h0M30.4 480.6h0M31.8 484.0h0M21.3 498.3h0M24.3 488.7h0M32.2 497.5h0M23.5 486.9h0M24.8 477.9h0M35.3 492.3h0M28.4 496.6h0M22.8 480.3h0M20.2 495.7h0M17.3 479.8h0M32.8 480.3h0M27.3 480.6h0" stroke="#6a0e00" stroke-width="1.4" stroke-linecap="round" fill="none" opacity="0.7"/>
<path d="M18.2 498.1h0M30.1 485.5h0M26.2 481.6h0M31.9 491.6h0M31.3 483.3h0M28.7 478.2h0M26.5 482.2h0M27.5 486.8h0M21.5 488.6h0M16.9 496.5h0M29.0 477.3h0M17.2 485.4h0" stroke="#b09010" stroke-width="0.8" stroke-linecap="round" fill="none" opacity="0.8"/>
<path d="M33.3 477.1h0M43.4 498.2h0M26.3 505.4h0M9.0 468.9h0M3.7 482.3h0M13.9 478.7h0M55.6 510.7h0M22.5 462.2h0M44.6 476.2h0M39.0 489.7h0M60.1 509.2h0M21.0 515.9h0M53.5 483.5h0M40.8 485.9h0M4.2 507.3h0M50.7 484.4h0M54.4 500.2h0M10.2 495.8h0M45.1 480.3h0M51.5 501.7h0M7.6 508.5h0M55.1 483.6h0M25.8 504.5h0M34.4 505.6h0M41.1 493.4h0M39.6 482.8h0M45.0 495.9h0M51.9 487.7h0M8.2 489.2h0M11.1 464.1h0M41.5 478.6h0M40.8 501.0h0M8.5 485.2h0M33.6 458.8h0M26.8 505.3h0M54.3 478.8h0M38.9 492.2h0M47.6 486.0h0M8.7 459.7h0M34.5 508.5h0M11.5 494.2h0M9.8 488.2h0M37.1 476.0h0M47.1 500.8h0M30.3 465.0h0M16.3 503.1h0M37.2 508.8h0M30.5 474.1h0M54.3 471.2h0M37.9 478.8h0M49.2 486.8h0M44.7 476.3h0M15.9 508.9h0M53.7 476.5h0M44.9 503.6h0M13.6 464.8h0M28.8 507.8h0M58.1 489.0h0M12.8 458.9h0M55.8 501.0h0M2.6 504.3h0M55.7 514.0h0M33.8 475.4h0M40.0 466.9h0M23.6 462.2h0M53.5 488.7h0M34.0 460.2h0M58.6 510.6h0M5.9 460.2h0M47.6 487.8h0M40.3 496.2h0M12.6 462.0h0M43.8 479.5h0M4.1 510.2h0M1.6 506.0h0M14.0 463.8h0M26.0 506.7h0M30.6 472.1h0M8.0 487.4h0M17.2 510.7h0M14.4 459.4h0M60.5 471.3h0M16.4 460.8h0M9.4 512.4h0M51.8 493.1h0M51.5 476.3h0M54.3 509.1h0M38.9 480.5h0M29.0 510.7h0M23.2 511.1h0M54.4 484.7h0M17.3 508.3h0M50.0 487.5h0M45.8 481.1h0M20.3 510.5h0M51.5 508.9h0M11.1 503.6h0M32.7 464.9h0M46.3 494.1h0M17.3 473.0h0M17.6 475.1h0M38.2 484.6h0M45.5 490.2h0M17.5 462.6h0M47.3 484.2h0M19.3 475.5h0M37.9 461.8h0M50.8 470.9h0M59.0 505.5h0M46.3 483.9h0M37.6 492.8h0M5.1 501.8h0M51.2 510.0h0M11.5 488.1h0M6.7 501.7h0M60.4 465.7h0M4.8 493.6h0M12.4 495.3h0M1.4 507.6h0M10.1 488.2h0" stroke="#e06410" stroke-width="1.0" stroke-linecap="round" fill="none" opacity="0.95"/>
</g>
</svg>
<svg x="62.60" y="456.50" width="60.80" height="60.00" viewBox="62.60 456.50 60.80 60.00">
<rect x="62.60" y="456.50" width="60.80" height="60.00" fill="#000"/>
<g filter="url(#mb2)">
<ellipse cx="99.4" cy="488" rx="14" ry="12" fill="#2a7a0c" opacity="0.6"/>
</g>
<g filter="url(#mb)">
<path d="M80.5 514.0L79.1 515.3M80.5 488.3L78.8 488.8M90.2 483.5L92.4 482.8M114.5 493.3L114.6 494.1M86.8 489.1L85.9 488.4M119.6 488.4L118.4 489.2M72.6 506.1L71.9 507.0M116.9 466.2L115.3 466.4M76.9 508.9L74.5 508.5M75.6 504.4L74.6 505.7M79.9 483.5L80.2 484.8M103.2 499.4L100.9 498.7M111.0 473.1L110.6 470.6M112.4 466.1L113.6 467.4M94.0 471.5L95.4 470.5M88.9 467.9L90.5 468.1M104.3 495.6L102.2 495.3M77.6 485.7L75.7 486.3M116.4 482.3L117.1 482.9M117.8 473.1L118.8 472.8M117.3 487.0L116.5 487.4M112.0 503.4L111.5 501.7M122.2 501.9L122.7 501.4M78.9 481.6L79.7 482.5M81.7 484.8L83.1 484.2M67.5 510.4L65.7 511.8M72.9 501.2L72.1 502.3M113.5 494.0L114.1 495.0M84.2 502.6L84.2 503.7M100.3 510.1L99.5 511.0M89.8 463.3L91.2 465.0M84.2 481.9L84.7 482.4M116.4 488.3L114.3 488.3M92.8 474.7L91.7 473.3M99.0 502.0L97.9 501.5M98.0 468.1L97.4 468.1M111.0 467.5L110.8 468.9M70.0 491.3L70.6 492.8M74.9 489.0L74.4 490.9M114.5 477.3L113.4 476.9M93.7 468.1L96.1 468.0M81.4 480.5L79.6 481.6M77.4 511.9L76.5 512.5M113.5 509.4L112.8 511.2M89.8 478.1L89.8 477.2M113.8 484.7L114.9 485.3M81.3 488.2L83.0 487.4M102.3 502.1L103.4 501.8M105.3 510.4L106.2 510.6M71.0 492.2L72.0 490.2M103.0 471.6L105.4 472.0M85.2 495.5L85.0 496.7M119.4 491.7L121.8 492.1M122.1 482.3L122.1 483.7M87.2 509.2L89.6 509.0M88.5 498.0L88.6 499.0M101.4 503.3L103.3 503.2M107.1 473.2L109.4 473.8M108.9 509.2L110.5 508.5M70.1 509.2L72.1 508.5M82.4 483.1L83.3 484.2M88.4 490.8L88.7 489.8M119.8 488.7L120.5 487.4M110.6 471.0L109.3 470.9M70.7 488.9L73.1 488.6M87.8 462.9L88.0 462.0M109.6 474.9L109.8 475.8M100.9 502.4L98.8 502.9M97.7 473.3L99.2 473.9M89.9 499.5L90.7 499.0M81.9 512.6L82.5 515.0M111.2 504.9L112.8 503.7M110.8 467.8L108.8 468.5M81.9 469.2L81.0 467.7M78.4 489.0L80.0 490.7M88.4 482.3L89.1 481.5M110.6 494.9L108.5 496.0M113.7 482.7L114.6 482.1M101.3 468.7L102.0 468.4M104.0 467.3L104.8 468.0M80.3 501.4L78.8 499.8M112.5 496.3L112.0 497.2M83.6 499.0L84.2 498.5M94.1 472.3L94.6 473.1M79.0 504.2L78.8 502.1M103.1 475.4L104.5 476.2M91.7 482.7L93.7 482.3M108.4 484.8L108.5 486.8M102.4 474.8L104.2 474.4M108.2 500.6L105.7 500.3M79.9 499.0L79.5 498.1M101.9 501.8L99.5 501.4M77.2 487.5L78.2 487.2M91.4 476.0L91.0 477.4M75.2 512.8L74.2 513.3M119.2 504.7L121.1 504.9M68.3 480.0L68.8 480.6M110.0 498.8L110.7 496.5M80.0 515.3L79.9 513.6M70.1 506.7L70.8 507.5M86.4 483.2L86.7 480.9M78.6 496.1L77.3 496.3M103.9 480.4L105.5 480.6M110.0 462.7L109.5 463.8M115.4 491.4L114.0 489.4M78.3 501.7L78.0 502.8M112.1 498.5L113.6 497.7M89.7 495.4L90.3 493.0M73.2 508.2L72.0 507.5M81.6 479.3L79.3 479.0M118.4 487.0L117.0 486.3M72.8 484.7L72.8 485.4M83.2 493.7L84.8 495.0M82.3 484.9L82.1 487.2M97.0 504.1L97.6 505.2M110.2 498.8L110.5 498.2M80.2 495.4L79.2 495.0M108.5 494.0L107.9 494.4M90.6 496.3L90.2 495.8M110.3 497.3L111.8 495.6M75.5 506.5L74.7 506.5M121.4 490.3L123.6 491.0M72.8 482.6L71.8 481.5M87.2 509.5L86.7 508.5M111.2 482.6L111.6 483.6M66.8 484.5L65.4 484.1M96.8 478.8L98.5 478.7M113.2 497.9L111.0 498.7M103.5 471.1L102.1 472.4M103.7 471.9L102.2 472.5M109.4 474.5L110.2 476.9M87.9 483.8L90.1 482.9M88.5 509.4L86.2 509.2M93.8 461.1L95.8 459.4M80.8 482.6L79.1 480.7M92.3 479.7L94.5 478.3M108.3 500.0L108.9 500.4M107.8 504.5L108.4 505.7M113.4 476.2L112.6 476.0M72.4 511.0L72.2 512.0M105.4 501.8L104.8 503.4M107.6 502.9L107.0 501.8M120.8 488.0L120.7 488.8M96.3 479.2L97.0 478.7M107.9 494.2L107.8 495.7M77.9 502.9L77.3 501.9M111.4 494.4L110.6 495.5M113.8 499.0L114.7 499.6M110.8 507.0L111.1 505.3M93.0 473.7L95.5 473.9M80.1 487.8L82.2 488.3M97.7 467.4L97.1 468.1M97.8 497.9L96.7 497.6M100.7 474.1L99.6 472.9M86.8 510.7L85.8 511.9M81.9 492.0L81.8 493.8M112.8 490.9L111.0 491.9M77.0 485.0L77.9 485.1M106.2 500.5L107.5 502.6M112.8 513.0L111.7 511.8M119.4 478.0L119.7 479.9M74.5 512.4L75.8 511.4M79.7 482.2L81.0 481.0" stroke="#46b81a" stroke-width="0.7" stroke-linecap="round" fill="none" opacity="0.85"/>
<path d="M83.3 473.2L81.9 474.2M110.6 491.7L110.0 493.4M81.4 502.3L80.6 502.7M86.8 478.2L85.9 480.4M83.6 510.6L84.9 509.5M74.5 513.1L75.5 512.2M77.9 479.5L75.9 479.3M110.9 489.8L109.0 491.5M102.3 503.3L103.9 501.3M86.9 483.6L88.6 482.7M108.3 496.5L107.3 498.5M111.4 503.0L112.7 504.8M111.4 465.1L109.1 466.1M77.5 511.7L77.5 512.9M116.4 488.4L115.5 488.5M89.2 473.5L89.0 472.6M83.5 485.8L84.1 483.3M111.6 499.1L112.8 498.4M95.6 479.7L96.3 480.0M105.1 495.7L104.0 495.5M89.4 482.7L90.9 481.2M70.5 510.8L72.1 512.9M108.1 474.8L106.2 473.6M105.6 478.7L106.9 480.0M115.9 469.6L116.5 468.3M71.3 495.2L70.4 495.1M113.6 493.4L113.0 491.0M75.5 475.3L77.1 474.3M107.1 471.2L106.7 472.5M95.1 509.9L94.3 509.9M74.7 471.8L75.4 471.9M88.2 468.9L87.7 469.3M90.0 469.6L88.8 467.9M94.2 495.6L92.2 495.4M81.3 485.9L80.3 488.2M115.2 477.5L117.3 477.4M108.2 506.3L110.2 506.7M112.2 494.3L112.4 494.9M99.1 469.8L98.9 471.1M88.7 499.3L88.9 500.0M89.0 479.3L91.1 478.8M108.7 480.6L109.7 481.4M96.1 479.8L97.0 479.0M120.5 466.4L120.9 467.7M71.4 508.7L70.8 508.5M77.9 485.4L77.1 485.5M96.2 470.1L95.6 469.8M76.7 483.4L75.6 484.0M93.8 480.2L93.9 478.8M108.0 493.0L108.5 494.6M89.0 507.8L89.8 509.9M119.8 482.9L120.0 482.0M117.5 500.9L116.3 502.3M82.2 479.5L83.0 479.5M113.0 488.9L113.4 490.6M102.9 461.8L103.3 461.3M91.3 500.2L92.4 498.5M82.2 508.4L82.1 507.3M106.3 506.9L106.3 508.2M82.4 477.7L79.8 478.2M78.8 479.1L80.7 479.9M106.6 473.7L108.8 474.6M81.8 489.9L79.3 489.8M81.2 485.0L83.2 486.3M112.6 495.9L111.0 496.0M102.6 500.9L101.7 502.2M97.7 506.2L96.5 507.3M88.1 490.5L88.5 488.5M69.1 501.0L68.2 501.3M109.0 509.4L110.7 510.7M99.3 479.1L100.3 479.5M84.8 484.6L83.8 483.3M108.8 498.6L108.9 497.8M95.9 497.2L94.7 496.4M116.2 480.8L116.5 480.1M87.8 463.6L89.3 462.4M87.6 488.1L85.7 486.7M75.1 490.2L76.9 490.5M109.3 469.6L111.6 470.1M113.6 502.2L112.2 501.7M88.4 476.8L88.3 476.2M107.3 505.8L106.3 504.3M90.5 464.4L89.9 462.7M87.1 493.1L84.8 492.2M76.9 493.5L77.7 493.6M84.0 479.6L84.0 482.0M91.2 478.5L92.1 477.4M71.1 474.9L72.2 475.3M88.9 481.2L90.7 481.0M83.3 491.9L81.6 493.6M84.4 479.9L86.7 480.5M117.2 490.2L117.9 489.3M91.5 483.1L92.0 482.5M99.4 468.3L98.6 467.6M113.7 489.6L113.2 490.2M90.0 493.9L89.1 493.7M110.0 495.4L110.0 497.6M99.0 502.5L99.9 500.6M83.2 487.8L83.1 490.3M114.2 463.7L114.3 463.0M88.4 485.8L88.9 485.1M120.6 492.4L121.6 492.0M106.3 471.4L107.0 471.0M79.9 487.6L77.7 487.9M106.1 469.9L108.3 470.7M80.4 486.1L79.6 485.5M109.8 473.8L111.3 473.9M77.4 492.8L77.9 492.3M87.8 487.1L86.6 485.9M106.4 494.0L105.7 494.6M85.3 481.8L85.7 481.0M83.4 495.8L82.1 496.8M109.7 499.8L108.5 500.3M71.6 466.5L72.2 464.7M69.2 491.6L70.6 492.9M82.0 483.3L80.3 482.6M90.0 495.6L89.5 495.2M85.0 493.1L85.1 493.9M89.6 490.5L89.7 489.2M80.2 502.6L80.1 500.5M102.6 475.0L104.9 474.0M100.6 476.8L101.6 478.1M107.0 496.8L106.8 498.5M102.8 468.1L101.1 468.1M85.0 486.6L84.8 485.2M77.0 468.0L75.7 467.8M65.8 504.2L64.8 504.2M109.1 480.9L110.8 482.7M120.5 493.4L119.6 495.5M72.4 514.4L69.9 514.5M87.8 496.6L87.4 497.6M108.3 474.8L107.7 475.6M67.1 484.8L68.2 485.9M109.6 481.3L110.8 482.0M110.0 497.6L109.0 498.3M82.6 481.2L81.9 480.0M87.4 488.7L88.3 486.4M94.3 499.2L93.8 498.4M77.1 503.9L77.5 503.4M115.3 508.9L117.1 510.0M99.1 472.0L100.1 472.7M112.6 482.5L112.2 484.5M113.3 492.4L112.8 493.8M87.9 481.6L89.5 481.2M78.4 494.7L78.1 496.0M93.0 478.1L94.5 477.9M115.2 487.3L115.1 486.5M111.4 482.1L110.8 483.8M102.2 471.9L102.6 473.0M80.4 506.7L81.4 504.8M106.5 502.6L105.7 503.5M87.2 483.1L88.7 481.5M65.3 485.3L65.0 486.2M94.0 495.8L93.3 494.0M94.7 496.4L93.9 494.0M121.8 468.3L123.8 469.2M83.3 493.5L80.9 493.8M88.5 502.7L88.7 503.3M90.6 484.6L90.5 483.8M108.6 492.1L107.4 494.1M116.1 497.6L117.5 497.7M94.8 500.7L94.1 499.4M82.5 515.2L82.6 513.9M81.5 511.4L83.5 510.7M96.9 465.3L95.9 465.6M95.8 500.6L94.5 501.0M72.6 503.5L73.4 504.8M72.4 494.3L72.9 494.8M71.1 484.9L71.3 483.2M96.1 502.8L98.2 502.0M97.6 477.4L99.9 476.3M101.1 501.3L100.4 501.4M92.6 479.5L93.6 479.2M73.6 510.3L72.7 510.1M90.3 484.1L91.2 483.2M110.3 483.0L112.7 483.9M84.5 488.3L84.0 487.6M103.3 479.8L104.7 480.7M81.0 482.8L80.9 484.9M87.0 480.4L87.4 482.9M106.9 497.3L106.4 499.7M93.5 481.2L93.7 478.9M109.9 502.1L109.6 504.4" stroke="#2e8c12" stroke-width="0.75" stroke-linecap="round" fill="none" opacity="0.85"/>
<path d="M107.4 498.0L106.8 498.4M88.8 496.3L88.3 495.8M88.4 486.9L87.9 486.0M94.1 497.1L93.3 495.7M113.1 483.3L112.1 485.4M88.3 489.6L88.2 488.6M107.5 492.6L107.7 493.2M89.2 495.5L87.7 493.4M97.7 500.6L95.9 499.7M89.0 490.1L89.4 489.4M104.2 478.8L105.8 480.6M89.2 497.4L88.1 497.3M112.6 484.9L113.3 487.2M101.0 496.7L99.5 495.6M111.2 484.9L111.3 487.0M108.6 493.7L107.7 495.5M88.2 480.8L87.9 479.8M107.1 493.1L105.8 494.2M86.5 486.1L85.8 485.0M90.6 481.7L92.4 481.0M98.9 478.7L99.6 478.0M89.8 485.0L90.5 482.9M90.7 481.0L92.2 479.6M102.9 475.2L104.8 476.3M106.8 494.7L106.2 497.0M92.4 482.0L94.3 481.8M87.2 480.1L88.8 479.9M109.3 488.7L108.7 490.0M88.4 494.7L88.3 493.1M110.3 495.3L110.4 496.3M101.7 474.7L103.6 476.0M87.2 486.1L88.5 484.7M96.1 479.4L96.4 478.3M106.6 481.2L106.7 483.7M107.1 494.8L106.9 495.8M87.9 492.6L87.1 491.8M101.3 474.7L102.1 474.1M89.3 481.5L90.6 480.5M108.6 491.8L109.3 493.3M89.0 484.6L90.1 484.1M112.9 483.9L114.3 484.8M96.6 497.9L95.0 498.3M105.2 477.5L107.3 476.9M109.7 481.6L110.5 482.7M92.2 495.7L91.0 495.7M85.8 492.4L84.7 490.8M109.1 498.1L108.5 499.9M96.5 496.8L94.8 496.7M87.4 488.7L87.4 487.7M108.5 479.6L109.2 480.0M106.6 481.2L107.5 482.4M97.7 501.2L96.7 501.2M87.3 487.9L88.0 487.2M100.2 475.8L100.9 476.8" stroke="#a0b41a" stroke-width="0.8" stroke-linecap="round" fill="none" opacity="0.9"/>
<ellipse cx="99.4" cy="488" rx="10.6" ry="9.6" transform="rotate(15 99.4 488)" fill="none" stroke="#8cae1c" stroke-width="1.7" opacity="0.6" stroke-dasharray="4 1.2 6 2 2.5 1 7 1.6"/>
<ellipse cx="99.4" cy="488" rx="10" ry="9" transform="rotate(15 99.4 488)" fill="#8c1508"/>
<path d="M102.8 485.3l-2.5 2.1M102.3 493.7l-2.1 0.0M101.9 488.3l-1.5 0.1M101.9 486.6l-1.1 1.3M102.4 492.9l2.1 0.6M104.9 485.2l-3.2 1.3M103.0 488.7l-2.3 1.7M104.6 489.1l1.8 1.6M100.2 488.6l-2.1 0.1" stroke="#a8a020" stroke-width="0.7" stroke-linecap="round" fill="none" opacity="0.7"/>
<path d="M101.7 486.1h0M96.1 488.2h0M96.0 489.5h0M98.0 485.1h0M98.9 482.3h0M103.5 491.1h0M90.8 488.2h0M97.0 491.0h0M107.7 486.5h0M98.9 483.8h0M101.4 491.7h0M101.1 488.7h0M93.7 487.7h0M94.3 486.3h0M106.8 488.4h0M95.6 483.1h0M92.3 486.0h0M107.8 487.2h0M98.3 483.0h0M97.0 492.8h0M104.9 487.1h0M95.1 491.4h0M105.0 494.3h0M106.4 488.2h0M103.5 486.2h0M95.2 484.8h0M99.6 491.6h0M105.6 493.0h0M101.2 480.5h0M106.5 490.1h0" stroke="#c02800" stroke-width="1.2" stroke-linecap="round" fill="none" opacity="0.8"/>
<path d="M96.1 493.8h0M94.6 486.6h0M99.7 488.0h0M99.2 480.5h0M92.5 487.6h0M103.8 487.9h0M94.1 482.9h0M93.9 492.7h0M94.3 491.6h0M93.8 483.7h0M96.3 493.8h0M95.3 487.0h0M95.9 485.3h0M104.6 485.0h0M98.2 482.2h0M95.2 488.6h0M104.8 494.1h0M93.0 486.9h0M91.4 486.7h0M99.7 491.4h0M102.1 483.1h0M94.2 482.3h0M106.0 483.3h0M104.8 489.3h0M103.4 481.6h0M101.9 490.2h0M99.4 490.6h0M94.4 493.7h0" stroke="#6a0e00" stroke-width="1.4" stroke-linecap="round" fill="none" opacity="0.7"/>
<path d="M93.4 487.3h0M104.2 490.7h0M106.9 487.9h0M93.5 489.8h0M101.7 481.3h0M103.8 493.4h0M95.0 492.3h0M99.8 492.9h0M96.4 492.2h0M103.4 488.4h0M97.4 487.2h0M102.7 494.2h0" stroke="#b09010" stroke-width="0.8" stroke-linecap="round" fill="none" opacity="0.8"/>
<path d="M87.0 512.4h0M78.9 513.8h0M83.7 492.8h0M88.8 480.0h0M77.5 477.4h0M116.4 485.2h0M99.8 478.5h0M75.9 488.4h0M121.1 497.5h0M79.1 492.4h0M76.7 491.4h0M86.3 488.6h0M68.8 499.7h0M115.4 491.7h0M101.7 471.4h0M79.2 509.5h0M109.9 495.1h0M83.8 478.3h0M95.3 478.5h0M119.5 487.8h0M81.1 512.1h0M108.2 478.4h0M112.6 474.9h0M75.7 511.9h0M89.1 485.8h0M85.0 488.9h0M96.9 467.5h0M88.4 485.9h0M109.2 506.5h0M85.1 493.6h0M93.7 500.1h0M103.4 477.1h0M82.9 480.9h0M101.3 470.0h0M105.1 464.6h0M97.6 465.5h0M74.2 512.0h0M93.5 499.4h0M85.5 516.4h0M113.8 470.9h0M109.6 494.1h0M75.0 490.4h0M77.7 489.9h0M82.6 485.2h0M96.3 508.5h0M76.2 473.1h0M114.4 483.1h0M93.4 497.3h0M111.2 498.5h0M110.8 495.0h0M88.0 498.2h0M112.0 508.4h0M111.6 471.4h0M84.0 512.5h0M108.5 495.4h0M86.7 485.4h0M103.0 497.4h0M111.3 484.1h0M110.1 489.9h0M93.4 507.8h0M88.7 475.4h0M99.8 501.2h0M122.7 472.0h0M88.9 480.2h0M96.9 499.7h0M109.9 484.3h0M84.0 482.4h0M84.9 511.3h0M116.7 463.7h0M103.8 467.0h0M109.0 492.5h0M94.0 476.0h0M115.4 484.9h0M120.6 505.7h0M76.3 476.4h0M80.0 500.7h0M108.1 472.8h0M70.8 478.2h0M76.7 511.8h0M100.5 499.3h0M93.6 461.3h0M103.5 471.0h0M113.0 495.4h0M69.4 514.5h0M76.2 507.5h0M103.8 500.6h0M107.9 476.7h0M74.9 489.6h0M119.6 503.2h0M110.9 479.4h0M90.4 471.3h0M107.9 479.1h0M120.2 479.0h0M80.7 481.1h0M88.8 468.9h0M79.8 508.2h0M107.8 475.2h0M82.2 493.3h0M97.7 460.4h0M72.0 481.8h0M99.1 474.0h0M72.9 500.9h0M90.1 476.2h0M116.1 484.5h0M85.2 490.0h0M108.3 472.6h0M107.8 497.1h0M83.9 516.0h0M78.2 505.1h0M71.5 492.3h0" stroke="#e06410" stroke-width="1.0" stroke-linecap="round" fill="none" opacity="0.95"/>
</g>
</svg>
<rect x="31.90" y="514.00" width="28.00" height="1.90" fill="#fff"/>
<rect x="94.50" y="514.00" width="27.80" height="1.90" fill="#fff"/>
<rect x="0.00" y="517.30" width="50.20" height="7.30" fill="#000"/>
<text x="0.30" y="523.24" fill="#e01010" style="stroke:#e01010">dsDNA</text>
<text x="23.00" y="523.24" fill="#20c020" style="stroke:#20c020">TOMM20</text>
<rect x="137.60" y="452.60" width="6.60" height="3.60" fill="#8c8c8c" stroke="#000" stroke-width="0.5"/>
<rect x="137.60" y="460.60" width="6.60" height="3.60" fill="#fff" stroke="#000" stroke-width="0.5"/>
<text x="147.00" y="456.74">sgNTC</text>
<text x="147.00" y="464.74">sg<tspan font-style="italic" font-size="6.3">Vdac2</tspan></text>
<line x1="151.70" y1="475.40" x2="151.70" y2="508.50" stroke="#000" stroke-width="0.5"/>
<line x1="151.70" y1="512.20" x2="151.70" y2="515.80" stroke="#000" stroke-width="0.5"/>
<line x1="149.70" y1="475.60" x2="151.70" y2="475.60" stroke="#000" stroke-width="0.5"/>
<text x="148.70" y="477.94" text-anchor="end">16</text>
<line x1="149.70" y1="492.00" x2="151.70" y2="492.00" stroke="#000" stroke-width="0.5"/>
<text x="148.70" y="494.34" text-anchor="end">12</text>
<line x1="149.70" y1="508.50" x2="151.70" y2="508.50" stroke="#000" stroke-width="0.5"/>
<text x="148.70" y="510.84" text-anchor="end">8</text>
<line x1="149.70" y1="515.80" x2="151.70" y2="515.80" stroke="#000" stroke-width="0.5"/>
<text x="148.70" y="518.14" text-anchor="end">0</text>
<line x1="149.50" y1="515.80" x2="172.20" y2="515.80" stroke="#000" stroke-width="0.5"/>
<rect x="154.20" y="482.40" width="6.70" height="33.40" fill="#8c8c8c" stroke="#000" stroke-width="0.5"/>
<rect x="163.20" y="501.50" width="6.50" height="14.30" fill="#fff" stroke="#000" stroke-width="0.5"/>
<rect x="149.40" y="509.30" width="23.00" height="2.60" fill="#fff"/>
<line x1="149.80" y1="512.20" x2="172.00" y2="512.20" stroke="#000" stroke-width="0.4" stroke-dasharray="3 2.4"/>
<path d="M156.6 482.2h0M158.2 482.5h0" stroke="#e8452c" stroke-width="1.1" stroke-linecap="round" fill="none"/>
<path d="M165.6 501.2h0M167.2 501.6h0" stroke="#e8452c" stroke-width="1.1" stroke-linecap="round" fill="none"/>
<line x1="156.20" y1="476.60" x2="167.80" y2="476.60" stroke="#000" stroke-width="0.5"/>
<text x="162.00" y="477.49" text-anchor="middle" font-size="7.2" style="stroke-width:0.3px">***</text>
<text x="131.20" y="500.34" text-anchor="middle" transform="rotate(-90 131.20 498.00)">mtDNA MFI (×10<tspan font-size="4.2" dy="-2.4" style="stroke-width:0.06px">3</tspan><tspan dy="2.4" font-size="0.1"> </tspan>)</text>
<text x="181.00" y="443.21" font-weight="bold" style="stroke-width:0.45px" font-size="10.3">p</text>
<rect x="211.00" y="451.20" width="6.80" height="3.60" fill="#555" stroke="#000" stroke-width="0.5"/>
<rect x="211.00" y="459.40" width="6.80" height="3.60" fill="#fff" stroke="#000" stroke-width="0.5"/>
<text x="221.00" y="454.94">sgNTC</text>
<text x="221.00" y="463.34">sg<tspan font-style="italic" font-size="6.3">Vdac2</tspan></text>
<text x="264.50" y="457.94" text-anchor="middle">IFNγ 24 h</text>
<line x1="211.40" y1="466.72" x2="211.40" y2="506.40" stroke="#000" stroke-width="0.5"/>
<line x1="209.10" y1="506.40" x2="211.40" y2="506.40" stroke="#000" stroke-width="0.5"/>
<text x="205.90" y="508.74" text-anchor="end">0</text>
<line x1="209.10" y1="496.48" x2="211.40" y2="496.48" stroke="#000" stroke-width="0.5"/>
<text x="205.90" y="498.82" text-anchor="end">10</text>
<line x1="209.10" y1="486.56" x2="211.40" y2="486.56" stroke="#000" stroke-width="0.5"/>
<text x="205.90" y="488.90" text-anchor="end">20</text>
<line x1="209.10" y1="476.64" x2="211.40" y2="476.64" stroke="#000" stroke-width="0.5"/>
<text x="205.90" y="478.98" text-anchor="end">30</text>
<line x1="209.10" y1="466.72" x2="211.40" y2="466.72" stroke="#000" stroke-width="0.5"/>
<text x="205.90" y="469.06" text-anchor="end">40</text>
<line x1="211.40" y1="506.40" x2="309.60" y2="506.40" stroke="#000" stroke-width="0.5"/>
<rect x="214.00" y="504.02" width="4.20" height="2.38" fill="#555" stroke="#000" stroke-width="0.5"/>
<rect x="220.00" y="487.55" width="4.60" height="18.85" fill="#fff" stroke="#000" stroke-width="0.5"/>
<line x1="222.30" y1="486.35" x2="222.30" y2="487.55" stroke="#000" stroke-width="0.4"/>
<path d="M215.5 503.7h0M216.8 504.0h0" stroke="#e8452c" stroke-width="1.1" stroke-linecap="round" fill="none"/>
<path d="M222.3 486.7h0M222.0 487.8h0" stroke="#e8452c" stroke-width="1.2" stroke-linecap="round" fill="none"/>
<text x="221.00" y="514.05" text-anchor="end" font-style="italic" font-size="6.8" transform="rotate(-45 221.00 511.60)">D-loop1</text>
<rect x="231.00" y="504.42" width="4.20" height="1.98" fill="#555" stroke="#000" stroke-width="0.5"/>
<rect x="237.00" y="485.57" width="4.60" height="20.83" fill="#fff" stroke="#000" stroke-width="0.5"/>
<line x1="239.30" y1="484.37" x2="239.30" y2="485.57" stroke="#000" stroke-width="0.4"/>
<path d="M232.5 504.1h0M233.8 504.4h0" stroke="#e8452c" stroke-width="1.1" stroke-linecap="round" fill="none"/>
<path d="M239.3 484.7h0M239.0 485.8h0" stroke="#e8452c" stroke-width="1.2" stroke-linecap="round" fill="none"/>
<text x="238.00" y="514.05" text-anchor="end" font-style="italic" font-size="6.8" transform="rotate(-45 238.00 511.60)">D-loop2</text>
<rect x="248.00" y="504.02" width="4.20" height="2.38" fill="#555" stroke="#000" stroke-width="0.5"/>
<rect x="254.00" y="476.64" width="4.60" height="29.76" fill="#fff" stroke="#000" stroke-width="0.5"/>
<line x1="256.30" y1="475.44" x2="256.30" y2="476.64" stroke="#000" stroke-width="0.4"/>
<path d="M249.5 503.7h0M250.8 504.0h0" stroke="#e8452c" stroke-width="1.1" stroke-linecap="round" fill="none"/>
<path d="M256.3 475.7h0M256.0 476.8h0" stroke="#e8452c" stroke-width="1.2" stroke-linecap="round" fill="none"/>
<text x="255.00" y="514.05" text-anchor="end" font-style="italic" font-size="6.8" transform="rotate(-45 255.00 511.60)">D-loop3</text>
<rect x="265.00" y="503.42" width="4.20" height="2.98" fill="#555" stroke="#000" stroke-width="0.5"/>
<rect x="271.00" y="472.18" width="4.60" height="34.22" fill="#fff" stroke="#000" stroke-width="0.5"/>
<line x1="273.30" y1="470.98" x2="273.30" y2="472.18" stroke="#000" stroke-width="0.4"/>
<path d="M266.5 503.1h0M267.8 503.4h0" stroke="#e8452c" stroke-width="1.1" stroke-linecap="round" fill="none"/>
<path d="M273.3 471.3h0M273.0 472.4h0" stroke="#e8452c" stroke-width="1.2" stroke-linecap="round" fill="none"/>
<text x="272.00" y="514.05" text-anchor="end" font-style="italic" font-size="6.8" transform="rotate(-45 272.00 511.60)">mtCytb</text>
<rect x="282.00" y="503.42" width="4.20" height="2.98" fill="#555" stroke="#000" stroke-width="0.5"/>
<rect x="288.00" y="475.65" width="4.60" height="30.75" fill="#fff" stroke="#000" stroke-width="0.5"/>
<line x1="290.30" y1="474.45" x2="290.30" y2="475.65" stroke="#000" stroke-width="0.4"/>
<path d="M283.5 503.1h0M284.8 503.4h0" stroke="#e8452c" stroke-width="1.1" stroke-linecap="round" fill="none"/>
<path d="M290.3 474.7h0M290.0 475.8h0" stroke="#e8452c" stroke-width="1.2" stroke-linecap="round" fill="none"/>
<text x="289.00" y="514.05" text-anchor="end" font-style="italic" font-size="6.8" transform="rotate(-45 289.00 511.60)">mtNd4</text>
<rect x="299.00" y="503.42" width="4.20" height="2.98" fill="#555" stroke="#000" stroke-width="0.5"/>
<rect x="305.00" y="484.58" width="4.60" height="21.82" fill="#fff" stroke="#000" stroke-width="0.5"/>
<line x1="307.30" y1="483.38" x2="307.30" y2="484.58" stroke="#000" stroke-width="0.4"/>
<path d="M300.5 503.1h0M301.8 503.4h0" stroke="#e8452c" stroke-width="1.1" stroke-linecap="round" fill="none"/>
<path d="M307.3 483.7h0M307.0 484.8h0" stroke="#e8452c" stroke-width="1.2" stroke-linecap="round" fill="none"/>
<text x="306.00" y="514.05" text-anchor="end" font-style="italic" font-size="6.8" transform="rotate(-45 306.00 511.60)">mt16s</text>
<text x="184.00" y="488.34" text-anchor="middle" transform="rotate(-90 184.00 486.00)">Cytosolic mtDNA</text>
<text x="191.60" y="488.34" text-anchor="middle" transform="rotate(-90 191.60 486.00)">(relative fold change)</text>
<text x="320.40" y="442.31" font-weight="bold" style="stroke-width:0.45px" font-size="10.3">q</text>
<line x1="351.70" y1="465.40" x2="351.70" y2="505.10" stroke="#000" stroke-width="0.5"/>
<line x1="349.40" y1="505.10" x2="351.70" y2="505.10" stroke="#000" stroke-width="0.5"/>
<text x="346.20" y="507.44" text-anchor="end">0</text>
<line x1="349.40" y1="497.16" x2="351.70" y2="497.16" stroke="#000" stroke-width="0.5"/>
<text x="346.20" y="499.50" text-anchor="end">10</text>
<line x1="349.40" y1="489.22" x2="351.70" y2="489.22" stroke="#000" stroke-width="0.5"/>
<text x="346.20" y="491.56" text-anchor="end">20</text>
<line x1="349.40" y1="481.28" x2="351.70" y2="481.28" stroke="#000" stroke-width="0.5"/>
<text x="346.20" y="483.62" text-anchor="end">30</text>
<line x1="349.40" y1="473.34" x2="351.70" y2="473.34" stroke="#000" stroke-width="0.5"/>
<text x="346.20" y="475.68" text-anchor="end">40</text>
<line x1="349.40" y1="465.40" x2="351.70" y2="465.40" stroke="#000" stroke-width="0.5"/>
<text x="346.20" y="467.74" text-anchor="end">50</text>
<line x1="351.70" y1="505.10" x2="378.20" y2="505.10" stroke="#000" stroke-width="0.5"/>
<rect x="353.50" y="494.38" width="4.50" height="10.72" fill="#fff" stroke="#000" stroke-width="0.5"/>
<circle cx="355.1" cy="494.1" r="0.85" fill="none" stroke="#111" stroke-width="0.75"/>
<circle cx="356.5" cy="494.5" r="0.85" fill="none" stroke="#111" stroke-width="0.75"/>
<rect x="359.80" y="472.15" width="4.50" height="32.95" fill="#fff" stroke="#000" stroke-width="0.5"/>
<circle cx="361.4" cy="471.8" r="0.85" fill="none" stroke="#1fa680" stroke-width="0.75"/>
<circle cx="362.8" cy="472.2" r="0.85" fill="none" stroke="#1fa680" stroke-width="0.75"/>
<rect x="365.80" y="498.19" width="4.50" height="6.91" fill="#fff" stroke="#000" stroke-width="0.5"/>
<circle cx="367.4" cy="497.9" r="0.85" fill="none" stroke="#e0761c" stroke-width="0.75"/>
<circle cx="368.8" cy="498.3" r="0.85" fill="none" stroke="#e0761c" stroke-width="0.75"/>
<rect x="372.00" y="496.37" width="4.50" height="8.73" fill="#fff" stroke="#000" stroke-width="0.5"/>
<circle cx="373.6" cy="496.1" r="0.85" fill="none" stroke="#2a5fe0" stroke-width="0.75"/>
<circle cx="375.0" cy="496.5" r="0.85" fill="none" stroke="#2a5fe0" stroke-width="0.75"/>
<line x1="354.20" y1="468.60" x2="363.40" y2="468.60" stroke="#000" stroke-width="0.5"/>
<text x="358.80" y="469.49" text-anchor="middle" font-size="7.2" style="stroke-width:0.3px">***</text>
<line x1="363.30" y1="462.20" x2="375.00" y2="462.20" stroke="#000" stroke-width="0.5"/>
<text x="369.15" y="463.09" text-anchor="middle" font-size="7.2" style="stroke-width:0.3px">***</text>
<line x1="367.60" y1="492.50" x2="375.00" y2="492.50" stroke="#000" stroke-width="0.5"/>
<text x="371.30" y="493.39" text-anchor="middle" font-size="7.2" style="stroke-width:0.3px">**</text>
<text x="364.60" y="515.84" text-anchor="middle">IFNγ 24 h</text>
<circle cx="381.50" cy="466.40" r="1.15" fill="#fff" stroke="#111" stroke-width="0.7"/>
<text x="386.40" y="468.74">sgNTC</text>
<circle cx="381.50" cy="474.60" r="1.15" fill="#fff" stroke="#1fa680" stroke-width="0.7"/>
<text x="386.40" y="476.94">sg<tspan font-style="italic" font-size="6.3">Vdac2</tspan></text>
<circle cx="381.50" cy="482.80" r="1.15" fill="#fff" stroke="#e0761c" stroke-width="0.7"/>
<text x="386.40" y="485.14">sgNTC_ρ<tspan font-size="4.2" dy="-2.4" style="stroke-width:0.06px">0</tspan><tspan dy="2.4" font-size="0.1"> </tspan></text>
<circle cx="381.50" cy="491.00" r="1.15" fill="#fff" stroke="#2a5fe0" stroke-width="0.7"/>
<text x="386.40" y="493.34">sg<tspan font-style="italic" font-size="6.3">Vdac2</tspan>_ρ<tspan font-size="4.2" dy="-2.4" style="stroke-width:0.06px">0</tspan><tspan dy="2.4" font-size="0.1"> </tspan></text>
<text x="323.60" y="488.14" text-anchor="middle" transform="rotate(-90 323.60 485.80)">Relative <tspan font-style="italic" font-size="6.3">Ifnb1</tspan> mRNA</text>
<text x="332.30" y="488.14" text-anchor="middle" transform="rotate(-90 332.30 485.80)">(versus non-treated sgNTC)</text>
<text x="429.20" y="442.31" font-weight="bold" style="stroke-width:0.45px" font-size="10.3">r</text>
<rect x="458.60" y="443.10" width="6.60" height="3.70" fill="#555" stroke="#000" stroke-width="0.5"/>
<rect x="458.60" y="451.60" width="6.60" height="3.70" fill="#fff" stroke="#000" stroke-width="0.5"/>
<text x="468.10" y="447.34">sgNTC</text>
<text x="468.10" y="455.74">sg<tspan font-style="italic" font-size="6.3">VDAC2</tspan></text>
<line x1="465.20" y1="462.60" x2="465.20" y2="493.30" stroke="#000" stroke-width="0.5"/>
<line x1="465.20" y1="495.00" x2="465.20" y2="501.70" stroke="#000" stroke-width="0.5"/>
<line x1="463.80" y1="493.30" x2="466.60" y2="493.30" stroke="#000" stroke-width="0.5"/>
<line x1="463.80" y1="495.00" x2="466.60" y2="495.00" stroke="#000" stroke-width="0.5"/>
<line x1="463.00" y1="501.70" x2="465.20" y2="501.70" stroke="#000" stroke-width="0.5"/>
<text x="460.60" y="504.04" text-anchor="end">0</text>
<line x1="463.00" y1="496.20" x2="465.20" y2="496.20" stroke="#000" stroke-width="0.5"/>
<text x="460.60" y="498.54" text-anchor="end">2</text>
<line x1="463.00" y1="484.40" x2="465.20" y2="484.40" stroke="#000" stroke-width="0.5"/>
<text x="460.60" y="486.74" text-anchor="end">200</text>
<line x1="463.00" y1="473.50" x2="465.20" y2="473.50" stroke="#000" stroke-width="0.5"/>
<text x="460.60" y="475.84" text-anchor="end">400</text>
<line x1="463.00" y1="462.60" x2="465.20" y2="462.60" stroke="#000" stroke-width="0.5"/>
<text x="460.60" y="464.94" text-anchor="end">600</text>
<line x1="465.20" y1="501.70" x2="504.10" y2="501.70" stroke="#000" stroke-width="0.5"/>
<rect x="467.30" y="498.95" width="4.30" height="2.75" fill="#555" stroke="#000" stroke-width="0.5"/>
<path d="M468.6 498.6h0M470.2 498.9h0" stroke="#e8452c" stroke-width="1.1" stroke-linecap="round" fill="none"/>
<rect x="475.20" y="498.95" width="4.30" height="2.75" fill="#fff" stroke="#000" stroke-width="0.5"/>
<path d="M476.5 498.6h0M478.1 498.9h0" stroke="#e8452c" stroke-width="1.1" stroke-linecap="round" fill="none"/>
<rect x="487.80" y="483.58" width="5.80" height="18.12" fill="#6e6e6e" stroke="#000" stroke-width="0.5"/>
<rect x="487.40" y="496.20" width="6.60" height="0.90" fill="#fff"/>
<rect x="487.40" y="498.20" width="6.60" height="0.90" fill="#fff"/>
<path d="M489.9 483.3h0M491.5 483.6h0" stroke="#e8452c" stroke-width="1.1" stroke-linecap="round" fill="none"/>
<rect x="495.70" y="470.50" width="5.80" height="31.20" fill="#fff" stroke="#000" stroke-width="0.5"/>
<rect x="495.30" y="496.20" width="6.60" height="0.90" fill="#fff"/>
<rect x="495.30" y="498.20" width="6.60" height="0.90" fill="#fff"/>
<path d="M497.8 470.2h0M499.4 470.5h0" stroke="#e8452c" stroke-width="1.1" stroke-linecap="round" fill="none"/>
<line x1="467.30" y1="495.40" x2="480.00" y2="495.40" stroke="#000" stroke-width="0.5"/>
<text x="473.65" y="494.13" text-anchor="middle" font-size="6.2">NS</text>
<line x1="488.80" y1="467.30" x2="502.00" y2="467.30" stroke="#000" stroke-width="0.5"/>
<text x="495.40" y="468.19" text-anchor="middle" font-size="7.2" style="stroke-width:0.3px">***</text>
<text x="431.80" y="486.74" text-anchor="middle" transform="rotate(-90 431.80 484.40)">Relative <tspan font-style="italic" font-size="6.3">IFNB1</tspan> mRNA</text>
<text x="440.20" y="486.74" text-anchor="middle" transform="rotate(-90 440.20 484.40)">(versus non-treated sgNTC)</text>
<text x="475.40" y="512.68" text-anchor="end" font-size="6.9" transform="rotate(-45 475.40 510.20)">Untreated</text>
<line x1="475.90" y1="501.70" x2="475.90" y2="503.50" stroke="#000" stroke-width="0.5"/>
<text x="498.60" y="512.68" text-anchor="end" font-size="6.9" transform="rotate(-45 498.60 510.20)">IFNγ 48 h</text>
<line x1="499.10" y1="501.70" x2="499.10" y2="503.50" stroke="#000" stroke-width="0.5"/>
<line x1="546.60" y1="462.60" x2="546.60" y2="493.30" stroke="#000" stroke-width="0.5"/>
<line x1="546.60" y1="495.00" x2="546.60" y2="501.70" stroke="#000" stroke-width="0.5"/>
<line x1="545.20" y1="493.30" x2="548.00" y2="493.30" stroke="#000" stroke-width="0.5"/>
<line x1="545.20" y1="495.00" x2="548.00" y2="495.00" stroke="#000" stroke-width="0.5"/>
<line x1="544.40" y1="501.70" x2="546.60" y2="501.70" stroke="#000" stroke-width="0.5"/>
<text x="542.00" y="504.04" text-anchor="end">0</text>
<line x1="544.40" y1="496.20" x2="546.60" y2="496.20" stroke="#000" stroke-width="0.5"/>
<text x="542.00" y="498.54" text-anchor="end">2</text>
<line x1="544.40" y1="484.40" x2="546.60" y2="484.40" stroke="#000" stroke-width="0.5"/>
<text x="542.00" y="486.74" text-anchor="end">200</text>
<line x1="544.40" y1="473.50" x2="546.60" y2="473.50" stroke="#000" stroke-width="0.5"/>
<text x="542.00" y="475.84" text-anchor="end">400</text>
<line x1="544.40" y1="462.60" x2="546.60" y2="462.60" stroke="#000" stroke-width="0.5"/>
<text x="542.00" y="464.94" text-anchor="end">600</text>
<line x1="546.60" y1="501.70" x2="586.00" y2="501.70" stroke="#000" stroke-width="0.5"/>
<rect x="549.30" y="498.95" width="4.60" height="2.75" fill="#555" stroke="#000" stroke-width="0.5"/>
<path d="M550.8 498.6h0M552.4 498.9h0" stroke="#e8452c" stroke-width="1.1" stroke-linecap="round" fill="none"/>
<rect x="556.70" y="500.05" width="4.60" height="1.65" fill="#fff" stroke="#000" stroke-width="0.5"/>
<path d="M558.2 499.8h0M559.8 500.1h0" stroke="#e8452c" stroke-width="1.1" stroke-linecap="round" fill="none"/>
<rect x="569.80" y="483.04" width="5.80" height="18.66" fill="#6e6e6e" stroke="#000" stroke-width="0.5"/>
<rect x="569.40" y="496.20" width="6.60" height="0.90" fill="#fff"/>
<rect x="569.40" y="498.20" width="6.60" height="0.90" fill="#fff"/>
<path d="M571.9 482.7h0M573.5 483.0h0" stroke="#e8452c" stroke-width="1.1" stroke-linecap="round" fill="none"/>
<rect x="577.60" y="469.14" width="5.80" height="32.56" fill="#fff" stroke="#000" stroke-width="0.5"/>
<rect x="577.20" y="496.20" width="6.60" height="0.90" fill="#fff"/>
<rect x="577.20" y="498.20" width="6.60" height="0.90" fill="#fff"/>
<path d="M579.7 468.8h0M581.3 469.1h0" stroke="#e8452c" stroke-width="1.1" stroke-linecap="round" fill="none"/>
<line x1="549.00" y1="495.40" x2="562.00" y2="495.40" stroke="#000" stroke-width="0.5"/>
<text x="555.50" y="494.13" text-anchor="middle" font-size="6.2">NS</text>
<line x1="571.60" y1="464.10" x2="584.20" y2="464.10" stroke="#000" stroke-width="0.5"/>
<text x="577.90" y="464.99" text-anchor="middle" font-size="7.2" style="stroke-width:0.3px">***</text>
<text x="515.90" y="486.74" text-anchor="middle" transform="rotate(-90 515.90 484.40)">Relative <tspan font-style="italic" font-size="6.3">CCL5</tspan> mRNA</text>
<text x="523.80" y="486.74" text-anchor="middle" transform="rotate(-90 523.80 484.40)">(versus non-treated sgNTC)</text>
<text x="555.60" y="512.68" text-anchor="end" font-size="6.9" transform="rotate(-45 555.60 510.20)">Untreated</text>
<line x1="556.10" y1="501.70" x2="556.10" y2="503.50" stroke="#000" stroke-width="0.5"/>
<text x="578.40" y="512.68" text-anchor="end" font-size="6.9" transform="rotate(-45 578.40 510.20)">IFNγ 48 h</text>
<line x1="578.90" y1="501.70" x2="578.90" y2="503.50" stroke="#000" stroke-width="0.5"/>
<text x="589.00" y="330.31" font-weight="bold" style="stroke-width:0.45px" font-size="10.3">s</text>
<text x="638.20" y="352.64" transform="rotate(-45 638.20 350.30)">Untreated</text>
<text x="658.00" y="352.64" transform="rotate(-45 658.00 350.30)">IFNγ 48 h</text>
<line x1="633.50" y1="353.50" x2="649.80" y2="353.50" stroke="#555" stroke-width="0.5"/>
<line x1="652.30" y1="353.50" x2="669.00" y2="353.50" stroke="#555" stroke-width="0.5"/>
<text x="630.70" y="362.34" text-anchor="end">sgNTC</text>
<text x="637.50" y="362.43" text-anchor="middle" font-size="6.2">+</text>
<line x1="644.90" y1="360.00" x2="647.70" y2="360.00" stroke="#000" stroke-width="0.65"/>
<text x="655.70" y="362.43" text-anchor="middle" font-size="6.2">+</text>
<line x1="663.50" y1="360.00" x2="666.30" y2="360.00" stroke="#000" stroke-width="0.65"/>
<text x="630.70" y="370.24" text-anchor="end">sg<tspan font-style="italic" font-size="6.3">VDAC2</tspan></text>
<line x1="636.10" y1="367.90" x2="638.90" y2="367.90" stroke="#000" stroke-width="0.65"/>
<text x="646.30" y="370.33" text-anchor="middle" font-size="6.2">+</text>
<line x1="654.30" y1="367.90" x2="657.10" y2="367.90" stroke="#000" stroke-width="0.65"/>
<text x="664.90" y="370.33" text-anchor="middle" font-size="6.2">+</text>
<text x="673.00" y="370.84">kDa</text>
<svg x="632.60" y="372.60" width="37.40" height="9.80" viewBox="632.60 372.60 37.40 9.80">
<rect x="632.60" y="372.60" width="37.40" height="9.80" fill="#fbfbfb"/>
<g filter="url(#bl)">
<rect x="651.8" y="374.8" width="7.8" height="3.2" rx="1.6" fill="#000" opacity="1.00"/>
<rect x="661.0" y="374.8" width="7.8" height="3.2" rx="1.6" fill="#000" opacity="1.00"/>
</g>
</svg>
<rect x="632.60" y="372.60" width="37.40" height="9.80" fill="none" stroke="#1a1a1a" stroke-width="0.5"/>
<text x="630.30" y="380.14" text-anchor="end">p-STAT1<tspan font-size="4.1" dy="-2.4" style="stroke-width:0.06px">Y701</tspan><tspan dy="2.4" font-size="0.1"> </tspan></text>
<line x1="670.00" y1="378.60" x2="671.50" y2="378.60" stroke="#000" stroke-width="0.5"/>
<text x="674.60" y="380.94">75</text>
<text x="655.00" y="390.94" text-anchor="middle">1.0</text>
<text x="666.20" y="390.94" text-anchor="middle">2.5</text>
<svg x="632.60" y="393.30" width="37.40" height="9.40" viewBox="632.60 393.30 37.40 9.40">
<rect x="632.60" y="393.30" width="37.40" height="9.40" fill="#f3f3f3"/>
<g filter="url(#bl)">
<rect x="633.7" y="396.4" width="7.6" height="3.2" rx="1.6" fill="#000" opacity="0.04"/>
<rect x="642.5" y="396.4" width="7.6" height="3.2" rx="1.6" fill="#000" opacity="0.06"/>
<rect x="651.9" y="396.4" width="7.6" height="3.2" rx="1.6" fill="#000" opacity="0.60"/>
<rect x="661.1" y="396.4" width="7.6" height="3.2" rx="1.6" fill="#000" opacity="1.00"/>
</g>
</svg>
<rect x="632.60" y="393.30" width="37.40" height="9.40" fill="none" stroke="#1a1a1a" stroke-width="0.5"/>
<text x="630.30" y="400.64" text-anchor="end">p-STING<tspan font-size="4.1" dy="-2.4" style="stroke-width:0.06px">S366</tspan><tspan dy="2.4" font-size="0.1"> </tspan></text>
<line x1="670.00" y1="399.80" x2="671.50" y2="399.80" stroke="#000" stroke-width="0.5"/>
<text x="674.60" y="402.14">37</text>
<svg x="632.60" y="405.50" width="37.40" height="10.30" viewBox="632.60 405.50 37.40 10.30">
<rect x="632.60" y="405.50" width="37.40" height="10.30" fill="#ededed"/>
<g filter="url(#bl)">
<rect x="633.4" y="408.3" width="8.2" height="3.4" rx="1.6" fill="#000" opacity="0.28"/>
<rect x="642.2" y="408.3" width="8.2" height="3.4" rx="1.6" fill="#000" opacity="0.30"/>
<rect x="651.6" y="408.3" width="8.2" height="3.4" rx="1.6" fill="#000" opacity="1.00"/>
<rect x="660.8" y="408.3" width="8.2" height="3.4" rx="1.6" fill="#000" opacity="1.00"/>
</g>
</svg>
<rect x="632.60" y="405.50" width="37.40" height="10.30" fill="none" stroke="#1a1a1a" stroke-width="0.5"/>
<text x="630.30" y="413.29" text-anchor="end">STING</text>
<line x1="670.00" y1="408.20" x2="671.50" y2="408.20" stroke="#000" stroke-width="0.5"/>
<text x="674.60" y="410.54">37</text>
<text x="655.00" y="424.94" text-anchor="middle">1.0</text>
<text x="666.20" y="424.94" text-anchor="middle">2.4</text>
<svg x="632.60" y="426.50" width="37.40" height="9.80" viewBox="632.60 426.50 37.40 9.80">
<rect x="632.60" y="426.50" width="37.40" height="9.80" fill="#f3f3f3"/>
<g filter="url(#bl)">
<rect x="633.7" y="429.9" width="7.6" height="2.6" rx="1.3" fill="#000" opacity="0.06"/>
<rect x="642.5" y="429.9" width="7.6" height="2.6" rx="1.3" fill="#000" opacity="0.05"/>
<rect x="651.9" y="429.9" width="7.6" height="2.6" rx="1.3" fill="#000" opacity="0.65"/>
<rect x="661.1" y="429.9" width="7.6" height="2.6" rx="1.3" fill="#000" opacity="0.95"/>
</g>
</svg>
<rect x="632.60" y="426.50" width="37.40" height="9.80" fill="none" stroke="#1a1a1a" stroke-width="0.5"/>
<text x="630.30" y="434.04" text-anchor="end">p-TBK1<tspan font-size="4.1" dy="-2.4" style="stroke-width:0.06px">S172</tspan><tspan dy="2.4" font-size="0.1"> </tspan></text>
<line x1="670.00" y1="432.60" x2="671.50" y2="432.60" stroke="#000" stroke-width="0.5"/>
<text x="674.60" y="434.94">75</text>
<svg x="632.60" y="439.10" width="37.40" height="9.40" viewBox="632.60 439.10 37.40 9.40">
<rect x="632.60" y="439.10" width="37.40" height="9.40" fill="#f3f3f3"/>
<g filter="url(#bl)">
<rect x="633.1" y="442.7" width="8.8" height="2.8" rx="1.4" fill="#000" opacity="0.95"/>
<rect x="641.9" y="442.7" width="8.8" height="2.8" rx="1.4" fill="#000" opacity="0.95"/>
<rect x="651.3" y="442.7" width="8.8" height="2.8" rx="1.4" fill="#000" opacity="0.95"/>
<rect x="660.5" y="442.7" width="8.8" height="2.8" rx="1.4" fill="#000" opacity="0.95"/>
</g>
</svg>
<rect x="632.60" y="439.10" width="37.40" height="9.40" fill="none" stroke="#1a1a1a" stroke-width="0.5"/>
<text x="630.30" y="446.44" text-anchor="end">TBK1</text>
<line x1="670.00" y1="445.30" x2="671.50" y2="445.30" stroke="#000" stroke-width="0.5"/>
<text x="674.60" y="447.64">75</text>
<text x="655.00" y="458.04" text-anchor="middle">1.0</text>
<text x="666.20" y="458.04" text-anchor="middle">2.2</text>
<svg x="632.60" y="459.80" width="37.40" height="11.30" viewBox="632.60 459.80 37.40 11.30">
<rect x="632.60" y="459.80" width="37.40" height="11.30" fill="#dcdcdc"/>
<g filter="url(#bl2)">
<ellipse cx="637.5" cy="466.0" rx="3" ry="4" fill="#000" opacity="0.35"/>
<ellipse cx="646.3" cy="466.0" rx="3" ry="4" fill="#000" opacity="0.25"/>
<ellipse cx="655.7" cy="465.0" rx="3" ry="4.5" fill="#000" opacity="0.4"/>
<ellipse cx="664.9" cy="464.0" rx="3.2" ry="5" fill="#000" opacity="0.6"/>
</g>
<g filter="url(#bl)">
<rect x="634.2" y="463.7" width="6.6" height="3.8" rx="1.6" fill="#000" opacity="0.25"/>
<rect x="643.0" y="463.7" width="6.6" height="3.8" rx="1.6" fill="#000" opacity="0.12"/>
<rect x="652.4" y="463.7" width="6.6" height="3.8" rx="1.6" fill="#000" opacity="0.50"/>
<rect x="661.6" y="463.7" width="6.6" height="3.8" rx="1.6" fill="#000" opacity="0.90"/>
</g>
</svg>
<rect x="632.60" y="459.80" width="37.40" height="11.30" fill="none" stroke="#1a1a1a" stroke-width="0.5"/>
<text x="630.30" y="468.09" text-anchor="end">p-IRF3<tspan font-size="4.1" dy="-2.4" style="stroke-width:0.06px">S396</tspan><tspan dy="2.4" font-size="0.1"> </tspan></text>
<line x1="670.00" y1="463.60" x2="671.50" y2="463.60" stroke="#000" stroke-width="0.5"/>
<text x="674.60" y="465.94">50</text>
<svg x="632.60" y="473.00" width="37.40" height="9.90" viewBox="632.60 473.00 37.40 9.90">
<rect x="632.60" y="473.00" width="37.40" height="9.90" fill="#d8d8d8"/>
<g filter="url(#bl)">
<rect x="633.4" y="476.2" width="8.2" height="3.4" rx="1.6" fill="#000" opacity="0.90"/>
<rect x="642.2" y="476.2" width="8.2" height="3.4" rx="1.6" fill="#000" opacity="0.95"/>
<rect x="651.6" y="476.2" width="8.2" height="3.4" rx="1.6" fill="#000" opacity="0.85"/>
<rect x="660.8" y="476.2" width="8.2" height="3.4" rx="1.6" fill="#000" opacity="0.85"/>
</g>
</svg>
<rect x="632.60" y="473.00" width="37.40" height="9.90" fill="none" stroke="#1a1a1a" stroke-width="0.5"/>
<text x="630.30" y="480.59" text-anchor="end">IRF3</text>
<line x1="670.00" y1="475.80" x2="671.50" y2="475.80" stroke="#000" stroke-width="0.5"/>
<text x="674.60" y="478.14">50</text>
<svg x="632.60" y="485.20" width="37.40" height="10.30" viewBox="632.60 485.20 37.40 10.30">
<rect x="632.60" y="485.20" width="37.40" height="10.30" fill="#e9e9e9"/>
<g filter="url(#bl)">
<rect x="633.7" y="488.5" width="7.6" height="3.8" rx="1.6" fill="#000" opacity="1.00"/>
<rect x="642.5" y="488.5" width="7.6" height="3.8" rx="1.6" fill="#000" opacity="0.38"/>
<rect x="651.9" y="488.5" width="7.6" height="3.8" rx="1.6" fill="#000" opacity="0.95"/>
<rect x="661.1" y="488.5" width="7.6" height="3.8" rx="1.6" fill="#000" opacity="0.42"/>
</g>
</svg>
<rect x="632.60" y="485.20" width="37.40" height="10.30" fill="none" stroke="#1a1a1a" stroke-width="0.5"/>
<text x="630.30" y="492.99" text-anchor="end">VDAC2</text>
<line x1="670.00" y1="493.10" x2="671.50" y2="493.10" stroke="#000" stroke-width="0.5"/>
<text x="674.60" y="495.44">25</text>
<svg x="632.60" y="498.30" width="37.40" height="9.40" viewBox="632.60 498.30 37.40 9.40">
<rect x="632.60" y="498.30" width="37.40" height="9.40" fill="#f3f3f3"/>
<g filter="url(#bl)">
<rect x="633.0" y="501.4" width="9.0" height="3.2" rx="1.6" fill="#000" opacity="0.98"/>
<rect x="641.8" y="501.4" width="9.0" height="3.2" rx="1.6" fill="#000" opacity="0.98"/>
<rect x="651.2" y="501.4" width="9.0" height="3.2" rx="1.6" fill="#000" opacity="0.98"/>
<rect x="660.4" y="501.4" width="9.0" height="3.2" rx="1.6" fill="#000" opacity="0.98"/>
</g>
</svg>
<rect x="632.60" y="498.30" width="37.40" height="9.40" fill="none" stroke="#1a1a1a" stroke-width="0.5"/>
<text x="630.30" y="505.64" text-anchor="end">β-Actin</text>
<line x1="670.00" y1="504.90" x2="671.50" y2="504.90" stroke="#000" stroke-width="0.5"/>
<text x="674.60" y="507.24">37</text>
</svg>
</body></html>
